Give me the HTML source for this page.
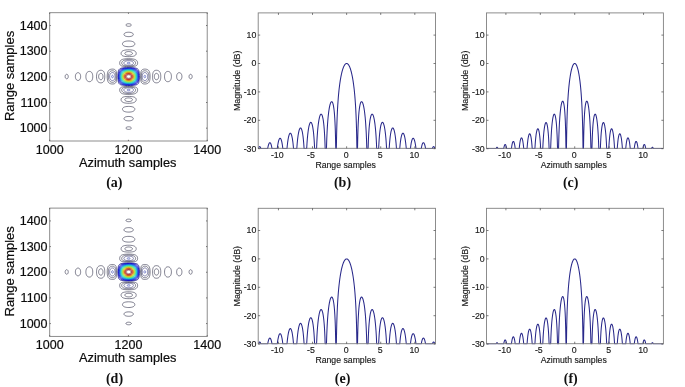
<!DOCTYPE html>
<html lang="en"><head><meta charset="utf-8"><title>Figure</title>
<style>
html,body{margin:0;padding:0;background:#fff;}
body{width:685px;height:387px;overflow:hidden;}
svg{display:block;font-family:"Liberation Sans", Arial, Helvetica, sans-serif;}
</style></head><body>
<svg width="685" height="387" viewBox="0 0 685 387">
<defs><filter id="bl" x="-20%" y="-20%" width="140%" height="140%"><feGaussianBlur stdDeviation="0.3"/></filter></defs>
<rect width="685" height="387" fill="#fff"/>
<g><path d="M127.81 23.78 128.36 23.73 128.89 23.73 129.41 23.77 129.94 23.87 130.29 23.98 130.64 24.13 130.99 24.36 131.21 24.58 131.34 24.87 131.36 25.06 131.33 25.22 131.26 25.39 131.14 25.55 130.97 25.71 130.64 25.91 130.29 26.06 129.76 26.2 129.24 26.28 128.71 26.3 128.19 26.29 127.66 26.22 127.14 26.1 126.79 25.97 126.44 25.78 126.16 25.55 126.04 25.39 125.97 25.22 125.94 25.06 125.95 24.9 126.08 24.59 126.23 24.42 126.61 24.16 126.96 24 127.31 23.88ZM127.46 32.29 128.36 32.23 129.24 32.24 130.11 32.32 130.99 32.49 131.69 32.72 132.22 32.96 132.74 33.33 133.09 33.74 133.18 33.9 133.29 34.22 133.31 34.54 133.29 34.7 133.18 35.02 133.09 35.18 132.82 35.5 132.39 35.83 131.74 36.14 130.99 36.37 130.11 36.53 129.24 36.61 128.19 36.61 127.31 36.54 126.44 36.4 125.56 36.14 125.03 35.9 124.51 35.53 124.21 35.18 124.12 35.02 124.01 34.7 123.99 34.54 124.01 34.22 124.12 33.9 124.21 33.74 124.51 33.38 125.03 32.99 125.73 32.67 126.49 32.45ZM126.45 41.12 127.66 41 129.06 40.98 130.29 41.05 131.52 41.24 132.39 41.46 133.27 41.82 133.62 42.02 133.94 42.25 134.41 42.73 134.61 43.05 134.74 43.37 134.81 43.69 134.82 44.01 134.78 44.33 134.67 44.65 134.49 44.98 134.23 45.3 133.97 45.52 133.62 45.76 132.89 46.1 131.87 46.39 130.71 46.58 129.41 46.68 128.19 46.69 126.96 46.62 125.73 46.45 124.86 46.25 124.03 45.94 123.46 45.61 123.25 45.46 122.93 45.14 122.71 44.82 122.57 44.49 122.49 44.17 122.48 43.85 122.52 43.53 122.62 43.21 122.78 42.89 123.02 42.57 123.28 42.31 123.58 42.09 123.98 41.84 124.33 41.68 124.86 41.48 125.38 41.33ZM126.07 49.95 127.66 49.83 129.24 49.82 130.82 49.91 132.31 50.11 133.44 50.39 134.32 50.74 135.02 51.16 135.3 51.4 135.6 51.72 135.83 52.04 136.05 52.52 136.18 53 136.21 53.49 136.16 53.97 136.07 54.29 135.83 54.77 135.58 55.09 135.23 55.41 134.84 55.67 134.4 55.89 133.98 56.06 133.44 56.22 132.74 56.37 131.34 56.56 129.59 56.67 127.84 56.67 126.08 56.57 124.68 56.39 123.63 56.15 122.76 55.83 122.41 55.64 122.07 55.41 121.88 55.25 121.58 54.93 121.38 54.61 121.18 54.13 121.1 53.65 121.1 53.17 121.19 52.68 121.31 52.36 121.58 51.88 121.84 51.56 122.18 51.24 122.58 50.96 122.94 50.76 123.46 50.53 123.98 50.36 124.68 50.18ZM126.15 58.79 128.19 58.71 130.29 58.74 132.22 58.88 133.72 59.11 134.32 59.25 134.91 59.43 135.37 59.61 135.9 59.88 136.25 60.12 136.56 60.39 136.85 60.71 137.07 61.03 137.31 61.52 137.51 62.16 137.61 62.8 137.6 63.44 137.49 64.08 137.32 64.57 137.12 64.9 136.77 65.31 136.42 65.58 135.9 65.85 135.48 66.01 134.89 66.17 134.14 66.32 133.27 66.43 131.17 66.58 128.89 66.62 126.61 66.59 124.71 66.49 123.26 66.33 122.23 66.13 121.35 65.83 121 65.65 120.65 65.41 120.43 65.21 120.17 64.89 119.91 64.41 119.74 63.76 119.68 63.12 119.73 62.48 119.87 61.84 120.06 61.35 120.33 60.87 120.74 60.39 121.12 60.07 121.64 59.75 122.23 59.49 122.76 59.31 123.46 59.13 124.33 58.98ZM111.09 69.22 111.72 69.13 112.24 69.09 113.3 69.14 113.82 69.22 114.35 69.38 114.7 69.52 115.05 69.73 115.4 70.02 115.57 70.22 115.78 70.51 116.03 70.99 116.21 71.47 116.34 71.95 116.54 73.08 116.63 74.04 116.7 75.32 116.72 76.77 116.69 78.05 116.62 79.18 116.5 80.3 116.35 81.11 116.17 81.75 115.92 82.35 115.7 82.71 115.4 83.08 115.05 83.37 114.7 83.58 114.17 83.78 113.65 83.91 112.93 84 112.42 84.01 111.72 83.97 111.19 83.9 110.67 83.78 110.14 83.61 109.62 83.37 109.27 83.16 108.92 82.88 108.59 82.55 108.34 82.23 108.15 81.91 107.91 81.43 107.74 80.94 107.56 80.3 107.34 79.02 107.25 78.05 107.2 77.09 107.21 75.97 107.25 75 107.34 74.04 107.47 73.24 107.65 72.43 107.86 71.8 108.08 71.31 108.39 70.81 108.74 70.38 109.09 70.07 109.44 69.83 109.97 69.56 110.49 69.37ZM143.49 69.22 144.13 69.12 144.66 69.09 145.36 69.11 145.88 69.17 146.41 69.26 146.93 69.41 147.46 69.61 147.81 69.8 148.16 70.03 148.51 70.33 148.81 70.67 149.03 70.99 149.22 71.31 149.43 71.79 149.73 72.76 149.89 73.56 150.01 74.52 150.08 75.49 150.1 76.61 150.07 77.73 150 78.7 149.87 79.66 149.7 80.46 149.51 81.11 149.32 81.59 149.04 82.11 148.71 82.55 148.33 82.93 147.98 83.19 147.46 83.49 146.93 83.69 146.41 83.84 145.88 83.93 145.36 83.99 144.66 84.01 144.13 83.98 143.6 83.9 143.08 83.77 142.73 83.63 142.2 83.33 141.86 83.03 141.68 82.82 141.49 82.55 141.25 82.07 140.98 81.22 140.8 80.3 140.69 79.34 140.62 78.21 140.58 76.77 140.6 75.49 140.66 74.2 140.76 73.08 140.92 72.11 141.09 71.47 141.33 70.86 141.52 70.51 141.85 70.07 142.2 69.77 142.55 69.55 143.08 69.33ZM99.97 70.35 100.51 70.27 101.03 70.26 101.56 70.31 101.91 70.39 102.26 70.49 102.65 70.67 102.96 70.85 103.31 71.14 103.61 71.47 103.84 71.79 104.19 72.51 104.45 73.4 104.65 74.52 104.72 75.32 104.76 76.13 104.76 77.09 104.72 77.89 104.53 79.34 104.38 79.98 104.19 80.59 104.01 80.99 103.76 81.43 103.48 81.78 103.13 82.12 102.78 82.36 102.43 82.54 102.08 82.67 101.56 82.79 101.03 82.84 100.51 82.83 99.98 82.76 99.63 82.67 99.1 82.48 98.75 82.31 98.4 82.08 98.05 81.78 97.74 81.43 97.53 81.13 97.33 80.78 97.11 80.3 96.81 79.34 96.61 78.21 96.51 76.77 96.52 75.97 96.58 75.16 96.68 74.36 96.82 73.72 97 73.08 97.18 72.63 97.35 72.27 97.65 71.79 97.91 71.47 98.24 71.15 98.69 70.83 99.1 70.62 99.46 70.48ZM155.56 70.35 156.04 70.28 156.57 70.26 157.09 70.31 157.44 70.37 157.92 70.51 158.32 70.67 158.67 70.87 159.02 71.12 159.55 71.66 159.76 71.95 160.03 72.43 160.24 72.92 160.4 73.4 160.62 74.36 160.71 75 160.77 75.81 160.79 76.61 160.76 77.41 160.69 78.21 160.59 78.86 160.45 79.5 160.26 80.14 160.05 80.62 159.79 81.11 159.55 81.44 159.2 81.83 158.85 82.11 158.5 82.34 158.15 82.51 157.62 82.69 157.27 82.77 156.74 82.83 156.22 82.84 155.87 82.8 155.34 82.7 154.99 82.59 154.64 82.43 154.29 82.21 153.94 81.91 153.77 81.73 153.54 81.43 153.27 80.94 152.96 80.14 152.71 79.03 152.61 78.21 152.55 77.41 152.53 76.45 152.56 75.65 152.62 74.84 152.72 74.04 152.85 73.4 153.03 72.76 153.21 72.27 153.42 71.87 153.69 71.47 153.98 71.15 154.29 70.89 154.64 70.67 155.17 70.45ZM88.83 71.47 89.29 71.42 89.64 71.42 89.99 71.47 90.35 71.55 90.7 71.69 91.05 71.89 91.5 72.27 91.92 72.81 92.29 73.56 92.45 74.04 92.56 74.52 92.71 75.49 92.76 76.77 92.68 77.89 92.6 78.38 92.46 79.02 92.17 79.82 91.92 80.29 91.75 80.54 91.54 80.78 91.22 81.08 90.87 81.32 90.52 81.48 90.17 81.6 89.82 81.66 89.12 81.67 88.77 81.62 88.42 81.52 88.07 81.38 87.72 81.18 87.19 80.74 86.95 80.46 86.73 80.14 86.49 79.71 86.34 79.34 86.06 78.38 85.92 77.41 85.89 76.29 85.98 75.16 86.19 74.2 86.49 73.39 86.86 72.76 87.19 72.36 87.46 72.11 87.72 71.92 88.07 71.72 88.42 71.58ZM167.28 71.47 167.78 71.41 168.13 71.42 168.48 71.47 168.83 71.56 169.18 71.7 169.53 71.89 170.02 72.27 170.32 72.59 170.55 72.92 170.88 73.56 171.15 74.36 171.34 75.32 171.42 76.45 171.36 77.57 171.2 78.54 171.07 79.02 170.9 79.5 170.57 80.14 170.35 80.46 170.06 80.79 169.71 81.09 169.36 81.31 169.01 81.48 168.66 81.59 167.96 81.69 167.61 81.68 167.26 81.62 166.91 81.53 166.55 81.38 166.2 81.18 165.92 80.94 165.5 80.48 165.13 79.82 164.94 79.34 164.8 78.87 164.63 77.94 164.54 76.77 164.59 75.49 164.77 74.36 164.9 73.88 165.08 73.4 165.32 72.92 165.5 72.62 165.96 72.11 166.2 71.92 166.55 71.72 166.91 71.57ZM77.46 72.76 77.73 72.69 78.08 72.67 78.61 72.74 79.13 72.97 79.48 73.22 79.83 73.6 80.18 74.19 80.42 74.84 80.56 75.49 80.64 76.29 80.61 77.25 80.48 78.05 80.27 78.7 79.94 79.34 79.54 79.82 79.13 80.14 78.61 80.36 78.08 80.43 77.56 80.37 77.03 80.17 76.53 79.82 76.15 79.39 75.84 78.86 75.6 78.21 75.45 77.57 75.37 76.77 75.41 75.81 75.56 75 75.79 74.36 76.15 73.72 76.5 73.31 76.79 73.08 77.03 72.93ZM178.65 72.76 179.17 72.67 179.69 72.72 180.22 72.9 180.72 73.24 181.1 73.64 181.44 74.2 181.69 74.84 181.84 75.49 181.93 76.29 181.91 77.09 181.79 77.89 181.53 78.7 181.18 79.34 180.77 79.82 180.4 80.1 179.87 80.34 179.34 80.43 178.82 80.39 178.29 80.2 177.94 79.98 177.77 79.83 177.42 79.43 177.09 78.86 176.89 78.31 176.73 77.57 176.66 76.77 176.69 75.81 176.83 75 177.04 74.36 177.38 73.72 177.77 73.27 178.12 73ZM66.32 74.36 66.52 74.31 66.87 74.31 67.09 74.36 67.4 74.52 67.73 74.84 67.92 75.13 68.08 75.49 68.17 75.81 68.24 76.29 68.24 76.77 68.18 77.25 68.09 77.57 67.92 77.97 67.75 78.24 67.45 78.54 67.19 78.7 66.87 78.79 66.52 78.79 66.22 78.7 65.99 78.57 65.64 78.22 65.47 77.95 65.3 77.57 65.22 77.25 65.15 76.77 65.15 76.29 65.23 75.81 65.32 75.49 65.47 75.15 65.67 74.84 65.99 74.53ZM190.21 74.36 190.56 74.3 190.91 74.34 191.26 74.5 191.43 74.64 191.63 74.84 191.84 75.16 191.98 75.49 192.11 75.97 192.16 76.45 192.14 76.93 192.08 77.25 191.96 77.67 191.78 78.04 191.61 78.28 191.34 78.54 191.08 78.7 190.73 78.8 190.38 78.79 190.11 78.7 189.86 78.55 189.67 78.38 189.43 78.05 189.27 77.73 189.12 77.25 189.06 76.77 189.06 76.29 189.13 75.81 189.22 75.49 189.45 75 189.68 74.71 189.9 74.52ZM125.32 86.56 127.49 86.49 129.76 86.48 131.98 86.56 133.62 86.71 134.84 86.92 135.34 87.05 135.8 87.21 136.43 87.53 136.77 87.79 136.98 88.01 137.3 88.49 137.48 88.97 137.6 89.62 137.61 90.26 137.52 90.9 137.33 91.54 137.1 92.02 136.77 92.48 136.43 92.83 136.01 93.15 135.55 93.41 135.02 93.63 134.32 93.85 133.62 94.01 132.74 94.16 131.87 94.26 129.94 94.37 127.84 94.39 125.91 94.3 124.25 94.11 123.11 93.89 122.58 93.74 122.06 93.54 121.56 93.31 121.18 93.07 120.87 92.83 120.55 92.51 120.2 92.02 119.97 91.54 119.78 90.9 119.69 90.26 119.7 89.62 119.82 88.97 120 88.49 120.3 88.03 120.65 87.69 121 87.45 121.5 87.21 121.96 87.05 122.6 86.89 123.46 86.74ZM126.15 96.52 127.84 96.43 129.59 96.43 131.34 96.54 132.74 96.73 133.85 97 134.65 97.32 135.02 97.54 135.37 97.8 135.8 98.29 135.98 98.61 136.15 99.09 136.21 99.57 136.18 100.05 136.07 100.52 135.94 100.86 135.72 101.22 135.37 101.64 135.02 101.94 134.67 102.17 134.14 102.44 133.7 102.62 133.19 102.78 132.52 102.94 130.99 103.17 129.41 103.27 127.84 103.27 126.26 103.17 124.86 102.96 123.81 102.69 123.28 102.5 122.86 102.3 122.41 102.03 122.13 101.82 121.66 101.34 121.45 101.02 121.23 100.53 121.12 100.05 121.09 99.57 121.15 99.09 121.25 98.77 121.5 98.29 121.76 97.97 122.06 97.7 122.41 97.46 122.93 97.19 123.45 97 124.03 96.84 124.68 96.71ZM127 106.48 128.36 106.41 129.76 106.44 130.99 106.55 132.04 106.75 132.92 107.01 133.62 107.34 134.18 107.76 134.57 108.24 134.72 108.56 134.8 108.88 134.82 109.21 134.79 109.53 134.7 109.85 134.54 110.17 134.31 110.49 133.99 110.81 133.62 111.08 133.27 111.28 132.46 111.61 131.34 111.9 130.11 112.06 128.89 112.12 127.66 112.1 126.44 111.98 125.38 111.77 124.51 111.5 123.76 111.13 123.46 110.93 123.13 110.65 122.76 110.17 122.6 109.85 122.51 109.53 122.48 109.21 122.5 108.88 122.58 108.56 122.73 108.24 122.96 107.92 123.28 107.62 123.81 107.27 124.16 107.1 124.68 106.91 125.73 106.65ZM127.04 116.59 128.01 116.5 128.89 116.48 129.94 116.55 130.82 116.69 131.62 116.91 132.22 117.17 132.74 117.53 133.06 117.88 133.16 118.04 133.28 118.36 133.31 118.52 133.3 118.84 133.26 119 133.12 119.32 132.87 119.64 132.5 119.96 131.87 120.31 131.17 120.56 130.29 120.75 129.41 120.85 128.36 120.87 127.49 120.81 126.61 120.68 125.77 120.45 125.21 120.21 124.68 119.87 124.29 119.48 124.16 119.28 124.04 119 124 118.84 123.99 118.52 124.07 118.2 124.14 118.04 124.36 117.72 124.72 117.4 124.97 117.23 125.38 117.03 126.21 116.75ZM127.71 126.87 128.19 126.81 128.71 126.8 129.24 126.82 129.76 126.9 130.25 127.03 130.64 127.19 130.91 127.35 131.17 127.59 131.32 127.83 131.36 127.99 131.36 128.15 131.24 128.48 131.11 128.64 130.93 128.8 130.64 128.97 130.29 129.12 129.73 129.28 129.24 129.35 128.71 129.38 128.19 129.36 127.66 129.29 127.14 129.16 126.79 129.03 126.44 128.84 126.19 128.64 126.06 128.48 125.98 128.31 125.94 128.15 125.94 127.99 126.07 127.67 126.2 127.51 126.44 127.32 126.79 127.13 127.14 127Z" fill="none" stroke="#24243e" stroke-width="0.62" stroke-opacity="0.92"/><path d="M127.06 51.72 127.84 51.6 128.54 51.56 129.41 51.6 130.11 51.69 130.82 51.87 131.34 52.07 131.84 52.36 132.19 52.68 132.4 53 132.46 53.17 132.49 53.49 132.42 53.81 132.23 54.13 131.88 54.45 131.34 54.74 130.82 54.93 130.11 55.09 129.41 55.18 128.54 55.21 127.84 55.17 127.14 55.08 126.48 54.93 125.91 54.72 125.42 54.45 125.07 54.13 124.88 53.81 124.81 53.49 124.84 53.17 124.9 53 125.11 52.68 125.46 52.36 125.91 52.1 126.45 51.88ZM126.75 59.75 128.19 59.66 129.59 59.68 130.99 59.8 132.22 60.02 133.27 60.35 134.03 60.71 134.32 60.9 134.69 61.19 135 61.52 135.23 61.84 135.39 62.16 135.55 62.64 135.6 63.12 135.57 63.44 135.49 63.76 135.36 64.08 135.15 64.41 134.84 64.73 134.49 64.98 134.09 65.21 133.22 65.53 132.04 65.78 130.46 65.95 128.89 66.01 127.31 65.98 125.91 65.87 124.75 65.69 123.81 65.44 123.11 65.16 122.76 64.95 122.46 64.73 122.23 64.5 122.04 64.24 121.87 63.92 121.73 63.44 121.7 63.12 121.75 62.64 121.88 62.22 122.07 61.84 122.3 61.52 122.58 61.22 122.93 60.93 123.28 60.7 123.81 60.44 124.33 60.24 125.38 59.96ZM111.83 70.83 112.59 70.77 113.12 70.83 113.47 70.91 113.82 71.03 114.17 71.21 114.52 71.47 114.84 71.79 115.22 72.37 115.4 72.76 115.58 73.24 115.8 74.2 115.95 75.49 115.98 76.93 115.88 78.38 115.78 79.02 115.63 79.66 115.48 80.14 115.28 80.62 115.05 81.03 114.73 81.43 114.52 81.63 114.17 81.89 113.82 82.07 113.47 82.19 113.12 82.27 112.59 82.33 112.07 82.31 111.72 82.25 111.19 82.11 110.84 81.97 110.49 81.78 110.14 81.54 109.62 81.03 109.31 80.62 109.12 80.3 108.92 79.86 108.74 79.39 108.49 78.38 108.36 77.25 108.35 75.97 108.41 75.32 108.5 74.68 108.74 73.71 108.92 73.24 109.15 72.76 109.34 72.43 109.62 72.07 109.97 71.71 110.26 71.47 110.67 71.22 111.02 71.06 111.37 70.93ZM144.17 70.83 144.66 70.78 145.01 70.78 145.47 70.83 145.88 70.92 146.58 71.19 146.93 71.4 147.28 71.66 147.58 71.95 147.85 72.27 148.06 72.59 148.31 73.08 148.51 73.56 148.66 74.04 148.85 75 148.96 76.29 148.91 77.57 148.83 78.21 148.71 78.86 148.4 79.82 148.18 80.3 147.98 80.63 147.76 80.94 147.46 81.28 147.11 81.58 146.76 81.81 146.41 81.99 145.88 82.18 145.53 82.26 145.01 82.32 144.31 82.29 143.95 82.23 143.6 82.12 143.25 81.96 142.9 81.73 142.57 81.43 142.38 81.2 142.02 80.62 141.85 80.23 141.68 79.7 141.47 78.7 141.33 77.25 141.34 75.65 141.5 74.2 141.64 73.56 141.78 73.08 141.97 72.59 142.2 72.15 142.46 71.79 142.73 71.51 143.08 71.25 143.43 71.05 143.78 70.92ZM100.47 73.4 100.86 73.35 101.38 73.43 101.73 73.59 102.08 73.87 102.43 74.3 102.63 74.68 102.81 75.16 102.94 75.81 102.99 76.45 102.96 77.17 102.82 77.89 102.65 78.38 102.43 78.8 102.08 79.23 101.73 79.51 101.38 79.67 101.03 79.74 100.51 79.71 99.98 79.51 99.63 79.26 99.28 78.87 98.99 78.38 98.81 77.89 98.66 77.25 98.61 76.61 98.65 75.97 98.77 75.32 99.01 74.68 99.28 74.23 99.63 73.84 99.98 73.59ZM156.04 73.4 156.39 73.35 156.92 73.42 157.27 73.56 157.71 73.88 158 74.2 158.29 74.68 158.5 75.22 158.63 75.81 158.69 76.45 158.66 77.09 158.54 77.73 158.38 78.21 158.13 78.7 157.8 79.14 157.44 79.43 157.09 79.62 156.74 79.72 156.22 79.73 155.9 79.66 155.69 79.57 155.34 79.35 154.99 78.98 154.72 78.54 154.53 78.05 154.38 77.41 154.31 76.77 154.34 75.97 154.45 75.32 154.64 74.74 154.94 74.2 155.2 73.88 155.63 73.56ZM126.11 87.21 127.66 87.1 129.24 87.09 130.82 87.17 132.04 87.32 133.09 87.54 134 87.85 134.58 88.17 134.84 88.38 135.11 88.65 135.33 88.97 135.48 89.29 135.56 89.62 135.59 90.1 135.52 90.58 135.41 90.9 135.19 91.31 134.9 91.7 134.67 91.93 134.32 92.2 133.82 92.51 133.44 92.68 132.92 92.88 132.39 93.03 131.69 93.19 130.99 93.3 129.59 93.42 128.19 93.44 126.79 93.35 125.41 93.15 124.33 92.86 123.48 92.51 123.11 92.29 122.76 92.04 122.27 91.54 122.05 91.22 121.89 90.9 121.78 90.58 121.71 90.1 121.74 89.62 121.82 89.29 121.97 88.97 122.23 88.6 122.51 88.33 122.93 88.04 123.3 87.85 123.71 87.69 124.24 87.53 124.86 87.39ZM127.47 97.97 128.19 97.9 129.06 97.9 129.82 97.97 130.64 98.12 131.18 98.29 131.69 98.53 132.03 98.77 132.32 99.09 132.46 99.41 132.49 99.57 132.47 99.89 132.34 100.21 132.08 100.53 131.66 100.86 131.17 101.1 130.46 101.33 129.76 101.46 129.06 101.53 128.19 101.52 127.49 101.45 126.79 101.32 126.26 101.15 125.64 100.86 125.22 100.53 124.96 100.21 124.83 99.89 124.81 99.57 124.84 99.41 124.98 99.09 125.27 98.77 125.73 98.46 126.13 98.29 126.63 98.13Z" fill="none" stroke="#24243e" stroke-width="0.62" stroke-opacity="0.92"/><path d="M128.51 60.71 129.59 60.75 130.46 60.87 131.34 61.08 132.03 61.35 132.59 61.68 132.96 62 133.11 62.16 133.31 62.48 133.46 62.96 133.45 63.28 133.42 63.44 133.28 63.76 133.18 63.92 132.86 64.24 132.36 64.57 131.69 64.83 130.84 65.05 129.94 65.17 129.06 65.23 128.01 65.22 126.96 65.13 126.08 64.97 125.3 64.73 124.66 64.41 124.26 64.08 124.02 63.76 123.94 63.6 123.85 63.28 123.83 63.12 123.87 62.8 123.98 62.49 124.08 62.32 124.33 62 124.51 61.84 125.03 61.48 125.73 61.16 126.61 60.91 127.49 60.77ZM112.02 72.59 112.59 72.55 113.12 72.64 113.65 72.89 114.05 73.24 114.41 73.72 114.7 74.33 114.89 75 115.01 75.81 115.05 76.77 114.98 77.57 114.82 78.38 114.7 78.77 114.52 79.18 114.17 79.73 113.82 80.08 113.65 80.21 113.3 80.4 112.77 80.54 112.24 80.54 111.72 80.42 111.19 80.16 110.95 79.98 110.67 79.72 110.26 79.18 109.97 78.57 109.76 77.89 109.63 77.09 109.62 76.29 109.7 75.49 109.86 74.84 110.14 74.14 110.51 73.56 111 73.08 111.54 72.75ZM144.35 72.59 144.66 72.55 145.01 72.55 145.53 72.66 146.06 72.9 146.49 73.24 146.91 73.72 147.19 74.2 147.44 74.84 147.62 75.65 147.69 76.45 147.65 77.25 147.5 78.05 147.28 78.7 146.94 79.34 146.58 79.77 146.06 80.19 145.53 80.44 145.01 80.55 144.48 80.53 143.95 80.38 143.6 80.18 143.43 80.04 143.07 79.66 142.73 79.07 142.53 78.54 142.34 77.73 142.26 76.77 142.29 75.81 142.41 75 142.65 74.2 142.99 73.56 143.41 73.08 143.78 72.81 144.13 72.66ZM126.7 88.01 127.66 87.9 128.71 87.87 129.59 87.9 130.6 88.01 131.37 88.17 132.04 88.39 132.57 88.65 132.99 88.97 133.14 89.13 133.35 89.46 133.41 89.62 133.46 89.94 133.44 90.23 133.4 90.42 133.27 90.7 133.14 90.9 132.92 91.15 132.64 91.38 132.12 91.7 131.34 92.02 130.64 92.2 129.76 92.33 128.71 92.39 127.66 92.34 126.79 92.22 125.99 92.02 125.21 91.72 124.66 91.38 124.3 91.06 124.16 90.9 123.97 90.58 123.84 90.1 123.85 89.78 123.89 89.62 123.98 89.4 124.16 89.13 124.49 88.81 125.03 88.49 125.41 88.33 125.91 88.18Z" fill="none" stroke="#2c2c70" stroke-width="0.62" stroke-opacity="0.92"/><path d="M127.78 62.48 128.36 62.36 128.89 62.36 129.52 62.48 129.94 62.69 130.07 62.8 130.17 62.96 130.2 63.12 130.16 63.28 130.03 63.44 129.8 63.6 129.41 63.74 128.89 63.82 128.19 63.8 127.66 63.67 127.5 63.6 127.27 63.44 127.14 63.28 127.1 63.12 127.12 62.96 127.23 62.8 127.43 62.64ZM112.21 75.32 112.42 75.26 112.59 75.27 112.77 75.32 112.95 75.44 113.12 75.64 113.3 76.04 113.35 76.29 113.36 76.61 113.3 77.07 113.12 77.45 112.95 77.66 112.84 77.73 112.59 77.83 112.42 77.84 112.24 77.79 112.07 77.7 111.81 77.41 111.72 77.25 111.62 76.93 111.58 76.45 111.68 75.97 111.89 75.57 112.07 75.4ZM144.54 75.32 144.83 75.26 145.01 75.29 145.18 75.37 145.36 75.51 145.53 75.76 145.67 76.13 145.72 76.61 145.64 77.09 145.49 77.41 145.36 77.59 145.18 77.73 145.01 77.81 144.83 77.84 144.66 77.82 144.48 77.75 144.31 77.61 144.15 77.41 143.97 76.93 143.94 76.45 144.03 75.97 144.13 75.73 144.31 75.49ZM128.19 89.29 128.89 89.27 129.41 89.36 129.76 89.48 129.99 89.62 130.14 89.78 130.2 89.94 130.19 90.1 130.11 90.26 129.94 90.42 129.59 90.6 128.94 90.74 128.35 90.74 128.01 90.68 127.66 90.58 127.36 90.42 127.19 90.26 127.14 90.15 127.1 89.94 127.16 89.78 127.31 89.62 127.66 89.43Z" fill="none" stroke="#2a38a8" stroke-width="0.62" stroke-opacity="0.92"/></g>
<g fill="none" stroke-width="0.75" filter="url(#bl)"><path d="M123.97 67.78 126.61 67.65 129.94 67.63 132.74 67.73 133.97 67.84 134.84 67.95 135.55 68.07 136.25 68.25 136.77 68.44 137.3 68.7 137.65 68.93 138 69.25 138.24 69.54 138.52 70.01 138.7 70.41 138.87 70.93 139.12 72.11 139.29 73.72 139.37 75.65 139.36 77.89 139.26 79.82 139.17 80.62 139.05 81.42 138.9 82.07 138.75 82.55 138.47 83.19 138.15 83.67 137.66 84.16 137.12 84.5 136.42 84.79 135.55 85.03 134.49 85.2 133.27 85.33 130.64 85.45 127.49 85.47 124.68 85.37 123.63 85.29 122.58 85.17 121.88 85.05 121.18 84.89 120.65 84.71 120.13 84.48 119.78 84.26 119.43 83.97 119.08 83.58 118.83 83.19 118.61 82.71 118.44 82.23 118.2 81.11 118.03 79.66 117.93 77.73 117.93 75.49 118.03 73.4 118.23 71.79 118.37 71.15 118.51 70.67 118.77 70.03 118.95 69.7 119.19 69.38 119.6 68.97 120.13 68.62 120.83 68.32 121.71 68.08 122.76 67.9Z" stroke="#00007d"/><path d="M126.74 68.1 128.01 68.06 129.41 68.06 130.82 68.11 132.04 68.2 133.09 68.31 133.97 68.46 134.84 68.66 135.55 68.89 136.07 69.12 136.6 69.43 137.12 69.85 137.47 70.23 137.82 70.75 138.1 71.31 138.33 71.95 138.5 72.59 138.71 73.88 138.83 75.32 138.86 76.93 138.78 78.54 138.63 79.82 138.39 80.94 138.12 81.75 137.89 82.23 137.7 82.55 137.3 83.07 136.77 83.55 136.07 83.98 135.37 84.28 134.49 84.53 133.44 84.74 132.22 84.89 130.64 85 128.01 85.04 126.61 85 125.38 84.92 124.33 84.8 123.46 84.67 122.58 84.47 121.88 84.26 121.26 84 120.7 83.67 120.29 83.35 119.83 82.87 119.5 82.39 119.25 81.91 119.01 81.27 118.83 80.62 118.6 79.34 118.48 77.89 118.44 76.29 118.51 74.68 118.65 73.4 118.88 72.27 119.2 71.31 119.6 70.55 119.87 70.19 120.13 69.9 120.65 69.46 121.35 69.06 122.06 68.78 122.93 68.54 123.98 68.35 125.21 68.2Z" stroke="#0000b0"/><path d="M126.04 68.58 127.14 68.5 128.36 68.47 129.59 68.48 130.64 68.53 131.69 68.62 132.74 68.77 133.62 68.94 134.32 69.14 134.99 69.38 135.55 69.65 136.07 69.98 136.51 70.35 136.95 70.82 137.29 71.31 137.54 71.79 137.8 72.43 138.06 73.4 138.27 74.68 138.36 75.97 138.35 77.41 138.23 78.7 138.04 79.82 137.76 80.78 137.4 81.59 136.99 82.23 136.56 82.71 135.96 83.19 135.37 83.54 134.67 83.84 133.79 84.11 132.74 84.33 131.52 84.5 130.46 84.58 129.24 84.63 128.01 84.63 126.79 84.58 125.73 84.49 124.68 84.35 123.81 84.18 122.93 83.95 122.23 83.68 121.71 83.42 121.18 83.08 120.74 82.71 120.31 82.23 119.99 81.75 119.74 81.27 119.49 80.62 119.19 79.5 119.03 78.38 118.94 77.09 118.96 75.65 119.07 74.36 119.27 73.24 119.56 72.27 119.92 71.47 120.35 70.83 120.83 70.31 121.4 69.86 122.06 69.5 122.93 69.15 123.81 68.92 124.86 68.72Z" stroke="#0000db"/><path d="M127.23 68.9 128.36 68.86 129.59 68.88 130.64 68.94 131.69 69.06 132.57 69.21 133.44 69.42 134.14 69.65 134.84 69.96 135.37 70.27 135.9 70.67 136.37 71.15 136.73 71.63 137.01 72.11 137.3 72.76 137.51 73.4 137.69 74.2 137.83 75.16 137.89 76.29 137.87 77.41 137.75 78.54 137.56 79.5 137.31 80.3 136.95 81.11 136.54 81.75 136.07 82.27 135.54 82.71 134.84 83.14 134.14 83.45 133.27 83.73 132.39 83.93 131.34 84.09 130.11 84.2 129.06 84.24 127.84 84.23 126.79 84.17 125.73 84.06 124.86 83.92 123.98 83.72 123.28 83.49 122.57 83.19 121.99 82.87 121.53 82.54 121.03 82.07 120.65 81.59 120.35 81.11 120.05 80.46 119.83 79.82 119.63 79.02 119.47 77.89 119.41 76.77 119.43 75.65 119.55 74.52 119.75 73.56 120 72.76 120.37 71.95 120.8 71.31 121.35 70.71 121.88 70.3 122.58 69.9 123.28 69.61 124.16 69.34 125.03 69.15 126.08 69Z" stroke="#0029db"/><path d="M126.27 69.38 127.14 69.3 128.19 69.24 129.24 69.25 130.29 69.31 131.34 69.42 132.22 69.58 133.09 69.81 133.72 70.03 134.32 70.29 134.84 70.59 135.37 70.98 135.73 71.31 136.14 71.79 136.46 72.27 136.78 72.92 137.02 73.56 137.26 74.52 137.39 75.49 137.44 76.45 137.39 77.57 137.27 78.54 137.03 79.5 136.73 80.3 136.39 80.94 136.05 81.43 135.55 81.97 135.02 82.39 134.32 82.81 133.62 83.11 132.74 83.39 131.87 83.59 130.82 83.74 129.94 83.82 128.89 83.86 127.84 83.84 126.79 83.77 125.91 83.67 125.03 83.51 124.16 83.28 123.47 83.03 122.8 82.71 122.28 82.39 121.87 82.07 121.38 81.59 121.01 81.11 120.73 80.62 120.48 80.09 120.27 79.5 120.07 78.7 119.92 77.73 119.86 76.77 119.9 75.65 120.01 74.68 120.23 73.72 120.52 72.92 120.84 72.27 121.28 71.63 121.71 71.18 122.23 70.74 122.88 70.35 123.58 70.03 124.33 69.77 125.21 69.56Z" stroke="#0059db"/><path d="M126.85 69.7 127.84 69.63 128.71 69.61 129.76 69.64 130.64 69.73 131.52 69.86 132.22 70.01 132.92 70.22 133.62 70.49 134.26 70.83 134.74 71.15 135.19 71.53 135.59 71.95 135.94 72.43 136.25 72.97 136.5 73.56 136.7 74.2 136.87 75 136.98 75.97 136.99 76.93 136.92 77.73 136.79 78.54 136.57 79.34 136.25 80.13 135.9 80.74 135.49 81.27 135 81.75 134.49 82.13 133.79 82.52 133.09 82.82 132.39 83.04 131.52 83.24 130.64 83.37 129.76 83.46 128.89 83.49 127.84 83.47 126.96 83.41 126.08 83.29 125.21 83.12 124.51 82.92 123.81 82.66 123.25 82.39 122.72 82.07 122.23 81.68 121.81 81.27 121.44 80.78 121.14 80.3 120.85 79.66 120.63 79.02 120.45 78.21 120.33 77.25 120.31 76.29 120.36 75.49 120.49 74.68 120.69 73.88 121 73.08 121.36 72.43 121.71 71.95 122.23 71.42 122.78 70.99 123.46 70.6 124.16 70.3 125.03 70.03 125.91 69.84Z" stroke="#0086db"/><path d="M127.4 70.03 128.19 69.98 129.06 69.98 129.94 70.03 130.82 70.13 131.69 70.3 132.39 70.49 133.09 70.75 133.62 71 134.14 71.32 134.67 71.73 135.06 72.11 135.45 72.59 135.75 73.08 136.05 73.72 136.27 74.36 136.42 75 136.52 75.81 136.56 76.61 136.51 77.41 136.39 78.21 136.18 79.02 135.93 79.66 135.58 80.3 135.24 80.78 134.79 81.27 134.32 81.66 133.79 82 133.09 82.35 132.39 82.6 131.69 82.8 130.82 82.97 129.94 83.07 129.06 83.12 128.19 83.12 127.31 83.07 126.44 82.96 125.56 82.79 124.86 82.59 124.16 82.32 123.63 82.07 123.11 81.75 122.69 81.43 122.23 80.98 121.88 80.54 121.53 79.98 121.3 79.5 121.07 78.86 120.91 78.21 120.79 77.41 120.74 76.61 120.78 75.81 120.88 75 121.08 74.2 121.32 73.56 121.64 72.92 122.06 72.33 122.41 71.94 122.95 71.47 123.46 71.13 124.16 70.78 124.87 70.51 125.73 70.27 126.61 70.11Z" stroke="#00b6db"/><path d="M128.1 70.35 128.89 70.34 129.76 70.38 130.64 70.49 131.34 70.62 132.04 70.81 132.74 71.07 133.27 71.32 133.79 71.64 134.32 72.05 134.7 72.43 135.09 72.92 135.38 73.4 135.61 73.88 135.84 74.52 135.99 75.16 136.09 75.81 136.12 76.45 136.09 77.25 136 77.89 135.85 78.54 135.63 79.18 135.32 79.82 135 80.3 134.59 80.78 134.14 81.2 133.62 81.57 133.01 81.91 132.39 82.17 131.69 82.39 130.99 82.55 130.11 82.68 129.24 82.75 128.36 82.76 127.49 82.71 126.61 82.6 125.91 82.46 125.21 82.27 124.51 82.01 123.98 81.75 123.46 81.43 122.93 81 122.56 80.62 122.19 80.14 121.9 79.66 121.67 79.18 121.45 78.54 121.3 77.89 121.21 77.25 121.18 76.45 121.22 75.81 121.34 75 121.51 74.36 121.76 73.72 122.01 73.24 122.33 72.76 122.76 72.26 123.28 71.8 123.77 71.47 124.33 71.17 125.03 70.89 125.73 70.68 126.44 70.53 127.31 70.4Z" stroke="#18dbbb"/><path d="M126.91 70.83 127.66 70.74 128.36 70.7 129.24 70.71 129.94 70.77 130.64 70.87 131.34 71.02 132.04 71.24 132.57 71.45 133.09 71.73 133.62 72.07 134.05 72.43 134.36 72.76 134.74 73.24 135.02 73.7 135.25 74.2 135.42 74.68 135.57 75.32 135.66 75.97 135.68 76.77 135.63 77.41 135.52 78.05 135.33 78.7 135.05 79.34 134.77 79.82 134.4 80.3 133.97 80.74 133.51 81.11 133 81.43 132.39 81.72 131.69 81.98 130.99 82.16 130.29 82.29 129.59 82.37 128.89 82.4 128.01 82.39 127.31 82.33 126.61 82.22 125.91 82.06 125.21 81.84 124.68 81.62 124.16 81.35 123.63 80.99 123.28 80.7 122.9 80.3 122.53 79.82 122.25 79.34 122.03 78.86 121.87 78.38 121.72 77.73 121.64 77.09 121.62 76.29 121.67 75.65 121.79 75 121.99 74.36 122.27 73.72 122.56 73.24 122.93 72.76 123.28 72.4 123.81 71.98 124.33 71.65 124.86 71.4 125.56 71.14 126.26 70.95Z" stroke="#3fdb95"/><path d="M127.3 71.15 128.01 71.08 128.71 71.06 129.41 71.09 130 71.15 130.64 71.26 131.34 71.43 131.87 71.61 132.39 71.84 132.89 72.11 133.27 72.37 133.73 72.76 134.03 73.08 134.4 73.56 134.67 74.03 134.89 74.52 135.04 75 135.15 75.49 135.23 76.13 135.24 76.77 135.19 77.41 135.06 78.05 134.84 78.69 134.62 79.18 134.32 79.66 133.97 80.1 133.6 80.46 133.09 80.86 132.57 81.17 132.04 81.42 131.52 81.61 130.82 81.81 130.11 81.93 129.41 82.01 128.71 82.04 128.01 82.02 127.31 81.95 126.61 81.83 126.08 81.7 125.38 81.47 124.86 81.24 124.34 80.94 123.98 80.7 123.63 80.4 123.23 79.98 122.87 79.5 122.6 79.02 122.4 78.54 122.24 78.05 122.14 77.57 122.06 76.93 122.06 76.29 122.12 75.65 122.26 75 122.41 74.52 122.71 73.88 123.01 73.4 123.41 72.92 123.75 72.59 124.16 72.27 124.68 71.95 125.21 71.7 125.91 71.45 126.61 71.27Z" stroke="#63db71"/><path d="M127.8 71.47 128.54 71.43 129.24 71.45 129.94 71.52 130.46 71.61 130.99 71.74 131.62 71.95 132.04 72.13 132.57 72.42 133.04 72.76 133.41 73.08 133.71 73.4 133.97 73.74 134.24 74.2 134.46 74.68 134.62 75.16 134.73 75.65 134.79 76.13 134.8 76.77 134.73 77.41 134.63 77.89 134.48 78.38 134.26 78.86 133.98 79.34 133.62 79.8 133.28 80.14 132.89 80.46 132.39 80.78 131.87 81.05 131.34 81.25 130.82 81.41 130.29 81.52 129.59 81.62 128.89 81.66 128.19 81.66 127.49 81.59 126.96 81.51 125.91 81.23 125.38 81.02 124.86 80.75 124.41 80.46 124.02 80.14 123.63 79.75 123.32 79.34 123.04 78.86 122.82 78.38 122.67 77.89 122.57 77.41 122.51 76.93 122.5 76.29 122.57 75.65 122.68 75.16 122.84 74.68 123.06 74.2 123.35 73.72 123.63 73.35 124.06 72.92 124.47 72.59 124.86 72.35 125.38 72.08 125.91 71.87 126.61 71.66 127.14 71.56Z" stroke="#8adb4a"/><path d="M127.14 71.95 127.66 71.87 128.36 71.82 129.06 71.82 129.59 71.87 130.64 72.06 131.17 72.22 131.68 72.43 132.04 72.62 132.51 72.92 132.91 73.24 133.23 73.56 133.49 73.88 133.79 74.35 133.97 74.71 134.14 75.16 134.26 75.65 134.33 76.13 134.34 76.77 134.29 77.25 134.2 77.73 134.04 78.21 133.82 78.7 133.62 79.04 133.27 79.5 132.96 79.82 132.57 80.14 132.22 80.38 131.69 80.66 131.17 80.88 130.64 81.04 130.11 81.16 129.06 81.28 128.36 81.28 127.84 81.25 126.79 81.07 126.26 80.92 125.73 80.72 125.22 80.46 124.86 80.23 124.51 79.97 124.16 79.64 123.81 79.22 123.57 78.86 123.4 78.54 123.2 78.05 123.07 77.57 122.99 77.09 122.96 76.45 122.99 75.97 123.08 75.49 123.22 75 123.42 74.52 123.69 74.04 123.98 73.66 124.33 73.29 124.68 72.99 125.03 72.75 125.56 72.46 126 72.27 126.61 72.08Z" stroke="#b6db1d"/><path d="M127.68 72.27 128.71 72.21 129.76 72.29 130.29 72.4 130.82 72.55 131.34 72.75 131.69 72.93 132.39 73.4 132.74 73.72 133.02 74.04 133.27 74.4 133.51 74.84 133.63 75.16 133.77 75.65 133.85 76.13 133.87 76.61 133.83 77.09 133.74 77.57 133.62 77.98 133.44 78.39 133.17 78.86 132.92 79.18 132.62 79.5 132.24 79.82 131.52 80.26 130.64 80.61 130.11 80.74 129.59 80.83 128.54 80.89 127.49 80.8 126.96 80.69 126.44 80.54 125.91 80.32 125.56 80.14 124.86 79.66 124.52 79.34 124.25 79.02 123.98 78.62 123.78 78.21 123.63 77.83 123.52 77.41 123.45 76.93 123.43 76.45 123.53 75.65 123.67 75.16 123.81 74.82 124.05 74.36 124.33 73.98 124.56 73.72 124.91 73.4 125.36 73.08 125.73 72.86 126.61 72.51 127.14 72.37Z" stroke="#dbbf00"/><path d="M127.37 72.76 128.36 72.63 128.89 72.63 129.41 72.67 130.29 72.84 130.82 73.02 131.17 73.17 131.87 73.59 132.21 73.88 132.51 74.2 132.76 74.52 132.95 74.84 133.21 75.49 133.29 75.81 133.36 76.29 133.36 76.77 133.33 77.09 133.27 77.41 133.12 77.89 132.92 78.31 132.67 78.7 132.22 79.21 131.88 79.5 131.52 79.74 131.05 79.98 130.66 80.14 129.76 80.38 128.89 80.47 128.01 80.44 127.14 80.29 126.64 80.14 126.24 79.98 125.56 79.6 125.21 79.33 124.89 79.02 124.63 78.7 124.42 78.38 124.13 77.73 124 77.25 123.95 76.93 123.93 76.45 123.96 76.13 124.04 75.65 124.14 75.32 124.33 74.88 124.54 74.52 124.79 74.2 125.09 73.88 125.72 73.4 126.44 73.04 126.96 72.86Z" stroke="#d88400"/><path d="M128.43 73.08 129.24 73.1 129.98 73.24 130.46 73.39 130.82 73.54 131.41 73.88 131.96 74.36 132.22 74.67 132.39 74.94 132.59 75.32 132.7 75.65 132.82 76.29 132.82 76.77 132.79 77.09 132.6 77.73 132.45 78.05 132.26 78.38 131.85 78.86 131.52 79.14 131.23 79.34 130.6 79.66 129.76 79.91 128.89 80.02 128.01 79.99 127.16 79.82 126.44 79.54 125.84 79.18 125.3 78.7 125.04 78.38 124.86 78.08 124.7 77.73 124.59 77.41 124.48 76.77 124.48 76.29 124.52 75.97 124.71 75.32 124.87 75 125.07 74.68 125.5 74.2 126.08 73.75 126.79 73.41 127.31 73.24 127.66 73.16Z" stroke="#cf4b00"/><path d="M127.47 73.72 128.19 73.59 128.89 73.57 129.59 73.66 130.29 73.87 130.82 74.14 131.34 74.54 131.75 75 132.02 75.49 132.13 75.81 132.21 76.13 132.23 76.77 132.18 77.09 132.1 77.41 131.88 77.89 131.53 78.38 131.17 78.72 130.64 79.06 129.94 79.35 129.24 79.5 128.54 79.53 127.84 79.46 127.14 79.27 126.79 79.12 126.44 78.93 125.93 78.54 125.52 78.05 125.26 77.57 125.16 77.25 125.09 76.93 125.07 76.29 125.21 75.67 125.45 75.16 125.81 74.68 126.26 74.29 126.79 73.98Z" stroke="#c61400"/><path d="M127.96 74.2 128.54 74.14 129.06 74.16 129.59 74.26 130.11 74.45 130.52 74.68 130.9 75 131.17 75.32 131.42 75.81 131.54 76.29 131.54 76.77 131.43 77.25 131.2 77.73 130.82 78.18 130.46 78.45 130.01 78.7 129.53 78.86 128.89 78.96 128.36 78.95 127.84 78.87 127.29 78.7 126.79 78.42 126.44 78.13 126.1 77.73 125.87 77.25 125.76 76.77 125.76 76.29 125.88 75.81 126.13 75.32 126.44 74.97 126.96 74.57 127.49 74.33Z" stroke="#8d0000"/><path d="M127.81 75 128.19 74.9 128.54 74.86 129.06 74.89 129.41 74.98 129.76 75.13 130.06 75.32 130.29 75.54 130.48 75.81 130.62 76.13 130.68 76.45 130.67 76.77 130.58 77.09 130.41 77.41 130.12 77.73 129.9 77.89 129.59 78.06 129.24 78.17 128.89 78.23 128.36 78.23 128.01 78.16 127.66 78.04 127.31 77.83 127.02 77.57 126.79 77.25 126.66 76.93 126.61 76.61 126.64 76.29 126.74 75.97 126.92 75.65 127.14 75.41 127.47 75.16Z" stroke="#600000" stroke-opacity="0.55"/></g>
<rect x="49.7" y="12.7" width="157.5" height="128.3" fill="none" stroke="#808080" stroke-width="0.9"/>
<path d="M49.7 128.17h1.2M207.2 128.17h-1.2M49.7 102.51h1.2M207.2 102.51h-1.2M49.7 76.85h1.2M207.2 76.85h-1.2M49.7 51.19h1.2M207.2 51.19h-1.2M49.7 25.53h1.2M207.2 25.53h-1.2M49.7 141v-1.2M49.7 12.7v1.2M128.45 141v-1.2M128.45 12.7v1.2M207.2 141v-1.2M207.2 12.7v1.2" stroke="#444" stroke-width="0.7" fill="none"/>
<text x="47.5" y="132.17" font-size="12.5" text-anchor="end" fill="#0c0c0c" stroke="#0c0c0c" stroke-width="0.2">1000</text>
<text x="47.5" y="106.51" font-size="12.5" text-anchor="end" fill="#0c0c0c" stroke="#0c0c0c" stroke-width="0.2">1100</text>
<text x="47.5" y="80.85" font-size="12.5" text-anchor="end" fill="#0c0c0c" stroke="#0c0c0c" stroke-width="0.2">1200</text>
<text x="47.5" y="55.19" font-size="12.5" text-anchor="end" fill="#0c0c0c" stroke="#0c0c0c" stroke-width="0.2">1300</text>
<text x="47.5" y="29.53" font-size="12.5" text-anchor="end" fill="#0c0c0c" stroke="#0c0c0c" stroke-width="0.2">1400</text>
<text x="49.7" y="153.5" font-size="12.5" text-anchor="middle" fill="#0c0c0c" stroke="#0c0c0c" stroke-width="0.2">1000</text>
<text x="128.45" y="153.5" font-size="12.5" text-anchor="middle" fill="#0c0c0c" stroke="#0c0c0c" stroke-width="0.2">1200</text>
<text x="207.2" y="153.5" font-size="12.5" text-anchor="middle" fill="#0c0c0c" stroke="#0c0c0c" stroke-width="0.2">1400</text>
<text x="127.7" y="166.9" font-size="12.8" text-anchor="middle" fill="#0c0c0c" stroke="#0c0c0c" stroke-width="0.2">Azimuth samples</text>
<text transform="translate(14 75.95) rotate(-90)" font-size="13" text-anchor="middle" fill="#0c0c0c" stroke="#0c0c0c" stroke-width="0.2">Range samples</text>
<clipPath id="c258_0"><rect x="258.2" y="12.9" width="177.3" height="136"/></clipPath>
<polyline clip-path="url(#c258_0)" points="257.98 148.7 258.09 148.7 258.2 148.7 258.31 148.7 258.42 148.37 258.53 148.06 258.64 147.79 258.76 147.54 258.87 147.32 258.98 147.14 259.09 146.98 259.2 146.85 259.31 146.76 259.42 146.69 259.53 146.64 259.64 146.63 259.75 146.64 259.86 146.69 259.97 146.76 260.09 146.86 260.2 146.99 260.31 147.16 260.42 147.35 260.53 147.57 260.64 147.83 260.75 148.11 260.86 148.44 260.97 148.7 261.08 148.7 261.19 148.7 261.3 148.7 261.42 148.7 261.53 148.7 261.64 148.7 261.75 148.7 261.86 148.7 261.97 148.7 262.08 148.7 262.19 148.7 262.3 148.7 262.41 148.7 262.52 148.7 262.63 148.7 262.74 148.7 262.86 148.7 262.97 148.7 263.08 148.7 263.19 148.7 263.3 148.7 263.41 148.7 263.52 148.7 263.63 148.7 263.74 148.7 263.85 148.7 263.96 148.7 264.07 148.7 264.19 148.7 264.3 148.7 264.41 148.7 264.52 148.7 264.63 148.7 264.74 148.7 264.85 148.7 264.96 148.7 265.07 148.7 265.18 148.7 265.29 148.7 265.4 148.7 265.52 148.7 265.63 148.7 265.74 148.7 265.85 148.7 265.96 148.7 266.07 148.7 266.18 148.7 266.29 148.7 266.4 148.7 266.51 148.7 266.62 148.7 266.73 148.7 266.85 148.7 266.96 148.7 267.07 148.7 267.18 148.7 267.29 148.7 267.4 148.7 267.51 148.7 267.62 148.7 267.73 148.3 267.84 147.7 267.95 147.13 268.06 146.61 268.17 146.12 268.29 145.67 268.4 145.26 268.51 144.87 268.62 144.53 268.73 144.21 268.84 143.92 268.95 143.67 269.06 143.44 269.17 143.25 269.28 143.08 269.39 142.94 269.5 142.84 269.62 142.76 269.73 142.71 269.84 142.69 269.95 142.69 270.06 142.73 270.17 142.79 270.28 142.89 270.39 143.01 270.5 143.16 270.61 143.35 270.72 143.56 270.83 143.81 270.95 144.09 271.06 144.4 271.17 144.75 271.28 145.13 271.39 145.55 271.5 146.01 271.61 146.51 271.72 147.04 271.83 147.63 271.94 148.26 272.05 148.7 272.16 148.7 272.27 148.7 272.39 148.7 272.5 148.7 272.61 148.7 272.72 148.7 272.83 148.7 272.94 148.7 273.05 148.7 273.16 148.7 273.27 148.7 273.38 148.7 273.49 148.7 273.6 148.7 273.72 148.7 273.83 148.7 273.94 148.7 274.05 148.7 274.16 148.7 274.27 148.7 274.38 148.7 274.49 148.7 274.6 148.7 274.71 148.7 274.82 148.7 274.93 148.7 275.05 148.7 275.16 148.7 275.27 148.7 275.38 148.7 275.49 148.7 275.6 148.7 275.71 148.7 275.82 148.7 275.93 148.7 276.04 148.7 276.15 148.7 276.26 148.7 276.37 148.7 276.49 148.7 276.6 148.7 276.71 148.7 276.82 148.7 276.93 148.7 277.04 148.7 277.15 148.7 277.26 148.7 277.37 147.84 277.48 146.99 277.59 146.19 277.7 145.45 277.82 144.74 277.93 144.09 278.04 143.48 278.15 142.9 278.26 142.37 278.37 141.87 278.48 141.41 278.59 140.99 278.7 140.6 278.81 140.24 278.92 139.91 279.03 139.62 279.15 139.35 279.26 139.12 279.37 138.91 279.48 138.74 279.59 138.59 279.7 138.48 279.81 138.39 279.92 138.33 280.03 138.3 280.14 138.29 280.25 138.32 280.36 138.37 280.47 138.45 280.59 138.57 280.7 138.71 280.81 138.88 280.92 139.09 281.03 139.32 281.14 139.59 281.25 139.89 281.36 140.23 281.47 140.6 281.58 141.01 281.69 141.45 281.8 141.94 281.92 142.46 282.03 143.03 282.14 143.65 282.25 144.31 282.36 145.02 282.47 145.79 282.58 146.62 282.69 147.51 282.8 148.46 282.91 148.7 283.02 148.7 283.13 148.7 283.25 148.7 283.36 148.7 283.47 148.7 283.58 148.7 283.69 148.7 283.8 148.7 283.91 148.7 284.02 148.7 284.13 148.7 284.24 148.7 284.35 148.7 284.46 148.7 284.57 148.7 284.69 148.7 284.8 148.7 284.91 148.7 285.02 148.7 285.13 148.7 285.24 148.7 285.35 148.7 285.46 148.7 285.57 148.7 285.68 148.7 285.79 148.7 285.9 148.7 286.02 148.7 286.13 148.7 286.24 148.7 286.35 148.7 286.46 148.7 286.57 148.7 286.68 148.7 286.79 148.7 286.9 148.7 287.01 148.31 287.12 147.11 287.23 145.99 287.35 144.94 287.46 143.96 287.57 143.03 287.68 142.17 287.79 141.36 287.9 140.59 288.01 139.88 288.12 139.21 288.23 138.58 288.34 138 288.45 137.45 288.56 136.94 288.68 136.47 288.79 136.03 288.9 135.63 289.01 135.25 289.12 134.91 289.23 134.61 289.34 134.33 289.45 134.08 289.56 133.87 289.67 133.68 289.78 133.52 289.89 133.39 290 133.29 290.12 133.22 290.23 133.18 290.34 133.18 290.45 133.2 290.56 133.25 290.67 133.33 290.78 133.44 290.89 133.58 291 133.75 291.11 133.95 291.22 134.18 291.33 134.44 291.45 134.74 291.56 135.07 291.67 135.44 291.78 135.84 291.89 136.28 292 136.76 292.11 137.28 292.22 137.84 292.33 138.45 292.44 139.11 292.55 139.82 292.66 140.58 292.78 141.4 292.89 142.28 293 143.22 293.11 144.24 293.22 145.34 293.33 146.52 293.44 147.8 293.55 148.7 293.66 148.7 293.77 148.7 293.88 148.7 293.99 148.7 294.1 148.7 294.22 148.7 294.33 148.7 294.44 148.7 294.55 148.7 294.66 148.7 294.77 148.7 294.88 148.7 294.99 148.7 295.1 148.7 295.21 148.7 295.32 148.7 295.43 148.7 295.55 148.7 295.66 148.7 295.77 148.7 295.88 148.7 295.99 148.7 296.1 148.7 296.21 148.7 296.32 148.7 296.43 148.7 296.54 148.7 296.65 148.7 296.76 148.7 296.88 147.49 296.99 145.99 297.1 144.6 297.21 143.3 297.32 142.09 297.43 140.96 297.54 139.9 297.65 138.9 297.76 137.97 297.87 137.1 297.98 136.28 298.09 135.51 298.2 134.78 298.32 134.11 298.43 133.47 298.54 132.88 298.65 132.32 298.76 131.81 298.87 131.33 298.98 130.88 299.09 130.47 299.2 130.09 299.31 129.75 299.42 129.43 299.53 129.15 299.65 128.9 299.76 128.67 299.87 128.48 299.98 128.31 300.09 128.18 300.2 128.07 300.31 127.99 300.42 127.95 300.53 127.94 300.64 127.96 300.75 128 300.86 128.08 300.98 128.18 301.09 128.32 301.2 128.48 301.31 128.68 301.42 128.91 301.53 129.16 301.64 129.46 301.75 129.78 301.86 130.14 301.97 130.54 302.08 130.97 302.19 131.45 302.31 131.96 302.42 132.52 302.53 133.12 302.64 133.77 302.75 134.47 302.86 135.22 302.97 136.03 303.08 136.9 303.19 137.83 303.3 138.84 303.41 139.93 303.52 141.1 303.63 142.36 303.75 143.73 303.86 145.22 303.97 146.84 304.08 148.62 304.19 148.7 304.3 148.7 304.41 148.7 304.52 148.7 304.63 148.7 304.74 148.7 304.85 148.7 304.96 148.7 305.08 148.7 305.19 148.7 305.3 148.7 305.41 148.7 305.52 148.7 305.63 148.7 305.74 148.7 305.85 148.7 305.96 148.7 306.07 148.7 306.18 148.7 306.29 148.7 306.41 148.7 306.52 148.7 306.63 148.7 306.74 147.66 306.85 145.72 306.96 143.94 307.07 142.31 307.18 140.79 307.29 139.38 307.4 138.06 307.51 136.84 307.62 135.69 307.73 134.62 307.85 133.61 307.96 132.67 308.07 131.78 308.18 130.95 308.29 130.17 308.4 129.44 308.51 128.75 308.62 128.1 308.73 127.5 308.84 126.94 308.95 126.41 309.06 125.92 309.18 125.46 309.29 125.04 309.4 124.66 309.51 124.3 309.62 123.98 309.73 123.68 309.84 123.42 309.95 123.19 310.06 122.98 310.17 122.81 310.28 122.66 310.39 122.54 310.51 122.46 310.62 122.39 310.73 122.35 310.84 122.35 310.95 122.37 311.06 122.42 311.17 122.49 311.28 122.6 311.39 122.74 311.5 122.91 311.61 123.11 311.72 123.34 311.83 123.61 311.95 123.9 312.06 124.24 312.17 124.61 312.28 125.01 312.39 125.46 312.5 125.94 312.61 126.47 312.72 127.04 312.83 127.66 312.94 128.33 313.05 129.05 313.16 129.83 313.28 130.67 313.39 131.57 313.5 132.54 313.61 133.59 313.72 134.73 313.83 135.96 313.94 137.29 314.05 138.73 314.16 140.31 314.27 142.04 314.38 143.95 314.49 146.06 314.61 148.41 314.72 148.7 314.83 148.7 314.94 148.7 315.05 148.7 315.16 148.7 315.27 148.7 315.38 148.7 315.49 148.7 315.6 148.7 315.71 148.7 315.82 148.7 315.93 148.7 316.05 148.7 316.16 148.7 316.27 148.7 316.38 148.7 316.49 148.7 316.6 148.15 316.71 145.48 316.82 143.08 316.93 140.91 317.04 138.92 317.15 137.1 317.26 135.41 317.38 133.85 317.49 132.4 317.6 131.04 317.71 129.78 317.82 128.59 317.93 127.48 318.04 126.44 318.15 125.45 318.26 124.53 318.37 123.66 318.48 122.84 318.59 122.07 318.71 121.35 318.82 120.66 318.93 120.02 319.04 119.42 319.15 118.86 319.26 118.33 319.37 117.84 319.48 117.38 319.59 116.96 319.7 116.56 319.81 116.2 319.92 115.87 320.03 115.57 320.15 115.3 320.26 115.06 320.37 114.84 320.48 114.66 320.59 114.5 320.7 114.37 320.81 114.28 320.92 114.21 321.03 114.17 321.14 114.16 321.25 114.18 321.36 114.23 321.48 114.3 321.59 114.41 321.7 114.55 321.81 114.71 321.92 114.91 322.03 115.14 322.14 115.41 322.25 115.71 322.36 116.04 322.47 116.41 322.58 116.82 322.69 117.27 322.81 117.76 322.92 118.3 323.03 118.88 323.14 119.51 323.25 120.19 323.36 120.93 323.47 121.73 323.58 122.59 323.69 123.52 323.8 124.52 323.91 125.61 324.02 126.8 324.14 128.08 324.25 129.48 324.36 131 324.47 132.68 324.58 134.52 324.69 136.57 324.8 138.85 324.91 141.43 325.02 144.37 325.13 147.78 325.24 148.7 325.35 148.7 325.46 148.7 325.58 148.7 325.69 148.7 325.8 148.7 325.91 148.7 326.02 148.7 326.13 148.7 326.24 148.7 326.35 148.7 326.46 148.7 326.57 145.14 326.68 141.61 326.79 138.52 326.91 135.77 327.02 133.29 327.13 131.05 327.24 128.99 327.35 127.1 327.46 125.35 327.57 123.73 327.68 122.22 327.79 120.8 327.9 119.48 328.01 118.23 328.12 117.06 328.24 115.96 328.35 114.92 328.46 113.94 328.57 113.01 328.68 112.13 328.79 111.3 328.9 110.51 329.01 109.77 329.12 109.07 329.23 108.41 329.34 107.79 329.45 107.2 329.56 106.64 329.68 106.12 329.79 105.63 329.9 105.18 330.01 104.75 330.12 104.35 330.23 103.99 330.34 103.65 330.45 103.34 330.56 103.06 330.67 102.81 330.78 102.58 330.89 102.38 331.01 102.2 331.12 102.04 331.23 101.91 331.34 101.8 331.45 101.72 331.56 101.67 331.67 101.65 331.78 101.66 331.89 101.69 332 101.76 332.11 101.85 332.22 101.98 332.34 102.14 332.45 102.33 332.56 102.56 332.67 102.82 332.78 103.12 332.89 103.46 333 103.84 333.11 104.26 333.22 104.72 333.33 105.23 333.44 105.8 333.55 106.41 333.66 107.09 333.78 107.83 333.89 108.63 334 109.51 334.11 110.47 334.22 111.51 334.33 112.66 334.44 113.92 334.55 115.3 334.66 116.83 334.77 118.52 334.88 120.41 334.99 122.53 335.11 124.93 335.22 127.69 335.33 130.89 335.44 134.7 335.55 139.34 335.66 145.25 335.77 148.7 335.88 148.7 335.99 148.7 336.1 148.7 336.21 148.7 336.32 148.7 336.44 144.14 336.55 137.72 336.66 132.55 336.77 128.21 336.88 124.47 336.99 121.17 337.1 118.23 337.21 115.56 337.32 113.13 337.43 110.88 337.54 108.8 337.65 106.87 337.76 105.05 337.88 103.34 337.99 101.73 338.1 100.21 338.21 98.76 338.32 97.39 338.43 96.07 338.54 94.82 338.65 93.62 338.76 92.47 338.87 91.37 338.98 90.31 339.09 89.29 339.21 88.31 339.32 87.36 339.43 86.45 339.54 85.57 339.65 84.72 339.76 83.89 339.87 83.1 339.98 82.33 340.09 81.58 340.2 80.86 340.31 80.16 340.42 79.49 340.54 78.83 340.65 78.2 340.76 77.58 340.87 76.98 340.98 76.4 341.09 75.84 341.2 75.3 341.31 74.77 341.42 74.25 341.53 73.76 341.64 73.28 341.75 72.81 341.87 72.36 341.98 71.92 342.09 71.49 342.2 71.08 342.31 70.68 342.42 70.3 342.53 69.92 342.64 69.56 342.75 69.21 342.86 68.88 342.97 68.55 343.08 68.24 343.19 67.93 343.31 67.64 343.42 67.36 343.53 67.09 343.64 66.83 343.75 66.58 343.86 66.35 343.97 66.12 344.08 65.9 344.19 65.69 344.3 65.49 344.41 65.31 344.52 65.13 344.64 64.96 344.75 64.8 344.86 64.65 344.97 64.51 345.08 64.38 345.19 64.26 345.3 64.14 345.41 64.04 345.52 63.95 345.63 63.86 345.74 63.79 345.85 63.72 345.97 63.66 346.08 63.61 346.19 63.57 346.3 63.54 346.41 63.52 346.52 63.5 346.63 63.5 346.74 63.5 346.85 63.52 346.96 63.54 347.07 63.57 347.18 63.61 347.29 63.66 347.41 63.72 347.52 63.79 347.63 63.86 347.74 63.95 347.85 64.04 347.96 64.14 348.07 64.26 348.18 64.38 348.29 64.51 348.4 64.65 348.51 64.8 348.62 64.96 348.74 65.13 348.85 65.31 348.96 65.49 349.07 65.69 349.18 65.9 349.29 66.12 349.4 66.35 349.51 66.58 349.62 66.83 349.73 67.09 349.84 67.36 349.95 67.64 350.07 67.93 350.18 68.24 350.29 68.55 350.4 68.88 350.51 69.21 350.62 69.56 350.73 69.92 350.84 70.3 350.95 70.68 351.06 71.08 351.17 71.49 351.28 71.92 351.39 72.36 351.51 72.81 351.62 73.28 351.73 73.76 351.84 74.25 351.95 74.77 352.06 75.3 352.17 75.84 352.28 76.4 352.39 76.98 352.5 77.58 352.61 78.2 352.72 78.83 352.84 79.49 352.95 80.16 353.06 80.86 353.17 81.58 353.28 82.33 353.39 83.1 353.5 83.89 353.61 84.72 353.72 85.57 353.83 86.45 353.94 87.36 354.05 88.31 354.17 89.29 354.28 90.31 354.39 91.37 354.5 92.47 354.61 93.62 354.72 94.82 354.83 96.07 354.94 97.39 355.05 98.76 355.16 100.21 355.27 101.73 355.38 103.34 355.5 105.05 355.61 106.87 355.72 108.8 355.83 110.88 355.94 113.13 356.05 115.56 356.16 118.23 356.27 121.17 356.38 124.47 356.49 128.21 356.6 132.55 356.71 137.72 356.82 144.14 356.94 148.7 357.05 148.7 357.16 148.7 357.27 148.7 357.38 148.7 357.49 148.7 357.6 145.25 357.71 139.34 357.82 134.7 357.93 130.89 358.04 127.69 358.15 124.93 358.27 122.53 358.38 120.41 358.49 118.52 358.6 116.83 358.71 115.3 358.82 113.92 358.93 112.66 359.04 111.51 359.15 110.47 359.26 109.51 359.37 108.63 359.48 107.83 359.6 107.09 359.71 106.41 359.82 105.8 359.93 105.23 360.04 104.72 360.15 104.26 360.26 103.84 360.37 103.46 360.48 103.12 360.59 102.82 360.7 102.56 360.81 102.33 360.92 102.14 361.04 101.98 361.15 101.85 361.26 101.76 361.37 101.69 361.48 101.66 361.59 101.65 361.7 101.67 361.81 101.72 361.92 101.8 362.03 101.91 362.14 102.04 362.25 102.2 362.37 102.38 362.48 102.58 362.59 102.81 362.7 103.06 362.81 103.34 362.92 103.65 363.03 103.99 363.14 104.35 363.25 104.75 363.36 105.18 363.47 105.63 363.58 106.12 363.7 106.64 363.81 107.2 363.92 107.79 364.03 108.41 364.14 109.07 364.25 109.77 364.36 110.51 364.47 111.3 364.58 112.13 364.69 113.01 364.8 113.94 364.91 114.92 365.02 115.96 365.14 117.06 365.25 118.23 365.36 119.48 365.47 120.8 365.58 122.22 365.69 123.73 365.8 125.35 365.91 127.1 366.02 128.99 366.13 131.05 366.24 133.29 366.35 135.77 366.47 138.52 366.58 141.61 366.69 145.14 366.8 148.7 366.91 148.7 367.02 148.7 367.13 148.7 367.24 148.7 367.35 148.7 367.46 148.7 367.57 148.7 367.68 148.7 367.8 148.7 367.91 148.7 368.02 148.7 368.13 147.78 368.24 144.37 368.35 141.43 368.46 138.85 368.57 136.57 368.68 134.52 368.79 132.68 368.9 131 369.01 129.48 369.12 128.08 369.24 126.8 369.35 125.61 369.46 124.52 369.57 123.52 369.68 122.59 369.79 121.73 369.9 120.93 370.01 120.19 370.12 119.51 370.23 118.88 370.34 118.3 370.45 117.76 370.57 117.27 370.68 116.82 370.79 116.41 370.9 116.04 371.01 115.71 371.12 115.41 371.23 115.14 371.34 114.91 371.45 114.71 371.56 114.55 371.67 114.41 371.78 114.3 371.9 114.23 372.01 114.18 372.12 114.16 372.23 114.17 372.34 114.21 372.45 114.28 372.56 114.37 372.67 114.5 372.78 114.66 372.89 114.84 373 115.06 373.11 115.3 373.23 115.57 373.34 115.87 373.45 116.2 373.56 116.56 373.67 116.96 373.78 117.38 373.89 117.84 374 118.33 374.11 118.86 374.22 119.42 374.33 120.02 374.44 120.66 374.55 121.35 374.67 122.07 374.78 122.84 374.89 123.66 375 124.53 375.11 125.45 375.22 126.44 375.33 127.48 375.44 128.59 375.55 129.78 375.66 131.04 375.77 132.4 375.88 133.85 376 135.41 376.11 137.1 376.22 138.92 376.33 140.91 376.44 143.08 376.55 145.48 376.66 148.15 376.77 148.7 376.88 148.7 376.99 148.7 377.1 148.7 377.21 148.7 377.33 148.7 377.44 148.7 377.55 148.7 377.66 148.7 377.77 148.7 377.88 148.7 377.99 148.7 378.1 148.7 378.21 148.7 378.32 148.7 378.43 148.7 378.54 148.7 378.65 148.41 378.77 146.06 378.88 143.95 378.99 142.04 379.1 140.31 379.21 138.73 379.32 137.29 379.43 135.96 379.54 134.73 379.65 133.59 379.76 132.54 379.87 131.57 379.98 130.67 380.1 129.83 380.21 129.05 380.32 128.33 380.43 127.66 380.54 127.04 380.65 126.47 380.76 125.94 380.87 125.46 380.98 125.01 381.09 124.61 381.2 124.24 381.31 123.9 381.43 123.61 381.54 123.34 381.65 123.11 381.76 122.91 381.87 122.74 381.98 122.6 382.09 122.49 382.2 122.42 382.31 122.37 382.42 122.35 382.53 122.35 382.64 122.39 382.75 122.46 382.87 122.54 382.98 122.66 383.09 122.81 383.2 122.98 383.31 123.19 383.42 123.42 383.53 123.68 383.64 123.98 383.75 124.3 383.86 124.66 383.97 125.04 384.08 125.46 384.2 125.92 384.31 126.41 384.42 126.94 384.53 127.5 384.64 128.1 384.75 128.75 384.86 129.44 384.97 130.17 385.08 130.95 385.19 131.78 385.3 132.67 385.41 133.61 385.53 134.62 385.64 135.69 385.75 136.84 385.86 138.06 385.97 139.38 386.08 140.79 386.19 142.31 386.3 143.94 386.41 145.72 386.52 147.66 386.63 148.7 386.74 148.7 386.85 148.7 386.97 148.7 387.08 148.7 387.19 148.7 387.3 148.7 387.41 148.7 387.52 148.7 387.63 148.7 387.74 148.7 387.85 148.7 387.96 148.7 388.07 148.7 388.18 148.7 388.3 148.7 388.41 148.7 388.52 148.7 388.63 148.7 388.74 148.7 388.85 148.7 388.96 148.7 389.07 148.7 389.18 148.62 389.29 146.84 389.4 145.22 389.51 143.73 389.63 142.36 389.74 141.1 389.85 139.93 389.96 138.84 390.07 137.83 390.18 136.9 390.29 136.03 390.4 135.22 390.51 134.47 390.62 133.77 390.73 133.12 390.84 132.52 390.95 131.96 391.07 131.45 391.18 130.97 391.29 130.54 391.4 130.14 391.51 129.78 391.62 129.46 391.73 129.16 391.84 128.91 391.95 128.68 392.06 128.48 392.17 128.32 392.28 128.18 392.4 128.08 392.51 128 392.62 127.96 392.73 127.94 392.84 127.95 392.95 127.99 393.06 128.07 393.17 128.18 393.28 128.31 393.39 128.48 393.5 128.67 393.61 128.9 393.73 129.15 393.84 129.43 393.95 129.75 394.06 130.09 394.17 130.47 394.28 130.88 394.39 131.33 394.5 131.81 394.61 132.32 394.72 132.88 394.83 133.47 394.94 134.11 395.06 134.78 395.17 135.51 395.28 136.28 395.39 137.1 395.5 137.97 395.61 138.9 395.72 139.9 395.83 140.96 395.94 142.09 396.05 143.3 396.16 144.6 396.27 145.99 396.38 147.49 396.5 148.7 396.61 148.7 396.72 148.7 396.83 148.7 396.94 148.7 397.05 148.7 397.16 148.7 397.27 148.7 397.38 148.7 397.49 148.7 397.6 148.7 397.71 148.7 397.83 148.7 397.94 148.7 398.05 148.7 398.16 148.7 398.27 148.7 398.38 148.7 398.49 148.7 398.6 148.7 398.71 148.7 398.82 148.7 398.93 148.7 399.04 148.7 399.16 148.7 399.27 148.7 399.38 148.7 399.49 148.7 399.6 148.7 399.71 148.7 399.82 147.8 399.93 146.52 400.04 145.34 400.15 144.24 400.26 143.22 400.37 142.28 400.48 141.4 400.6 140.58 400.71 139.82 400.82 139.11 400.93 138.45 401.04 137.84 401.15 137.28 401.26 136.76 401.37 136.28 401.48 135.84 401.59 135.44 401.7 135.07 401.81 134.74 401.93 134.44 402.04 134.18 402.15 133.95 402.26 133.75 402.37 133.58 402.48 133.44 402.59 133.33 402.7 133.25 402.81 133.2 402.92 133.18 403.03 133.18 403.14 133.22 403.26 133.29 403.37 133.39 403.48 133.52 403.59 133.68 403.7 133.87 403.81 134.08 403.92 134.33 404.03 134.61 404.14 134.91 404.25 135.25 404.36 135.63 404.47 136.03 404.58 136.47 404.7 136.94 404.81 137.45 404.92 138 405.03 138.58 405.14 139.21 405.25 139.88 405.36 140.59 405.47 141.36 405.58 142.17 405.69 143.03 405.8 143.96 405.91 144.94 406.03 145.99 406.14 147.11 406.25 148.31 406.36 148.7 406.47 148.7 406.58 148.7 406.69 148.7 406.8 148.7 406.91 148.7 407.02 148.7 407.13 148.7 407.24 148.7 407.36 148.7 407.47 148.7 407.58 148.7 407.69 148.7 407.8 148.7 407.91 148.7 408.02 148.7 408.13 148.7 408.24 148.7 408.35 148.7 408.46 148.7 408.57 148.7 408.69 148.7 408.8 148.7 408.91 148.7 409.02 148.7 409.13 148.7 409.24 148.7 409.35 148.7 409.46 148.7 409.57 148.7 409.68 148.7 409.79 148.7 409.9 148.7 410.01 148.7 410.13 148.7 410.24 148.7 410.35 148.7 410.46 148.46 410.57 147.51 410.68 146.62 410.79 145.79 410.9 145.02 411.01 144.31 411.12 143.65 411.23 143.03 411.34 142.46 411.46 141.94 411.57 141.45 411.68 141.01 411.79 140.6 411.9 140.23 412.01 139.89 412.12 139.59 412.23 139.32 412.34 139.09 412.45 138.88 412.56 138.71 412.67 138.57 412.79 138.45 412.9 138.37 413.01 138.32 413.12 138.29 413.23 138.3 413.34 138.33 413.45 138.39 413.56 138.48 413.67 138.59 413.78 138.74 413.89 138.91 414 139.12 414.11 139.35 414.23 139.62 414.34 139.91 414.45 140.24 414.56 140.6 414.67 140.99 414.78 141.41 414.89 141.87 415 142.37 415.11 142.9 415.22 143.48 415.33 144.09 415.44 144.74 415.56 145.45 415.67 146.19 415.78 146.99 415.89 147.84 416 148.7 416.11 148.7 416.22 148.7 416.33 148.7 416.44 148.7 416.55 148.7 416.66 148.7 416.77 148.7 416.89 148.7 417 148.7 417.11 148.7 417.22 148.7 417.33 148.7 417.44 148.7 417.55 148.7 417.66 148.7 417.77 148.7 417.88 148.7 417.99 148.7 418.1 148.7 418.21 148.7 418.33 148.7 418.44 148.7 418.55 148.7 418.66 148.7 418.77 148.7 418.88 148.7 418.99 148.7 419.1 148.7 419.21 148.7 419.32 148.7 419.43 148.7 419.54 148.7 419.66 148.7 419.77 148.7 419.88 148.7 419.99 148.7 420.1 148.7 420.21 148.7 420.32 148.7 420.43 148.7 420.54 148.7 420.65 148.7 420.76 148.7 420.87 148.7 420.99 148.7 421.1 148.7 421.21 148.7 421.32 148.26 421.43 147.63 421.54 147.04 421.65 146.51 421.76 146.01 421.87 145.55 421.98 145.13 422.09 144.75 422.2 144.4 422.31 144.09 422.43 143.81 422.54 143.56 422.65 143.35 422.76 143.16 422.87 143.01 422.98 142.89 423.09 142.79 423.2 142.73 423.31 142.69 423.42 142.69 423.53 142.71 423.64 142.76 423.76 142.84 423.87 142.94 423.98 143.08 424.09 143.25 424.2 143.44 424.31 143.67 424.42 143.92 424.53 144.21 424.64 144.53 424.75 144.87 424.86 145.26 424.97 145.67 425.09 146.12 425.2 146.61 425.31 147.13 425.42 147.7 425.53 148.3 425.64 148.7 425.75 148.7 425.86 148.7 425.97 148.7 426.08 148.7 426.19 148.7 426.3 148.7 426.41 148.7 426.53 148.7 426.64 148.7 426.75 148.7 426.86 148.7 426.97 148.7 427.08 148.7 427.19 148.7 427.3 148.7 427.41 148.7 427.52 148.7 427.63 148.7 427.74 148.7 427.86 148.7 427.97 148.7 428.08 148.7 428.19 148.7 428.3 148.7 428.41 148.7 428.52 148.7 428.63 148.7 428.74 148.7 428.85 148.7 428.96 148.7 429.07 148.7 429.19 148.7 429.3 148.7 429.41 148.7 429.52 148.7 429.63 148.7 429.74 148.7 429.85 148.7 429.96 148.7 430.07 148.7 430.18 148.7 430.29 148.7 430.4 148.7 430.52 148.7 430.63 148.7 430.74 148.7 430.85 148.7 430.96 148.7 431.07 148.7 431.18 148.7 431.29 148.7 431.4 148.7 431.51 148.7 431.62 148.7 431.73 148.7 431.84 148.7 431.96 148.7 432.07 148.7 432.18 148.7 432.29 148.7 432.4 148.44 432.51 148.11 432.62 147.83 432.73 147.57 432.84 147.35 432.95 147.16 433.06 146.99 433.17 146.86 433.29 146.76 433.4 146.69 433.51 146.64 433.62 146.63 433.73 146.64 433.84 146.69 433.95 146.76 434.06 146.85 434.17 146.98 434.28 147.14 434.39 147.32 434.5 147.54 434.62 147.79 434.73 148.06 434.84 148.37 434.95 148.7 435.06 148.7 435.17 148.7 435.28 148.7" fill="none" stroke="#28288a" stroke-width="1.05" stroke-linejoin="round"/>
<rect x="258.2" y="12.9" width="177.3" height="135.4" fill="none" stroke="#808080" stroke-width="0.9"/>
<path d="M258.2 35.1h2M435.5 35.1h-2M258.2 63.5h2M435.5 63.5h-2M258.2 91.9h2M435.5 91.9h-2M258.2 120.3h2M435.5 120.3h-2M258.2 148.7h2M435.5 148.7h-2M278.44 148.3v-2M278.44 12.9v2M312.53 148.3v-2M312.53 12.9v2M346.63 148.3v-2M346.63 12.9v2M380.73 148.3v-2M380.73 12.9v2M414.82 148.3v-2M414.82 12.9v2" stroke="#444" stroke-width="0.7" fill="none"/>
<text x="256.4" y="38" font-size="8.8" text-anchor="end" fill="#1a1a1a" stroke="#1a1a1a" stroke-width="0.15">10</text>
<text x="256.4" y="66.4" font-size="8.8" text-anchor="end" fill="#1a1a1a" stroke="#1a1a1a" stroke-width="0.15">0</text>
<text x="256.4" y="94.8" font-size="8.8" text-anchor="end" fill="#1a1a1a" stroke="#1a1a1a" stroke-width="0.15">-10</text>
<text x="256.4" y="123.2" font-size="8.8" text-anchor="end" fill="#1a1a1a" stroke="#1a1a1a" stroke-width="0.15">-20</text>
<text x="256.4" y="151.6" font-size="8.8" text-anchor="end" fill="#1a1a1a" stroke="#1a1a1a" stroke-width="0.15">-30</text>
<text x="277.24" y="157.9" font-size="8.8" text-anchor="middle" fill="#1a1a1a" stroke="#1a1a1a" stroke-width="0.15">-10</text>
<text x="311.03" y="157.9" font-size="8.8" text-anchor="middle" fill="#1a1a1a" stroke="#1a1a1a" stroke-width="0.15">-5</text>
<text x="346.13" y="157.9" font-size="8.8" text-anchor="middle" fill="#1a1a1a" stroke="#1a1a1a" stroke-width="0.15">0</text>
<text x="380.23" y="157.9" font-size="8.8" text-anchor="middle" fill="#1a1a1a" stroke="#1a1a1a" stroke-width="0.15">5</text>
<text x="414.32" y="157.9" font-size="8.8" text-anchor="middle" fill="#1a1a1a" stroke="#1a1a1a" stroke-width="0.15">10</text>
<text x="345.63" y="167.5" font-size="8.7" text-anchor="middle" fill="#1a1a1a" stroke="#1a1a1a" stroke-width="0.15">Range samples</text>
<text transform="translate(239.6 80.8) rotate(-90)" font-size="8.85" text-anchor="middle" fill="#1a1a1a" stroke="#1a1a1a" stroke-width="0.15">Magnitude (dB)</text>
<clipPath id="c486_0"><rect x="486.5" y="12.9" width="176.9" height="136"/></clipPath>
<polyline clip-path="url(#c486_0)" points="486.28 148.7 486.39 148.7 486.5 148.7 486.61 148.7 486.72 148.7 486.83 148.7 486.94 148.7 487.05 148.7 487.16 148.7 487.28 148.7 487.39 148.7 487.5 148.7 487.61 148.7 487.72 148.7 487.83 148.7 487.94 148.7 488.05 148.7 488.16 148.7 488.27 148.7 488.38 148.7 488.49 148.7 488.6 148.7 488.71 148.7 488.82 148.7 488.93 148.7 489.04 148.7 489.15 148.7 489.27 148.7 489.38 148.7 489.49 148.7 489.6 148.7 489.71 148.7 489.82 148.7 489.93 148.7 490.04 148.7 490.15 148.7 490.26 148.7 490.37 148.7 490.48 148.7 490.59 148.7 490.7 148.7 490.81 148.7 490.92 148.7 491.03 148.7 491.14 148.7 491.26 148.7 491.37 148.7 491.48 148.7 491.59 148.7 491.7 148.7 491.81 148.7 491.92 148.7 492.03 148.7 492.14 148.7 492.25 148.7 492.36 148.7 492.47 148.7 492.58 148.7 492.69 148.7 492.8 148.7 492.91 148.7 493.02 148.7 493.13 148.7 493.25 148.7 493.36 148.7 493.47 148.7 493.58 148.7 493.69 148.7 493.8 148.7 493.91 148.7 494.02 148.7 494.13 148.7 494.24 148.7 494.35 148.7 494.46 148.7 494.57 148.7 494.68 148.7 494.79 148.7 494.9 148.7 495.01 148.7 495.12 148.7 495.24 148.7 495.35 148.7 495.46 148.7 495.57 148.7 495.68 148.7 495.79 148.7 495.9 148.7 496.01 148.7 496.12 148.7 496.23 148.4 496.34 148.1 496.45 147.84 496.56 147.64 496.67 147.47 496.78 147.36 496.89 147.29 497 147.26 497.12 147.28 497.23 147.34 497.34 147.45 497.45 147.6 497.56 147.8 497.67 148.05 497.78 148.35 497.89 148.7 498 148.7 498.11 148.7 498.22 148.7 498.33 148.7 498.44 148.7 498.55 148.7 498.66 148.7 498.77 148.7 498.88 148.7 498.99 148.7 499.11 148.7 499.22 148.7 499.33 148.7 499.44 148.7 499.55 148.7 499.66 148.7 499.77 148.7 499.88 148.7 499.99 148.7 500.1 148.7 500.21 148.7 500.32 148.7 500.43 148.7 500.54 148.7 500.65 148.7 500.76 148.7 500.87 148.7 500.98 148.7 501.1 148.7 501.21 148.7 501.32 148.7 501.43 148.7 501.54 148.7 501.65 148.7 501.76 148.7 501.87 148.7 501.98 148.7 502.09 148.7 502.2 148.7 502.31 148.7 502.42 148.7 502.53 148.7 502.64 148.7 502.75 148.7 502.86 148.7 502.97 148.7 503.09 148.7 503.2 148.7 503.31 148.7 503.42 148.7 503.53 148.7 503.64 148.7 503.75 148.39 503.86 147.79 503.97 147.24 504.08 146.75 504.19 146.31 504.3 145.93 504.41 145.59 504.52 145.3 504.63 145.05 504.74 144.85 504.85 144.7 504.97 144.59 505.08 144.53 505.19 144.51 505.3 144.54 505.41 144.61 505.52 144.73 505.63 144.89 505.74 145.1 505.85 145.36 505.96 145.67 506.07 146.02 506.18 146.43 506.29 146.9 506.4 147.42 506.51 148 506.62 148.64 506.73 148.7 506.84 148.7 506.96 148.7 507.07 148.7 507.18 148.7 507.29 148.7 507.4 148.7 507.51 148.7 507.62 148.7 507.73 148.7 507.84 148.7 507.95 148.7 508.06 148.7 508.17 148.7 508.28 148.7 508.39 148.7 508.5 148.7 508.61 148.7 508.72 148.7 508.83 148.7 508.95 148.7 509.06 148.7 509.17 148.7 509.28 148.7 509.39 148.7 509.5 148.7 509.61 148.7 509.72 148.7 509.83 148.7 509.94 148.7 510.05 148.7 510.16 148.7 510.27 148.7 510.38 148.7 510.49 148.7 510.6 148.7 510.71 148.7 510.82 148.7 510.94 148.7 511.05 148.7 511.16 148.7 511.27 148.7 511.38 148.7 511.49 148.15 511.6 147.31 511.71 146.54 511.82 145.83 511.93 145.18 512.04 144.59 512.15 144.06 512.26 143.58 512.37 143.15 512.48 142.77 512.59 142.44 512.7 142.16 512.82 141.92 512.93 141.73 513.04 141.59 513.15 141.49 513.26 141.43 513.37 141.42 513.48 141.46 513.59 141.54 513.7 141.66 513.81 141.83 513.92 142.05 514.03 142.32 514.14 142.63 514.25 143 514.36 143.42 514.47 143.89 514.58 144.42 514.69 145.01 514.81 145.67 514.92 146.39 515.03 147.18 515.14 148.04 515.25 148.7 515.36 148.7 515.47 148.7 515.58 148.7 515.69 148.7 515.8 148.7 515.91 148.7 516.02 148.7 516.13 148.7 516.24 148.7 516.35 148.7 516.46 148.7 516.57 148.7 516.68 148.7 516.8 148.7 516.91 148.7 517.02 148.7 517.13 148.7 517.24 148.7 517.35 148.7 517.46 148.7 517.57 148.7 517.68 148.7 517.79 148.7 517.9 148.7 518.01 148.7 518.12 148.7 518.23 148.7 518.34 148.7 518.45 148.7 518.56 148.7 518.67 148.7 518.79 148.7 518.9 148.7 519.01 148.7 519.12 148.7 519.23 148.56 519.34 147.41 519.45 146.35 519.56 145.38 519.67 144.48 519.78 143.65 519.89 142.89 520 142.19 520.11 141.55 520.22 140.97 520.33 140.45 520.44 139.98 520.55 139.56 520.66 139.18 520.78 138.86 520.89 138.59 521 138.36 521.11 138.17 521.22 138.03 521.33 137.94 521.44 137.89 521.55 137.89 521.66 137.93 521.77 138.01 521.88 138.14 521.99 138.32 522.1 138.55 522.21 138.82 522.32 139.14 522.43 139.52 522.54 139.95 522.66 140.43 522.77 140.97 522.88 141.57 522.99 142.23 523.1 142.97 523.21 143.77 523.32 144.65 523.43 145.62 523.54 146.67 523.65 147.83 523.76 148.7 523.87 148.7 523.98 148.7 524.09 148.7 524.2 148.7 524.31 148.7 524.42 148.7 524.53 148.7 524.65 148.7 524.76 148.7 524.87 148.7 524.98 148.7 525.09 148.7 525.2 148.7 525.31 148.7 525.42 148.7 525.53 148.7 525.64 148.7 525.75 148.7 525.86 148.7 525.97 148.7 526.08 148.7 526.19 148.7 526.3 148.7 526.41 148.7 526.52 148.7 526.64 148.7 526.75 148.7 526.86 148.7 526.97 148.7 527.08 148.28 527.19 146.83 527.3 145.5 527.41 144.27 527.52 143.14 527.63 142.1 527.74 141.14 527.85 140.25 527.96 139.43 528.07 138.68 528.18 137.99 528.29 137.36 528.4 136.79 528.51 136.27 528.63 135.8 528.74 135.39 528.85 135.02 528.96 134.7 529.07 134.43 529.18 134.21 529.29 134.03 529.4 133.89 529.51 133.8 529.62 133.76 529.73 133.75 529.84 133.8 529.95 133.89 530.06 134.02 530.17 134.21 530.28 134.43 530.39 134.71 530.5 135.04 530.62 135.42 530.73 135.85 530.84 136.34 530.95 136.89 531.06 137.5 531.17 138.17 531.28 138.92 531.39 139.73 531.5 140.63 531.61 141.61 531.72 142.68 531.83 143.86 531.94 145.14 532.05 146.56 532.16 148.11 532.27 148.7 532.38 148.7 532.5 148.7 532.61 148.7 532.72 148.7 532.83 148.7 532.94 148.7 533.05 148.7 533.16 148.7 533.27 148.7 533.38 148.7 533.49 148.7 533.6 148.7 533.71 148.7 533.82 148.7 533.93 148.7 534.04 148.7 534.15 148.7 534.26 148.7 534.37 148.7 534.49 148.7 534.6 148.7 534.71 148.7 534.82 148.7 534.93 148.28 535.04 146.42 535.15 144.73 535.26 143.18 535.37 141.75 535.48 140.44 535.59 139.23 535.7 138.11 535.81 137.08 535.92 136.13 536.03 135.25 536.14 134.44 536.25 133.69 536.36 133.01 536.48 132.38 536.59 131.81 536.7 131.3 536.81 130.83 536.92 130.42 537.03 130.05 537.14 129.74 537.25 129.46 537.36 129.24 537.47 129.06 537.58 128.92 537.69 128.83 537.8 128.79 537.91 128.78 538.02 128.83 538.13 128.92 538.24 129.05 538.35 129.23 538.47 129.46 538.58 129.74 538.69 130.07 538.8 130.45 538.91 130.88 539.02 131.38 539.13 131.93 539.24 132.54 539.35 133.22 539.46 133.97 539.57 134.79 539.68 135.69 539.79 136.68 539.9 137.77 540.01 138.96 540.12 140.27 540.23 141.7 540.35 143.29 540.46 145.04 540.57 146.99 540.68 148.7 540.79 148.7 540.9 148.7 541.01 148.7 541.12 148.7 541.23 148.7 541.34 148.7 541.45 148.7 541.56 148.7 541.67 148.7 541.78 148.7 541.89 148.7 542 148.7 542.11 148.7 542.22 148.7 542.34 148.7 542.45 148.7 542.56 148.7 542.67 148.7 542.78 148.69 542.89 146.23 543 144.01 543.11 142.01 543.22 140.18 543.33 138.51 543.44 136.98 543.55 135.57 543.66 134.27 543.77 133.07 543.88 131.96 543.99 130.93 544.1 129.98 544.21 129.11 544.33 128.29 544.44 127.55 544.55 126.86 544.66 126.23 544.77 125.66 544.88 125.14 544.99 124.67 545.1 124.25 545.21 123.87 545.32 123.55 545.43 123.27 545.54 123.04 545.65 122.85 545.76 122.7 545.87 122.61 545.98 122.55 546.09 122.54 546.2 122.57 546.32 122.65 546.43 122.78 546.54 122.95 546.65 123.18 546.76 123.45 546.87 123.77 546.98 124.14 547.09 124.57 547.2 125.05 547.31 125.6 547.42 126.21 547.53 126.88 547.64 127.63 547.75 128.45 547.86 129.35 547.97 130.34 548.08 131.44 548.2 132.63 548.31 133.95 548.42 135.4 548.53 137.01 548.64 138.79 548.75 140.77 548.86 143 548.97 145.52 549.08 148.4 549.19 148.7 549.3 148.7 549.41 148.7 549.52 148.7 549.63 148.7 549.74 148.7 549.85 148.7 549.96 148.7 550.07 148.7 550.19 148.7 550.3 148.7 550.41 148.7 550.52 148.7 550.63 148.7 550.74 146.35 550.85 143.29 550.96 140.58 551.07 138.16 551.18 135.98 551.29 134 551.4 132.19 551.51 130.53 551.62 129.01 551.73 127.6 551.84 126.29 551.95 125.09 552.06 123.97 552.18 122.93 552.29 121.97 552.4 121.08 552.51 120.25 552.62 119.49 552.73 118.78 552.84 118.14 552.95 117.54 553.06 117 553.17 116.51 553.28 116.07 553.39 115.67 553.5 115.33 553.61 115.02 553.72 114.76 553.83 114.55 553.94 114.38 554.05 114.26 554.17 114.18 554.28 114.14 554.39 114.15 554.5 114.2 554.61 114.3 554.72 114.45 554.83 114.64 554.94 114.89 555.05 115.18 555.16 115.53 555.27 115.93 555.38 116.39 555.49 116.91 555.6 117.49 555.71 118.14 555.82 118.86 555.93 119.66 556.04 120.54 556.16 121.52 556.27 122.59 556.38 123.78 556.49 125.08 556.6 126.53 556.71 128.13 556.82 129.92 556.93 131.92 557.04 134.18 557.15 136.74 557.26 139.7 557.37 143.15 557.48 147.28 557.59 148.7 557.7 148.7 557.81 148.7 557.92 148.7 558.04 148.7 558.15 148.7 558.26 148.7 558.37 148.7 558.48 148.7 558.59 147.08 558.7 142.37 558.81 138.39 558.92 134.96 559.03 131.95 559.14 129.28 559.25 126.87 559.36 124.68 559.47 122.69 559.58 120.86 559.69 119.17 559.8 117.62 559.91 116.17 560.03 114.83 560.14 113.58 560.25 112.41 560.36 111.33 560.47 110.31 560.58 109.37 560.69 108.49 560.8 107.67 560.91 106.9 561.02 106.19 561.13 105.54 561.24 104.93 561.35 104.37 561.46 103.86 561.57 103.4 561.68 102.98 561.79 102.61 561.9 102.27 562.02 101.99 562.13 101.74 562.24 101.54 562.35 101.38 562.46 101.26 562.57 101.19 562.68 101.16 562.79 101.18 562.9 101.24 563.01 101.35 563.12 101.51 563.23 101.71 563.34 101.97 563.45 102.28 563.56 102.65 563.67 103.08 563.78 103.57 563.89 104.12 564.01 104.75 564.12 105.46 564.23 106.25 564.34 107.13 564.45 108.11 564.56 109.2 564.67 110.42 564.78 111.78 564.89 113.3 565 115.01 565.11 116.94 565.22 119.14 565.33 121.67 565.44 124.61 565.55 128.09 565.66 132.31 565.77 137.61 565.88 144.62 566 148.7 566.11 148.7 566.22 148.7 566.33 148.7 566.44 148.7 566.55 141.54 566.66 134.43 566.77 128.81 566.88 124.16 566.99 120.17 567.1 116.69 567.21 113.59 567.32 110.79 567.43 108.25 567.54 105.91 567.65 103.75 567.76 101.74 567.88 99.87 567.99 98.11 568.1 96.45 568.21 94.88 568.32 93.4 568.43 92 568.54 90.66 568.65 89.39 568.76 88.17 568.87 87.01 568.98 85.9 569.09 84.84 569.2 83.82 569.31 82.84 569.42 81.9 569.53 81 569.64 80.13 569.75 79.3 569.87 78.5 569.98 77.73 570.09 76.98 570.2 76.27 570.31 75.58 570.42 74.92 570.53 74.28 570.64 73.67 570.75 73.08 570.86 72.51 570.97 71.96 571.08 71.43 571.19 70.93 571.3 70.44 571.41 69.98 571.52 69.53 571.63 69.1 571.74 68.69 571.86 68.3 571.97 67.92 572.08 67.56 572.19 67.22 572.3 66.89 572.41 66.58 572.52 66.29 572.63 66.01 572.74 65.75 572.85 65.5 572.96 65.27 573.07 65.05 573.18 64.85 573.29 64.66 573.4 64.49 573.51 64.33 573.62 64.19 573.73 64.05 573.85 63.94 573.96 63.84 574.07 63.75 574.18 63.67 574.29 63.61 574.4 63.56 574.51 63.53 574.62 63.51 574.73 63.5 574.84 63.51 574.95 63.53 575.06 63.56 575.17 63.61 575.28 63.67 575.39 63.75 575.5 63.84 575.61 63.94 575.73 64.05 575.84 64.19 575.95 64.33 576.06 64.49 576.17 64.66 576.28 64.85 576.39 65.05 576.5 65.27 576.61 65.5 576.72 65.75 576.83 66.01 576.94 66.29 577.05 66.58 577.16 66.89 577.27 67.22 577.38 67.56 577.49 67.92 577.6 68.3 577.72 68.69 577.83 69.1 577.94 69.53 578.05 69.98 578.16 70.44 578.27 70.93 578.38 71.43 578.49 71.96 578.6 72.51 578.71 73.08 578.82 73.67 578.93 74.28 579.04 74.92 579.15 75.58 579.26 76.27 579.37 76.98 579.48 77.73 579.59 78.5 579.71 79.3 579.82 80.13 579.93 81 580.04 81.9 580.15 82.84 580.26 83.82 580.37 84.84 580.48 85.9 580.59 87.01 580.7 88.17 580.81 89.39 580.92 90.66 581.03 92 581.14 93.4 581.25 94.88 581.36 96.45 581.47 98.11 581.58 99.87 581.7 101.74 581.81 103.75 581.92 105.91 582.03 108.25 582.14 110.79 582.25 113.59 582.36 116.69 582.47 120.17 582.58 124.16 582.69 128.81 582.8 134.43 582.91 141.54 583.02 148.7 583.13 148.7 583.24 148.7 583.35 148.7 583.46 148.7 583.58 144.62 583.69 137.61 583.8 132.31 583.91 128.09 584.02 124.61 584.13 121.67 584.24 119.14 584.35 116.94 584.46 115.01 584.57 113.3 584.68 111.78 584.79 110.42 584.9 109.2 585.01 108.11 585.12 107.13 585.23 106.25 585.34 105.46 585.45 104.75 585.57 104.12 585.68 103.57 585.79 103.08 585.9 102.65 586.01 102.28 586.12 101.97 586.23 101.71 586.34 101.51 586.45 101.35 586.56 101.24 586.67 101.18 586.78 101.16 586.89 101.19 587 101.26 587.11 101.38 587.22 101.54 587.33 101.74 587.44 101.99 587.56 102.27 587.67 102.61 587.78 102.98 587.89 103.4 588 103.86 588.11 104.37 588.22 104.93 588.33 105.54 588.44 106.19 588.55 106.9 588.66 107.67 588.77 108.49 588.88 109.37 588.99 110.31 589.1 111.33 589.21 112.41 589.32 113.58 589.43 114.83 589.55 116.17 589.66 117.62 589.77 119.17 589.88 120.86 589.99 122.69 590.1 124.68 590.21 126.87 590.32 129.28 590.43 131.95 590.54 134.96 590.65 138.39 590.76 142.37 590.87 147.08 590.98 148.7 591.09 148.7 591.2 148.7 591.31 148.7 591.42 148.7 591.54 148.7 591.65 148.7 591.76 148.7 591.87 148.7 591.98 147.28 592.09 143.15 592.2 139.7 592.31 136.74 592.42 134.18 592.53 131.92 592.64 129.92 592.75 128.13 592.86 126.53 592.97 125.08 593.08 123.78 593.19 122.59 593.3 121.52 593.42 120.54 593.53 119.66 593.64 118.86 593.75 118.14 593.86 117.49 593.97 116.91 594.08 116.39 594.19 115.93 594.3 115.53 594.41 115.18 594.52 114.89 594.63 114.64 594.74 114.45 594.85 114.3 594.96 114.2 595.07 114.15 595.18 114.14 595.29 114.18 595.41 114.26 595.52 114.38 595.63 114.55 595.74 114.76 595.85 115.02 595.96 115.33 596.07 115.67 596.18 116.07 596.29 116.51 596.4 117 596.51 117.54 596.62 118.14 596.73 118.78 596.84 119.49 596.95 120.25 597.06 121.08 597.17 121.97 597.28 122.93 597.4 123.97 597.51 125.09 597.62 126.29 597.73 127.6 597.84 129.01 597.95 130.53 598.06 132.19 598.17 134 598.28 135.98 598.39 138.16 598.5 140.58 598.61 143.29 598.72 146.35 598.83 148.7 598.94 148.7 599.05 148.7 599.16 148.7 599.27 148.7 599.39 148.7 599.5 148.7 599.61 148.7 599.72 148.7 599.83 148.7 599.94 148.7 600.05 148.7 600.16 148.7 600.27 148.7 600.38 148.4 600.49 145.52 600.6 143 600.71 140.77 600.82 138.79 600.93 137.01 601.04 135.4 601.15 133.95 601.26 132.63 601.38 131.44 601.49 130.34 601.6 129.35 601.71 128.45 601.82 127.63 601.93 126.88 602.04 126.21 602.15 125.6 602.26 125.05 602.37 124.57 602.48 124.14 602.59 123.77 602.7 123.45 602.81 123.18 602.92 122.95 603.03 122.78 603.14 122.65 603.26 122.57 603.37 122.54 603.48 122.55 603.59 122.61 603.7 122.7 603.81 122.85 603.92 123.04 604.03 123.27 604.14 123.55 604.25 123.87 604.36 124.25 604.47 124.67 604.58 125.14 604.69 125.66 604.8 126.23 604.91 126.86 605.02 127.55 605.13 128.29 605.25 129.11 605.36 129.98 605.47 130.93 605.58 131.96 605.69 133.07 605.8 134.27 605.91 135.57 606.02 136.98 606.13 138.51 606.24 140.18 606.35 142.01 606.46 144.01 606.57 146.23 606.68 148.69 606.79 148.7 606.9 148.7 607.01 148.7 607.12 148.7 607.24 148.7 607.35 148.7 607.46 148.7 607.57 148.7 607.68 148.7 607.79 148.7 607.9 148.7 608.01 148.7 608.12 148.7 608.23 148.7 608.34 148.7 608.45 148.7 608.56 148.7 608.67 148.7 608.78 148.7 608.89 146.99 609 145.04 609.11 143.29 609.23 141.7 609.34 140.27 609.45 138.96 609.56 137.77 609.67 136.68 609.78 135.69 609.89 134.79 610 133.97 610.11 133.22 610.22 132.54 610.33 131.93 610.44 131.38 610.55 130.88 610.66 130.45 610.77 130.07 610.88 129.74 610.99 129.46 611.11 129.23 611.22 129.05 611.33 128.92 611.44 128.83 611.55 128.78 611.66 128.79 611.77 128.83 611.88 128.92 611.99 129.06 612.1 129.24 612.21 129.46 612.32 129.74 612.43 130.05 612.54 130.42 612.65 130.83 612.76 131.3 612.87 131.81 612.98 132.38 613.1 133.01 613.21 133.69 613.32 134.44 613.43 135.25 613.54 136.13 613.65 137.08 613.76 138.11 613.87 139.23 613.98 140.44 614.09 141.75 614.2 143.18 614.31 144.73 614.42 146.42 614.53 148.28 614.64 148.7 614.75 148.7 614.86 148.7 614.97 148.7 615.09 148.7 615.2 148.7 615.31 148.7 615.42 148.7 615.53 148.7 615.64 148.7 615.75 148.7 615.86 148.7 615.97 148.7 616.08 148.7 616.19 148.7 616.3 148.7 616.41 148.7 616.52 148.7 616.63 148.7 616.74 148.7 616.85 148.7 616.96 148.7 617.08 148.7 617.19 148.7 617.3 148.11 617.41 146.56 617.52 145.14 617.63 143.86 617.74 142.68 617.85 141.61 617.96 140.63 618.07 139.73 618.18 138.92 618.29 138.17 618.4 137.5 618.51 136.89 618.62 136.34 618.73 135.85 618.84 135.42 618.96 135.04 619.07 134.71 619.18 134.43 619.29 134.21 619.4 134.02 619.51 133.89 619.62 133.8 619.73 133.75 619.84 133.76 619.95 133.8 620.06 133.89 620.17 134.03 620.28 134.21 620.39 134.43 620.5 134.7 620.61 135.02 620.72 135.39 620.83 135.8 620.95 136.27 621.06 136.79 621.17 137.36 621.28 137.99 621.39 138.68 621.5 139.43 621.61 140.25 621.72 141.14 621.83 142.1 621.94 143.14 622.05 144.27 622.16 145.5 622.27 146.83 622.38 148.28 622.49 148.7 622.6 148.7 622.71 148.7 622.82 148.7 622.94 148.7 623.05 148.7 623.16 148.7 623.27 148.7 623.38 148.7 623.49 148.7 623.6 148.7 623.71 148.7 623.82 148.7 623.93 148.7 624.04 148.7 624.15 148.7 624.26 148.7 624.37 148.7 624.48 148.7 624.59 148.7 624.7 148.7 624.81 148.7 624.93 148.7 625.04 148.7 625.15 148.7 625.26 148.7 625.37 148.7 625.48 148.7 625.59 148.7 625.7 148.7 625.81 147.83 625.92 146.67 626.03 145.62 626.14 144.65 626.25 143.77 626.36 142.97 626.47 142.23 626.58 141.57 626.69 140.97 626.8 140.43 626.92 139.95 627.03 139.52 627.14 139.14 627.25 138.82 627.36 138.55 627.47 138.32 627.58 138.14 627.69 138.01 627.8 137.93 627.91 137.89 628.02 137.89 628.13 137.94 628.24 138.03 628.35 138.17 628.46 138.36 628.57 138.59 628.68 138.86 628.8 139.18 628.91 139.56 629.02 139.98 629.13 140.45 629.24 140.97 629.35 141.55 629.46 142.19 629.57 142.89 629.68 143.65 629.79 144.48 629.9 145.38 630.01 146.35 630.12 147.41 630.23 148.56 630.34 148.7 630.45 148.7 630.56 148.7 630.67 148.7 630.79 148.7 630.9 148.7 631.01 148.7 631.12 148.7 631.23 148.7 631.34 148.7 631.45 148.7 631.56 148.7 631.67 148.7 631.78 148.7 631.89 148.7 632 148.7 632.11 148.7 632.22 148.7 632.33 148.7 632.44 148.7 632.55 148.7 632.66 148.7 632.78 148.7 632.89 148.7 633 148.7 633.11 148.7 633.22 148.7 633.33 148.7 633.44 148.7 633.55 148.7 633.66 148.7 633.77 148.7 633.88 148.7 633.99 148.7 634.1 148.7 634.21 148.7 634.32 148.04 634.43 147.18 634.54 146.39 634.65 145.67 634.77 145.01 634.88 144.42 634.99 143.89 635.1 143.42 635.21 143 635.32 142.63 635.43 142.32 635.54 142.05 635.65 141.83 635.76 141.66 635.87 141.54 635.98 141.46 636.09 141.42 636.2 141.43 636.31 141.49 636.42 141.59 636.53 141.73 636.64 141.92 636.76 142.16 636.87 142.44 636.98 142.77 637.09 143.15 637.2 143.58 637.31 144.06 637.42 144.59 637.53 145.18 637.64 145.83 637.75 146.54 637.86 147.31 637.97 148.15 638.08 148.7 638.19 148.7 638.3 148.7 638.41 148.7 638.52 148.7 638.64 148.7 638.75 148.7 638.86 148.7 638.97 148.7 639.08 148.7 639.19 148.7 639.3 148.7 639.41 148.7 639.52 148.7 639.63 148.7 639.74 148.7 639.85 148.7 639.96 148.7 640.07 148.7 640.18 148.7 640.29 148.7 640.4 148.7 640.51 148.7 640.63 148.7 640.74 148.7 640.85 148.7 640.96 148.7 641.07 148.7 641.18 148.7 641.29 148.7 641.4 148.7 641.51 148.7 641.62 148.7 641.73 148.7 641.84 148.7 641.95 148.7 642.06 148.7 642.17 148.7 642.28 148.7 642.39 148.7 642.5 148.7 642.62 148.7 642.73 148.7 642.84 148.64 642.95 148 643.06 147.42 643.17 146.9 643.28 146.43 643.39 146.02 643.5 145.67 643.61 145.36 643.72 145.1 643.83 144.89 643.94 144.73 644.05 144.61 644.16 144.54 644.27 144.51 644.38 144.53 644.49 144.59 644.61 144.7 644.72 144.85 644.83 145.05 644.94 145.3 645.05 145.59 645.16 145.93 645.27 146.31 645.38 146.75 645.49 147.24 645.6 147.79 645.71 148.39 645.82 148.7 645.93 148.7 646.04 148.7 646.15 148.7 646.26 148.7 646.37 148.7 646.49 148.7 646.6 148.7 646.71 148.7 646.82 148.7 646.93 148.7 647.04 148.7 647.15 148.7 647.26 148.7 647.37 148.7 647.48 148.7 647.59 148.7 647.7 148.7 647.81 148.7 647.92 148.7 648.03 148.7 648.14 148.7 648.25 148.7 648.36 148.7 648.48 148.7 648.59 148.7 648.7 148.7 648.81 148.7 648.92 148.7 649.03 148.7 649.14 148.7 649.25 148.7 649.36 148.7 649.47 148.7 649.58 148.7 649.69 148.7 649.8 148.7 649.91 148.7 650.02 148.7 650.13 148.7 650.24 148.7 650.35 148.7 650.47 148.7 650.58 148.7 650.69 148.7 650.8 148.7 650.91 148.7 651.02 148.7 651.13 148.7 651.24 148.7 651.35 148.7 651.46 148.7 651.57 148.7 651.68 148.35 651.79 148.05 651.9 147.8 652.01 147.6 652.12 147.45 652.23 147.34 652.34 147.28 652.46 147.26 652.57 147.29 652.68 147.36 652.79 147.47 652.9 147.64 653.01 147.84 653.12 148.1 653.23 148.4 653.34 148.7 653.45 148.7 653.56 148.7 653.67 148.7 653.78 148.7 653.89 148.7 654 148.7 654.11 148.7 654.22 148.7 654.34 148.7 654.45 148.7 654.56 148.7 654.67 148.7 654.78 148.7 654.89 148.7 655 148.7 655.11 148.7 655.22 148.7 655.33 148.7 655.44 148.7 655.55 148.7 655.66 148.7 655.77 148.7 655.88 148.7 655.99 148.7 656.1 148.7 656.21 148.7 656.33 148.7 656.44 148.7 656.55 148.7 656.66 148.7 656.77 148.7 656.88 148.7 656.99 148.7 657.1 148.7 657.21 148.7 657.32 148.7 657.43 148.7 657.54 148.7 657.65 148.7 657.76 148.7 657.87 148.7 657.98 148.7 658.09 148.7 658.2 148.7 658.32 148.7 658.43 148.7 658.54 148.7 658.65 148.7 658.76 148.7 658.87 148.7 658.98 148.7 659.09 148.7 659.2 148.7 659.31 148.7 659.42 148.7 659.53 148.7 659.64 148.7 659.75 148.7 659.86 148.7 659.97 148.7 660.08 148.7 660.19 148.7 660.31 148.7 660.42 148.7 660.53 148.7 660.64 148.7 660.75 148.7 660.86 148.7 660.97 148.7 661.08 148.7 661.19 148.7 661.3 148.7 661.41 148.7 661.52 148.7 661.63 148.7 661.74 148.7 661.85 148.7 661.96 148.7 662.07 148.7 662.18 148.7 662.3 148.7 662.41 148.7 662.52 148.7 662.63 148.7 662.74 148.7 662.85 148.7 662.96 148.7 663.07 148.7 663.18 148.7" fill="none" stroke="#28288a" stroke-width="1.05" stroke-linejoin="round"/>
<rect x="486.5" y="12.9" width="176.9" height="135.4" fill="none" stroke="#808080" stroke-width="0.9"/>
<path d="M486.5 35.1h2M663.4 35.1h-2M486.5 63.5h2M663.4 63.5h-2M486.5 91.9h2M663.4 91.9h-2M486.5 120.3h2M663.4 120.3h-2M486.5 148.7h2M663.4 148.7h-2M505.9 148.3v-2M505.9 12.9v2M540.31 148.3v-2M540.31 12.9v2M574.73 148.3v-2M574.73 12.9v2M609.15 148.3v-2M609.15 12.9v2M643.56 148.3v-2M643.56 12.9v2" stroke="#444" stroke-width="0.7" fill="none"/>
<text x="484.7" y="38" font-size="8.8" text-anchor="end" fill="#1a1a1a" stroke="#1a1a1a" stroke-width="0.15">10</text>
<text x="484.7" y="66.4" font-size="8.8" text-anchor="end" fill="#1a1a1a" stroke="#1a1a1a" stroke-width="0.15">0</text>
<text x="484.7" y="94.8" font-size="8.8" text-anchor="end" fill="#1a1a1a" stroke="#1a1a1a" stroke-width="0.15">-10</text>
<text x="484.7" y="123.2" font-size="8.8" text-anchor="end" fill="#1a1a1a" stroke="#1a1a1a" stroke-width="0.15">-20</text>
<text x="484.7" y="151.6" font-size="8.8" text-anchor="end" fill="#1a1a1a" stroke="#1a1a1a" stroke-width="0.15">-30</text>
<text x="504.7" y="157.9" font-size="8.8" text-anchor="middle" fill="#1a1a1a" stroke="#1a1a1a" stroke-width="0.15">-10</text>
<text x="538.81" y="157.9" font-size="8.8" text-anchor="middle" fill="#1a1a1a" stroke="#1a1a1a" stroke-width="0.15">-5</text>
<text x="574.23" y="157.9" font-size="8.8" text-anchor="middle" fill="#1a1a1a" stroke="#1a1a1a" stroke-width="0.15">0</text>
<text x="608.65" y="157.9" font-size="8.8" text-anchor="middle" fill="#1a1a1a" stroke="#1a1a1a" stroke-width="0.15">5</text>
<text x="643.06" y="157.9" font-size="8.8" text-anchor="middle" fill="#1a1a1a" stroke="#1a1a1a" stroke-width="0.15">10</text>
<text x="573.73" y="167.5" font-size="8.7" text-anchor="middle" fill="#1a1a1a" stroke="#1a1a1a" stroke-width="0.15">Azimuth samples</text>
<text transform="translate(467.6 80.8) rotate(-90)" font-size="8.85" text-anchor="middle" fill="#1a1a1a" stroke="#1a1a1a" stroke-width="0.15">Magnitude (dB)</text>
<g><path d="M127.81 219.18 128.36 219.13 128.89 219.13 129.41 219.17 129.94 219.27 130.29 219.38 130.64 219.53 130.99 219.76 131.21 219.98 131.34 220.27 131.36 220.46 131.33 220.62 131.26 220.79 131.14 220.95 130.97 221.11 130.64 221.31 130.29 221.46 129.76 221.6 129.24 221.68 128.71 221.7 128.19 221.69 127.66 221.62 127.14 221.5 126.79 221.37 126.44 221.18 126.16 220.95 126.04 220.79 125.97 220.62 125.94 220.46 125.95 220.3 126.08 219.99 126.23 219.82 126.61 219.56 126.96 219.4 127.31 219.28ZM127.46 227.69 128.36 227.63 129.24 227.64 130.11 227.72 130.99 227.89 131.69 228.12 132.22 228.36 132.74 228.73 133.09 229.14 133.18 229.3 133.29 229.62 133.31 229.94 133.29 230.1 133.18 230.42 133.09 230.58 132.82 230.9 132.39 231.23 131.74 231.54 130.99 231.77 130.11 231.93 129.24 232.01 128.19 232.01 127.31 231.94 126.44 231.8 125.56 231.54 125.03 231.3 124.51 230.93 124.21 230.58 124.12 230.42 124.01 230.1 123.99 229.94 124.01 229.62 124.12 229.3 124.21 229.14 124.51 228.78 125.03 228.39 125.73 228.07 126.49 227.85ZM126.45 236.52 127.66 236.4 129.06 236.38 130.29 236.45 131.52 236.64 132.39 236.86 133.27 237.22 133.62 237.42 133.94 237.65 134.41 238.13 134.61 238.45 134.74 238.77 134.81 239.09 134.82 239.41 134.78 239.73 134.67 240.05 134.49 240.38 134.23 240.7 133.97 240.92 133.62 241.16 132.89 241.5 131.87 241.79 130.71 241.98 129.41 242.08 128.19 242.09 126.96 242.02 125.73 241.85 124.86 241.65 124.03 241.34 123.46 241.01 123.25 240.86 122.93 240.54 122.71 240.22 122.57 239.89 122.49 239.57 122.48 239.25 122.52 238.93 122.62 238.61 122.78 238.29 123.02 237.97 123.28 237.71 123.58 237.49 123.98 237.24 124.33 237.08 124.86 236.88 125.38 236.73ZM126.07 245.35 127.66 245.23 129.24 245.22 130.82 245.31 132.31 245.51 133.44 245.79 134.32 246.14 135.02 246.56 135.3 246.8 135.6 247.12 135.83 247.44 136.05 247.92 136.18 248.4 136.21 248.89 136.16 249.37 136.07 249.69 135.83 250.17 135.58 250.49 135.23 250.81 134.84 251.07 134.4 251.29 133.98 251.46 133.44 251.62 132.74 251.77 131.34 251.96 129.59 252.07 127.84 252.07 126.08 251.97 124.68 251.79 123.63 251.55 122.76 251.23 122.41 251.04 122.07 250.81 121.88 250.65 121.58 250.33 121.38 250.01 121.18 249.53 121.1 249.05 121.1 248.57 121.19 248.08 121.31 247.76 121.58 247.28 121.84 246.96 122.18 246.64 122.58 246.36 122.94 246.16 123.46 245.93 123.98 245.76 124.68 245.58ZM126.15 254.19 128.19 254.11 130.29 254.14 132.22 254.28 133.72 254.51 134.32 254.65 134.91 254.83 135.37 255.01 135.9 255.28 136.25 255.52 136.56 255.79 136.85 256.11 137.07 256.43 137.31 256.92 137.51 257.56 137.61 258.2 137.6 258.84 137.49 259.48 137.32 259.97 137.12 260.3 136.77 260.71 136.42 260.98 135.9 261.25 135.48 261.41 134.89 261.57 134.14 261.72 133.27 261.83 131.17 261.98 128.89 262.02 126.61 261.99 124.71 261.89 123.26 261.73 122.23 261.53 121.35 261.23 121 261.05 120.65 260.81 120.43 260.61 120.17 260.29 119.91 259.81 119.74 259.16 119.68 258.52 119.73 257.88 119.87 257.24 120.06 256.75 120.33 256.27 120.74 255.79 121.12 255.47 121.64 255.15 122.23 254.89 122.76 254.71 123.46 254.53 124.33 254.38ZM111.09 264.62 111.72 264.53 112.24 264.49 113.3 264.54 113.82 264.62 114.35 264.78 114.7 264.92 115.05 265.13 115.4 265.42 115.57 265.62 115.78 265.91 116.03 266.39 116.21 266.87 116.34 267.35 116.54 268.48 116.63 269.44 116.7 270.72 116.72 272.17 116.69 273.45 116.62 274.58 116.5 275.7 116.35 276.51 116.17 277.15 115.92 277.75 115.7 278.11 115.4 278.48 115.05 278.77 114.7 278.98 114.17 279.18 113.65 279.31 112.93 279.4 112.42 279.41 111.72 279.37 111.19 279.3 110.67 279.18 110.14 279.01 109.62 278.77 109.27 278.56 108.92 278.28 108.59 277.95 108.34 277.63 108.15 277.31 107.91 276.83 107.74 276.34 107.56 275.7 107.34 274.42 107.25 273.45 107.2 272.49 107.21 271.37 107.25 270.4 107.34 269.44 107.47 268.64 107.65 267.83 107.86 267.2 108.08 266.71 108.39 266.21 108.74 265.78 109.09 265.47 109.44 265.23 109.97 264.96 110.49 264.77ZM143.49 264.62 144.13 264.52 144.66 264.49 145.36 264.51 145.88 264.57 146.41 264.66 146.93 264.81 147.46 265.01 147.81 265.2 148.16 265.43 148.51 265.73 148.81 266.07 149.03 266.39 149.22 266.71 149.43 267.19 149.73 268.16 149.89 268.96 150.01 269.92 150.08 270.89 150.1 272.01 150.07 273.13 150 274.1 149.87 275.06 149.7 275.86 149.51 276.51 149.32 276.99 149.04 277.51 148.71 277.95 148.33 278.33 147.98 278.59 147.46 278.89 146.93 279.09 146.41 279.24 145.88 279.33 145.36 279.39 144.66 279.41 144.13 279.38 143.6 279.3 143.08 279.17 142.73 279.03 142.2 278.73 141.86 278.43 141.68 278.22 141.49 277.95 141.25 277.47 140.98 276.62 140.8 275.7 140.69 274.74 140.62 273.61 140.58 272.17 140.6 270.89 140.66 269.6 140.76 268.48 140.92 267.51 141.09 266.87 141.33 266.26 141.52 265.91 141.85 265.47 142.2 265.17 142.55 264.95 143.08 264.73ZM99.97 265.75 100.51 265.67 101.03 265.66 101.56 265.71 101.91 265.79 102.26 265.89 102.65 266.07 102.96 266.25 103.31 266.54 103.61 266.87 103.84 267.19 104.19 267.91 104.45 268.8 104.65 269.92 104.72 270.72 104.76 271.53 104.76 272.49 104.72 273.29 104.53 274.74 104.38 275.38 104.19 275.99 104.01 276.39 103.76 276.83 103.48 277.18 103.13 277.52 102.78 277.76 102.43 277.94 102.08 278.07 101.56 278.19 101.03 278.24 100.51 278.23 99.98 278.16 99.63 278.07 99.1 277.88 98.75 277.71 98.4 277.48 98.05 277.18 97.74 276.83 97.53 276.53 97.33 276.18 97.11 275.7 96.81 274.74 96.61 273.61 96.51 272.17 96.52 271.37 96.58 270.56 96.68 269.76 96.82 269.12 97 268.48 97.18 268.03 97.35 267.67 97.65 267.19 97.91 266.87 98.24 266.55 98.69 266.23 99.1 266.02 99.46 265.88ZM155.56 265.75 156.04 265.68 156.57 265.66 157.09 265.71 157.44 265.77 157.92 265.91 158.32 266.07 158.67 266.27 159.02 266.52 159.55 267.06 159.76 267.35 160.03 267.83 160.24 268.32 160.4 268.8 160.62 269.76 160.71 270.4 160.77 271.21 160.79 272.01 160.76 272.81 160.69 273.61 160.59 274.26 160.45 274.9 160.26 275.54 160.05 276.02 159.79 276.51 159.55 276.84 159.2 277.23 158.85 277.51 158.5 277.74 158.15 277.91 157.62 278.09 157.27 278.17 156.74 278.23 156.22 278.24 155.87 278.2 155.34 278.1 154.99 277.99 154.64 277.83 154.29 277.61 153.94 277.31 153.77 277.13 153.54 276.83 153.27 276.34 152.96 275.54 152.71 274.43 152.61 273.61 152.55 272.81 152.53 271.85 152.56 271.05 152.62 270.24 152.72 269.44 152.85 268.8 153.03 268.16 153.21 267.67 153.42 267.27 153.69 266.87 153.98 266.55 154.29 266.29 154.64 266.07 155.17 265.85ZM88.83 266.87 89.29 266.82 89.64 266.82 89.99 266.87 90.35 266.95 90.7 267.09 91.05 267.29 91.5 267.67 91.92 268.21 92.29 268.96 92.45 269.44 92.56 269.92 92.71 270.89 92.76 272.17 92.68 273.29 92.6 273.78 92.46 274.42 92.17 275.22 91.92 275.69 91.75 275.94 91.54 276.18 91.22 276.48 90.87 276.72 90.52 276.88 90.17 277 89.82 277.06 89.12 277.07 88.77 277.02 88.42 276.92 88.07 276.78 87.72 276.58 87.19 276.14 86.95 275.86 86.73 275.54 86.49 275.11 86.34 274.74 86.06 273.78 85.92 272.81 85.89 271.69 85.98 270.56 86.19 269.6 86.49 268.79 86.86 268.16 87.19 267.76 87.46 267.51 87.72 267.32 88.07 267.12 88.42 266.98ZM167.28 266.87 167.78 266.81 168.13 266.82 168.48 266.87 168.83 266.96 169.18 267.1 169.53 267.29 170.02 267.67 170.32 267.99 170.55 268.32 170.88 268.96 171.15 269.76 171.34 270.72 171.42 271.85 171.36 272.97 171.2 273.94 171.07 274.42 170.9 274.9 170.57 275.54 170.35 275.86 170.06 276.19 169.71 276.49 169.36 276.71 169.01 276.88 168.66 276.99 167.96 277.09 167.61 277.08 167.26 277.02 166.91 276.93 166.55 276.78 166.2 276.58 165.92 276.34 165.5 275.88 165.13 275.22 164.94 274.74 164.8 274.27 164.63 273.34 164.54 272.17 164.59 270.89 164.77 269.76 164.9 269.28 165.08 268.8 165.32 268.32 165.5 268.02 165.96 267.51 166.2 267.32 166.55 267.12 166.91 266.97ZM77.46 268.16 77.73 268.09 78.08 268.07 78.61 268.14 79.13 268.37 79.48 268.62 79.83 269 80.18 269.59 80.42 270.24 80.56 270.89 80.64 271.69 80.61 272.65 80.48 273.45 80.27 274.1 79.94 274.74 79.54 275.22 79.13 275.54 78.61 275.76 78.08 275.83 77.56 275.77 77.03 275.57 76.53 275.22 76.15 274.79 75.84 274.26 75.6 273.61 75.45 272.97 75.37 272.17 75.41 271.21 75.56 270.4 75.79 269.76 76.15 269.12 76.5 268.71 76.79 268.48 77.03 268.33ZM178.65 268.16 179.17 268.07 179.69 268.12 180.22 268.3 180.72 268.64 181.1 269.04 181.44 269.6 181.69 270.24 181.84 270.89 181.93 271.69 181.91 272.49 181.79 273.29 181.53 274.1 181.18 274.74 180.77 275.22 180.4 275.5 179.87 275.74 179.34 275.83 178.82 275.79 178.29 275.6 177.94 275.38 177.77 275.23 177.42 274.83 177.09 274.26 176.89 273.71 176.73 272.97 176.66 272.17 176.69 271.21 176.83 270.4 177.04 269.76 177.38 269.12 177.77 268.67 178.12 268.4ZM66.32 269.76 66.52 269.71 66.87 269.71 67.09 269.76 67.4 269.92 67.73 270.24 67.92 270.53 68.08 270.89 68.17 271.21 68.24 271.69 68.24 272.17 68.18 272.65 68.09 272.97 67.92 273.37 67.75 273.64 67.45 273.94 67.19 274.1 66.87 274.19 66.52 274.19 66.22 274.1 65.99 273.97 65.64 273.62 65.47 273.35 65.3 272.97 65.22 272.65 65.15 272.17 65.15 271.69 65.23 271.21 65.32 270.89 65.47 270.55 65.67 270.24 65.99 269.93ZM190.21 269.76 190.56 269.7 190.91 269.74 191.26 269.9 191.43 270.04 191.63 270.24 191.84 270.56 191.98 270.89 192.11 271.37 192.16 271.85 192.14 272.33 192.08 272.65 191.96 273.07 191.78 273.44 191.61 273.68 191.34 273.94 191.08 274.1 190.73 274.2 190.38 274.19 190.11 274.1 189.86 273.95 189.67 273.78 189.43 273.45 189.27 273.13 189.12 272.65 189.06 272.17 189.06 271.69 189.13 271.21 189.22 270.89 189.45 270.4 189.68 270.11 189.9 269.92ZM125.32 281.96 127.49 281.89 129.76 281.88 131.98 281.96 133.62 282.11 134.84 282.32 135.34 282.45 135.8 282.61 136.43 282.93 136.77 283.19 136.98 283.41 137.3 283.89 137.48 284.37 137.6 285.02 137.61 285.66 137.52 286.3 137.33 286.94 137.1 287.42 136.77 287.88 136.43 288.23 136.01 288.55 135.55 288.81 135.02 289.03 134.32 289.25 133.62 289.41 132.74 289.56 131.87 289.66 129.94 289.77 127.84 289.79 125.91 289.7 124.25 289.51 123.11 289.29 122.58 289.14 122.06 288.94 121.56 288.71 121.18 288.47 120.87 288.23 120.55 287.91 120.2 287.42 119.97 286.94 119.78 286.3 119.69 285.66 119.7 285.02 119.82 284.37 120 283.89 120.3 283.43 120.65 283.09 121 282.85 121.5 282.61 121.96 282.45 122.6 282.29 123.46 282.14ZM126.15 291.92 127.84 291.83 129.59 291.83 131.34 291.94 132.74 292.13 133.85 292.4 134.65 292.72 135.02 292.94 135.37 293.2 135.8 293.69 135.98 294.01 136.15 294.49 136.21 294.97 136.18 295.45 136.07 295.92 135.94 296.26 135.72 296.62 135.37 297.04 135.02 297.34 134.67 297.57 134.14 297.84 133.7 298.02 133.19 298.18 132.52 298.34 130.99 298.57 129.41 298.67 127.84 298.67 126.26 298.57 124.86 298.36 123.81 298.09 123.28 297.9 122.86 297.7 122.41 297.43 122.13 297.22 121.66 296.74 121.45 296.42 121.23 295.93 121.12 295.45 121.09 294.97 121.15 294.49 121.25 294.17 121.5 293.69 121.76 293.37 122.06 293.1 122.41 292.86 122.93 292.59 123.45 292.4 124.03 292.24 124.68 292.11ZM127 301.88 128.36 301.81 129.76 301.84 130.99 301.95 132.04 302.15 132.92 302.41 133.62 302.74 134.18 303.16 134.57 303.64 134.72 303.96 134.8 304.28 134.82 304.61 134.79 304.93 134.7 305.25 134.54 305.57 134.31 305.89 133.99 306.21 133.62 306.48 133.27 306.68 132.46 307.01 131.34 307.3 130.11 307.46 128.89 307.52 127.66 307.5 126.44 307.38 125.38 307.17 124.51 306.9 123.76 306.53 123.46 306.33 123.13 306.05 122.76 305.57 122.6 305.25 122.51 304.93 122.48 304.61 122.5 304.28 122.58 303.96 122.73 303.64 122.96 303.32 123.28 303.02 123.81 302.67 124.16 302.5 124.68 302.31 125.73 302.05ZM127.04 311.99 128.01 311.9 128.89 311.88 129.94 311.95 130.82 312.09 131.62 312.31 132.22 312.57 132.74 312.93 133.06 313.28 133.16 313.44 133.28 313.76 133.31 313.92 133.3 314.24 133.26 314.4 133.12 314.72 132.87 315.04 132.5 315.36 131.87 315.71 131.17 315.96 130.29 316.15 129.41 316.25 128.36 316.27 127.49 316.21 126.61 316.08 125.77 315.85 125.21 315.61 124.68 315.27 124.29 314.88 124.16 314.68 124.04 314.4 124 314.24 123.99 313.92 124.07 313.6 124.14 313.44 124.36 313.12 124.72 312.8 124.97 312.63 125.38 312.43 126.21 312.15ZM127.71 322.27 128.19 322.21 128.71 322.2 129.24 322.22 129.76 322.3 130.25 322.43 130.64 322.59 130.91 322.75 131.17 322.99 131.32 323.23 131.36 323.39 131.36 323.55 131.24 323.88 131.11 324.04 130.93 324.2 130.64 324.37 130.29 324.52 129.73 324.68 129.24 324.75 128.71 324.78 128.19 324.76 127.66 324.69 127.14 324.56 126.79 324.43 126.44 324.24 126.19 324.04 126.06 323.88 125.98 323.71 125.94 323.55 125.94 323.39 126.07 323.07 126.2 322.91 126.44 322.72 126.79 322.53 127.14 322.4Z" fill="none" stroke="#24243e" stroke-width="0.62" stroke-opacity="0.92"/><path d="M127.06 247.12 127.84 247 128.54 246.96 129.41 247 130.11 247.09 130.82 247.27 131.34 247.47 131.84 247.76 132.19 248.08 132.4 248.4 132.46 248.57 132.49 248.89 132.42 249.21 132.23 249.53 131.88 249.85 131.34 250.14 130.82 250.33 130.11 250.49 129.41 250.58 128.54 250.61 127.84 250.57 127.14 250.48 126.48 250.33 125.91 250.12 125.42 249.85 125.07 249.53 124.88 249.21 124.81 248.89 124.84 248.57 124.9 248.4 125.11 248.08 125.46 247.76 125.91 247.5 126.45 247.28ZM126.75 255.15 128.19 255.06 129.59 255.08 130.99 255.2 132.22 255.42 133.27 255.75 134.03 256.11 134.32 256.3 134.69 256.59 135 256.92 135.23 257.24 135.39 257.56 135.55 258.04 135.6 258.52 135.57 258.84 135.49 259.16 135.36 259.48 135.15 259.81 134.84 260.13 134.49 260.38 134.09 260.61 133.22 260.93 132.04 261.18 130.46 261.35 128.89 261.41 127.31 261.38 125.91 261.27 124.75 261.09 123.81 260.84 123.11 260.56 122.76 260.35 122.46 260.13 122.23 259.9 122.04 259.64 121.87 259.32 121.73 258.84 121.7 258.52 121.75 258.04 121.88 257.62 122.07 257.24 122.3 256.92 122.58 256.62 122.93 256.33 123.28 256.1 123.81 255.84 124.33 255.64 125.38 255.36ZM111.83 266.23 112.59 266.17 113.12 266.23 113.47 266.31 113.82 266.43 114.17 266.61 114.52 266.87 114.84 267.19 115.22 267.77 115.4 268.16 115.58 268.64 115.8 269.6 115.95 270.89 115.98 272.33 115.88 273.78 115.78 274.42 115.63 275.06 115.48 275.54 115.28 276.02 115.05 276.43 114.73 276.83 114.52 277.03 114.17 277.29 113.82 277.47 113.47 277.59 113.12 277.67 112.59 277.73 112.07 277.71 111.72 277.65 111.19 277.51 110.84 277.37 110.49 277.18 110.14 276.94 109.62 276.43 109.31 276.02 109.12 275.7 108.92 275.26 108.74 274.79 108.49 273.78 108.36 272.65 108.35 271.37 108.41 270.72 108.5 270.08 108.74 269.11 108.92 268.64 109.15 268.16 109.34 267.83 109.62 267.47 109.97 267.11 110.26 266.87 110.67 266.62 111.02 266.46 111.37 266.33ZM144.17 266.23 144.66 266.18 145.01 266.18 145.47 266.23 145.88 266.32 146.58 266.59 146.93 266.8 147.28 267.06 147.58 267.35 147.85 267.67 148.06 267.99 148.31 268.48 148.51 268.96 148.66 269.44 148.85 270.4 148.96 271.69 148.91 272.97 148.83 273.61 148.71 274.26 148.4 275.22 148.18 275.7 147.98 276.03 147.76 276.34 147.46 276.68 147.11 276.98 146.76 277.21 146.41 277.39 145.88 277.58 145.53 277.66 145.01 277.72 144.31 277.69 143.95 277.63 143.6 277.52 143.25 277.36 142.9 277.13 142.57 276.83 142.38 276.6 142.02 276.02 141.85 275.63 141.68 275.1 141.47 274.1 141.33 272.65 141.34 271.05 141.5 269.6 141.64 268.96 141.78 268.48 141.97 267.99 142.2 267.55 142.46 267.19 142.73 266.91 143.08 266.65 143.43 266.45 143.78 266.32ZM100.47 268.8 100.86 268.75 101.38 268.83 101.73 268.99 102.08 269.27 102.43 269.7 102.63 270.08 102.81 270.56 102.94 271.21 102.99 271.85 102.96 272.57 102.82 273.29 102.65 273.78 102.43 274.2 102.08 274.63 101.73 274.91 101.38 275.07 101.03 275.14 100.51 275.11 99.98 274.91 99.63 274.66 99.28 274.27 98.99 273.78 98.81 273.29 98.66 272.65 98.61 272.01 98.65 271.37 98.77 270.72 99.01 270.08 99.28 269.63 99.63 269.24 99.98 268.99ZM156.04 268.8 156.39 268.75 156.92 268.82 157.27 268.96 157.71 269.28 158 269.6 158.29 270.08 158.5 270.62 158.63 271.21 158.69 271.85 158.66 272.49 158.54 273.13 158.38 273.61 158.13 274.1 157.8 274.54 157.44 274.83 157.09 275.02 156.74 275.12 156.22 275.13 155.9 275.06 155.69 274.97 155.34 274.75 154.99 274.38 154.72 273.94 154.53 273.45 154.38 272.81 154.31 272.17 154.34 271.37 154.45 270.72 154.64 270.14 154.94 269.6 155.2 269.28 155.63 268.96ZM126.11 282.61 127.66 282.5 129.24 282.49 130.82 282.57 132.04 282.72 133.09 282.94 134 283.25 134.58 283.57 134.84 283.78 135.11 284.05 135.33 284.37 135.48 284.69 135.56 285.02 135.59 285.5 135.52 285.98 135.41 286.3 135.19 286.71 134.9 287.1 134.67 287.33 134.32 287.6 133.82 287.91 133.44 288.08 132.92 288.28 132.39 288.43 131.69 288.59 130.99 288.7 129.59 288.82 128.19 288.84 126.79 288.75 125.41 288.55 124.33 288.26 123.48 287.91 123.11 287.69 122.76 287.44 122.27 286.94 122.05 286.62 121.89 286.3 121.78 285.98 121.71 285.5 121.74 285.02 121.82 284.69 121.97 284.37 122.23 284 122.51 283.73 122.93 283.44 123.3 283.25 123.71 283.09 124.24 282.93 124.86 282.79ZM127.47 293.37 128.19 293.3 129.06 293.3 129.82 293.37 130.64 293.52 131.18 293.69 131.69 293.93 132.03 294.17 132.32 294.49 132.46 294.81 132.49 294.97 132.47 295.29 132.34 295.61 132.08 295.93 131.66 296.26 131.17 296.5 130.46 296.73 129.76 296.86 129.06 296.93 128.19 296.92 127.49 296.85 126.79 296.72 126.26 296.55 125.64 296.26 125.22 295.93 124.96 295.61 124.83 295.29 124.81 294.97 124.84 294.81 124.98 294.49 125.27 294.17 125.73 293.86 126.13 293.69 126.63 293.53Z" fill="none" stroke="#24243e" stroke-width="0.62" stroke-opacity="0.92"/><path d="M128.51 256.11 129.59 256.15 130.46 256.27 131.34 256.48 132.03 256.75 132.59 257.08 132.96 257.4 133.11 257.56 133.31 257.88 133.46 258.36 133.45 258.68 133.42 258.84 133.28 259.16 133.18 259.32 132.86 259.64 132.36 259.97 131.69 260.23 130.84 260.45 129.94 260.57 129.06 260.63 128.01 260.62 126.96 260.53 126.08 260.37 125.3 260.13 124.66 259.81 124.26 259.48 124.02 259.16 123.94 259 123.85 258.68 123.83 258.52 123.87 258.2 123.98 257.89 124.08 257.72 124.33 257.4 124.51 257.24 125.03 256.88 125.73 256.56 126.61 256.31 127.49 256.17ZM112.02 267.99 112.59 267.95 113.12 268.04 113.65 268.29 114.05 268.64 114.41 269.12 114.7 269.73 114.89 270.4 115.01 271.21 115.05 272.17 114.98 272.97 114.82 273.78 114.7 274.17 114.52 274.58 114.17 275.13 113.82 275.48 113.65 275.61 113.3 275.8 112.77 275.94 112.24 275.94 111.72 275.82 111.19 275.56 110.95 275.38 110.67 275.12 110.26 274.58 109.97 273.97 109.76 273.29 109.63 272.49 109.62 271.69 109.7 270.89 109.86 270.24 110.14 269.54 110.51 268.96 111 268.48 111.54 268.15ZM144.35 267.99 144.66 267.95 145.01 267.95 145.53 268.06 146.06 268.3 146.49 268.64 146.91 269.12 147.19 269.6 147.44 270.24 147.62 271.05 147.69 271.85 147.65 272.65 147.5 273.45 147.28 274.1 146.94 274.74 146.58 275.17 146.06 275.59 145.53 275.84 145.01 275.95 144.48 275.93 143.95 275.78 143.6 275.58 143.43 275.44 143.07 275.06 142.73 274.47 142.53 273.94 142.34 273.13 142.26 272.17 142.29 271.21 142.41 270.4 142.65 269.6 142.99 268.96 143.41 268.48 143.78 268.21 144.13 268.06ZM126.7 283.41 127.66 283.3 128.71 283.27 129.59 283.3 130.6 283.41 131.37 283.57 132.04 283.79 132.57 284.05 132.99 284.37 133.14 284.53 133.35 284.86 133.41 285.02 133.46 285.34 133.44 285.63 133.4 285.82 133.27 286.1 133.14 286.3 132.92 286.55 132.64 286.78 132.12 287.1 131.34 287.42 130.64 287.6 129.76 287.73 128.71 287.79 127.66 287.74 126.79 287.62 125.99 287.42 125.21 287.12 124.66 286.78 124.3 286.46 124.16 286.3 123.97 285.98 123.84 285.5 123.85 285.18 123.89 285.02 123.98 284.8 124.16 284.53 124.49 284.21 125.03 283.89 125.41 283.73 125.91 283.58Z" fill="none" stroke="#2c2c70" stroke-width="0.62" stroke-opacity="0.92"/><path d="M127.78 257.88 128.36 257.76 128.89 257.76 129.52 257.88 129.94 258.09 130.07 258.2 130.17 258.36 130.2 258.52 130.16 258.68 130.03 258.84 129.8 259 129.41 259.14 128.89 259.22 128.19 259.2 127.66 259.07 127.5 259 127.27 258.84 127.14 258.68 127.1 258.52 127.12 258.36 127.23 258.2 127.43 258.04ZM112.21 270.72 112.42 270.66 112.59 270.67 112.77 270.72 112.95 270.84 113.12 271.04 113.3 271.44 113.35 271.69 113.36 272.01 113.3 272.47 113.12 272.85 112.95 273.06 112.84 273.13 112.59 273.23 112.42 273.24 112.24 273.19 112.07 273.1 111.81 272.81 111.72 272.65 111.62 272.33 111.58 271.85 111.68 271.37 111.89 270.97 112.07 270.8ZM144.54 270.72 144.83 270.66 145.01 270.69 145.18 270.77 145.36 270.91 145.53 271.16 145.67 271.53 145.72 272.01 145.64 272.49 145.49 272.81 145.36 272.99 145.18 273.13 145.01 273.21 144.83 273.24 144.66 273.22 144.48 273.15 144.31 273.01 144.15 272.81 143.97 272.33 143.94 271.85 144.03 271.37 144.13 271.13 144.31 270.89ZM128.19 284.69 128.89 284.67 129.41 284.76 129.76 284.88 129.99 285.02 130.14 285.18 130.2 285.34 130.19 285.5 130.11 285.66 129.94 285.82 129.59 286 128.94 286.14 128.35 286.14 128.01 286.08 127.66 285.98 127.36 285.82 127.19 285.66 127.14 285.55 127.1 285.34 127.16 285.18 127.31 285.02 127.66 284.83Z" fill="none" stroke="#2a38a8" stroke-width="0.62" stroke-opacity="0.92"/></g>
<g fill="none" stroke-width="0.75" filter="url(#bl)"><path d="M123.97 263.18 126.61 263.05 129.94 263.03 132.74 263.13 133.97 263.24 134.84 263.35 135.55 263.47 136.25 263.65 136.77 263.84 137.3 264.1 137.65 264.33 138 264.65 138.24 264.94 138.52 265.41 138.7 265.81 138.87 266.33 139.12 267.51 139.29 269.12 139.37 271.05 139.36 273.29 139.26 275.22 139.17 276.02 139.05 276.82 138.9 277.47 138.75 277.95 138.47 278.59 138.15 279.07 137.66 279.56 137.12 279.9 136.42 280.19 135.55 280.43 134.49 280.6 133.27 280.73 130.64 280.85 127.49 280.87 124.68 280.77 123.63 280.69 122.58 280.57 121.88 280.45 121.18 280.29 120.65 280.11 120.13 279.88 119.78 279.66 119.43 279.37 119.08 278.98 118.83 278.59 118.61 278.11 118.44 277.63 118.2 276.51 118.03 275.06 117.93 273.13 117.93 270.89 118.03 268.8 118.23 267.19 118.37 266.55 118.51 266.07 118.77 265.43 118.95 265.1 119.19 264.78 119.6 264.37 120.13 264.02 120.83 263.72 121.71 263.48 122.76 263.3Z" stroke="#00007d"/><path d="M126.74 263.5 128.01 263.46 129.41 263.46 130.82 263.51 132.04 263.6 133.09 263.71 133.97 263.86 134.84 264.06 135.55 264.29 136.07 264.52 136.6 264.83 137.12 265.25 137.47 265.63 137.82 266.15 138.1 266.71 138.33 267.35 138.5 267.99 138.71 269.28 138.83 270.72 138.86 272.33 138.78 273.94 138.63 275.22 138.39 276.34 138.12 277.15 137.89 277.63 137.7 277.95 137.3 278.47 136.77 278.95 136.07 279.38 135.37 279.68 134.49 279.93 133.44 280.14 132.22 280.29 130.64 280.4 128.01 280.44 126.61 280.4 125.38 280.32 124.33 280.2 123.46 280.07 122.58 279.87 121.88 279.66 121.26 279.4 120.7 279.07 120.29 278.75 119.83 278.27 119.5 277.79 119.25 277.31 119.01 276.67 118.83 276.02 118.6 274.74 118.48 273.29 118.44 271.69 118.51 270.08 118.65 268.8 118.88 267.67 119.2 266.71 119.6 265.95 119.87 265.59 120.13 265.3 120.65 264.86 121.35 264.46 122.06 264.18 122.93 263.94 123.98 263.75 125.21 263.6Z" stroke="#0000b0"/><path d="M126.04 263.98 127.14 263.9 128.36 263.87 129.59 263.88 130.64 263.93 131.69 264.02 132.74 264.17 133.62 264.34 134.32 264.54 134.99 264.78 135.55 265.05 136.07 265.38 136.51 265.75 136.95 266.22 137.29 266.71 137.54 267.19 137.8 267.83 138.06 268.8 138.27 270.08 138.36 271.37 138.35 272.81 138.23 274.1 138.04 275.22 137.76 276.18 137.4 276.99 136.99 277.63 136.56 278.11 135.96 278.59 135.37 278.94 134.67 279.24 133.79 279.51 132.74 279.73 131.52 279.9 130.46 279.98 129.24 280.03 128.01 280.03 126.79 279.98 125.73 279.89 124.68 279.75 123.81 279.58 122.93 279.35 122.23 279.08 121.71 278.82 121.18 278.48 120.74 278.11 120.31 277.63 119.99 277.15 119.74 276.67 119.49 276.02 119.19 274.9 119.03 273.78 118.94 272.49 118.96 271.05 119.07 269.76 119.27 268.64 119.56 267.67 119.92 266.87 120.35 266.23 120.83 265.71 121.4 265.26 122.06 264.9 122.93 264.55 123.81 264.32 124.86 264.12Z" stroke="#0000db"/><path d="M127.23 264.3 128.36 264.26 129.59 264.28 130.64 264.34 131.69 264.46 132.57 264.61 133.44 264.82 134.14 265.05 134.84 265.36 135.37 265.67 135.9 266.07 136.37 266.55 136.73 267.03 137.01 267.51 137.3 268.16 137.51 268.8 137.69 269.6 137.83 270.56 137.89 271.69 137.87 272.81 137.75 273.94 137.56 274.9 137.31 275.7 136.95 276.51 136.54 277.15 136.07 277.67 135.54 278.11 134.84 278.54 134.14 278.85 133.27 279.13 132.39 279.33 131.34 279.49 130.11 279.6 129.06 279.64 127.84 279.63 126.79 279.57 125.73 279.46 124.86 279.32 123.98 279.12 123.28 278.89 122.57 278.59 121.99 278.27 121.53 277.94 121.03 277.47 120.65 276.99 120.35 276.51 120.05 275.86 119.83 275.22 119.63 274.42 119.47 273.29 119.41 272.17 119.43 271.05 119.55 269.92 119.75 268.96 120 268.16 120.37 267.35 120.8 266.71 121.35 266.11 121.88 265.7 122.58 265.3 123.28 265.01 124.16 264.74 125.03 264.55 126.08 264.4Z" stroke="#0029db"/><path d="M126.27 264.78 127.14 264.7 128.19 264.64 129.24 264.65 130.29 264.71 131.34 264.82 132.22 264.98 133.09 265.21 133.72 265.43 134.32 265.69 134.84 265.99 135.37 266.38 135.73 266.71 136.14 267.19 136.46 267.67 136.78 268.32 137.02 268.96 137.26 269.92 137.39 270.89 137.44 271.85 137.39 272.97 137.27 273.94 137.03 274.9 136.73 275.7 136.39 276.34 136.05 276.83 135.55 277.37 135.02 277.79 134.32 278.21 133.62 278.51 132.74 278.79 131.87 278.99 130.82 279.14 129.94 279.22 128.89 279.26 127.84 279.24 126.79 279.17 125.91 279.07 125.03 278.91 124.16 278.68 123.47 278.43 122.8 278.11 122.28 277.79 121.87 277.47 121.38 276.99 121.01 276.51 120.73 276.02 120.48 275.49 120.27 274.9 120.07 274.1 119.92 273.13 119.86 272.17 119.9 271.05 120.01 270.08 120.23 269.12 120.52 268.32 120.84 267.67 121.28 267.03 121.71 266.58 122.23 266.14 122.88 265.75 123.58 265.43 124.33 265.17 125.21 264.96Z" stroke="#0059db"/><path d="M126.85 265.1 127.84 265.03 128.71 265.01 129.76 265.04 130.64 265.13 131.52 265.26 132.22 265.41 132.92 265.62 133.62 265.89 134.26 266.23 134.74 266.55 135.19 266.93 135.59 267.35 135.94 267.83 136.25 268.37 136.5 268.96 136.7 269.6 136.87 270.4 136.98 271.37 136.99 272.33 136.92 273.13 136.79 273.94 136.57 274.74 136.25 275.53 135.9 276.14 135.49 276.67 135 277.15 134.49 277.53 133.79 277.92 133.09 278.22 132.39 278.44 131.52 278.64 130.64 278.77 129.76 278.86 128.89 278.89 127.84 278.87 126.96 278.81 126.08 278.69 125.21 278.52 124.51 278.32 123.81 278.06 123.25 277.79 122.72 277.47 122.23 277.08 121.81 276.67 121.44 276.18 121.14 275.7 120.85 275.06 120.63 274.42 120.45 273.61 120.33 272.65 120.31 271.69 120.36 270.89 120.49 270.08 120.69 269.28 121 268.48 121.36 267.83 121.71 267.35 122.23 266.82 122.78 266.39 123.46 266 124.16 265.7 125.03 265.43 125.91 265.24Z" stroke="#0086db"/><path d="M127.4 265.43 128.19 265.38 129.06 265.38 129.94 265.43 130.82 265.53 131.69 265.7 132.39 265.89 133.09 266.15 133.62 266.4 134.14 266.72 134.67 267.13 135.06 267.51 135.45 267.99 135.75 268.48 136.05 269.12 136.27 269.76 136.42 270.4 136.52 271.21 136.56 272.01 136.51 272.81 136.39 273.61 136.18 274.42 135.93 275.06 135.58 275.7 135.24 276.18 134.79 276.67 134.32 277.06 133.79 277.4 133.09 277.75 132.39 278 131.69 278.2 130.82 278.37 129.94 278.47 129.06 278.52 128.19 278.52 127.31 278.47 126.44 278.36 125.56 278.19 124.86 277.99 124.16 277.72 123.63 277.47 123.11 277.15 122.69 276.83 122.23 276.38 121.88 275.94 121.53 275.38 121.3 274.9 121.07 274.26 120.91 273.61 120.79 272.81 120.74 272.01 120.78 271.21 120.88 270.4 121.08 269.6 121.32 268.96 121.64 268.32 122.06 267.73 122.41 267.34 122.95 266.87 123.46 266.53 124.16 266.18 124.87 265.91 125.73 265.67 126.61 265.51Z" stroke="#00b6db"/><path d="M128.1 265.75 128.89 265.74 129.76 265.78 130.64 265.89 131.34 266.02 132.04 266.21 132.74 266.47 133.27 266.72 133.79 267.04 134.32 267.45 134.7 267.83 135.09 268.32 135.38 268.8 135.61 269.28 135.84 269.92 135.99 270.56 136.09 271.21 136.12 271.85 136.09 272.65 136 273.29 135.85 273.94 135.63 274.58 135.32 275.22 135 275.7 134.59 276.18 134.14 276.6 133.62 276.97 133.01 277.31 132.39 277.57 131.69 277.79 130.99 277.95 130.11 278.08 129.24 278.15 128.36 278.16 127.49 278.11 126.61 278 125.91 277.86 125.21 277.67 124.51 277.41 123.98 277.15 123.46 276.83 122.93 276.4 122.56 276.02 122.19 275.54 121.9 275.06 121.67 274.58 121.45 273.94 121.3 273.29 121.21 272.65 121.18 271.85 121.22 271.21 121.34 270.4 121.51 269.76 121.76 269.12 122.01 268.64 122.33 268.16 122.76 267.66 123.28 267.2 123.77 266.87 124.33 266.57 125.03 266.29 125.73 266.08 126.44 265.93 127.31 265.8Z" stroke="#18dbbb"/><path d="M126.91 266.23 127.66 266.14 128.36 266.1 129.24 266.11 129.94 266.17 130.64 266.27 131.34 266.42 132.04 266.64 132.57 266.85 133.09 267.13 133.62 267.47 134.05 267.83 134.36 268.16 134.74 268.64 135.02 269.1 135.25 269.6 135.42 270.08 135.57 270.72 135.66 271.37 135.68 272.17 135.63 272.81 135.52 273.45 135.33 274.1 135.05 274.74 134.77 275.22 134.4 275.7 133.97 276.14 133.51 276.51 133 276.83 132.39 277.12 131.69 277.38 130.99 277.56 130.29 277.69 129.59 277.77 128.89 277.8 128.01 277.79 127.31 277.73 126.61 277.62 125.91 277.46 125.21 277.24 124.68 277.02 124.16 276.75 123.63 276.39 123.28 276.1 122.9 275.7 122.53 275.22 122.25 274.74 122.03 274.26 121.87 273.78 121.72 273.13 121.64 272.49 121.62 271.69 121.67 271.05 121.79 270.4 121.99 269.76 122.27 269.12 122.56 268.64 122.93 268.16 123.28 267.8 123.81 267.38 124.33 267.05 124.86 266.8 125.56 266.54 126.26 266.35Z" stroke="#3fdb95"/><path d="M127.3 266.55 128.01 266.48 128.71 266.46 129.41 266.49 130 266.55 130.64 266.66 131.34 266.83 131.87 267.01 132.39 267.24 132.89 267.51 133.27 267.77 133.73 268.16 134.03 268.48 134.4 268.96 134.67 269.43 134.89 269.92 135.04 270.4 135.15 270.89 135.23 271.53 135.24 272.17 135.19 272.81 135.06 273.45 134.84 274.09 134.62 274.58 134.32 275.06 133.97 275.5 133.6 275.86 133.09 276.26 132.57 276.57 132.04 276.82 131.52 277.01 130.82 277.21 130.11 277.33 129.41 277.41 128.71 277.44 128.01 277.42 127.31 277.35 126.61 277.23 126.08 277.1 125.38 276.87 124.86 276.64 124.34 276.34 123.98 276.1 123.63 275.8 123.23 275.38 122.87 274.9 122.6 274.42 122.4 273.94 122.24 273.45 122.14 272.97 122.06 272.33 122.06 271.69 122.12 271.05 122.26 270.4 122.41 269.92 122.71 269.28 123.01 268.8 123.41 268.32 123.75 267.99 124.16 267.67 124.68 267.35 125.21 267.1 125.91 266.85 126.61 266.67Z" stroke="#63db71"/><path d="M127.8 266.87 128.54 266.83 129.24 266.85 129.94 266.92 130.46 267.01 130.99 267.14 131.62 267.35 132.04 267.53 132.57 267.82 133.04 268.16 133.41 268.48 133.71 268.8 133.97 269.14 134.24 269.6 134.46 270.08 134.62 270.56 134.73 271.05 134.79 271.53 134.8 272.17 134.73 272.81 134.63 273.29 134.48 273.78 134.26 274.26 133.98 274.74 133.62 275.2 133.28 275.54 132.89 275.86 132.39 276.18 131.87 276.45 131.34 276.65 130.82 276.81 130.29 276.92 129.59 277.02 128.89 277.06 128.19 277.06 127.49 276.99 126.96 276.91 125.91 276.63 125.38 276.42 124.86 276.15 124.41 275.86 124.02 275.54 123.63 275.15 123.32 274.74 123.04 274.26 122.82 273.78 122.67 273.29 122.57 272.81 122.51 272.33 122.5 271.69 122.57 271.05 122.68 270.56 122.84 270.08 123.06 269.6 123.35 269.12 123.63 268.75 124.06 268.32 124.47 267.99 124.86 267.75 125.38 267.48 125.91 267.27 126.61 267.06 127.14 266.96Z" stroke="#8adb4a"/><path d="M127.14 267.35 127.66 267.27 128.36 267.22 129.06 267.22 129.59 267.27 130.64 267.46 131.17 267.62 131.68 267.83 132.04 268.02 132.51 268.32 132.91 268.64 133.23 268.96 133.49 269.28 133.79 269.75 133.97 270.11 134.14 270.56 134.26 271.05 134.33 271.53 134.34 272.17 134.29 272.65 134.2 273.13 134.04 273.61 133.82 274.1 133.62 274.44 133.27 274.9 132.96 275.22 132.57 275.54 132.22 275.78 131.69 276.06 131.17 276.28 130.64 276.44 130.11 276.56 129.06 276.68 128.36 276.68 127.84 276.65 126.79 276.47 126.26 276.32 125.73 276.12 125.22 275.86 124.86 275.63 124.51 275.37 124.16 275.04 123.81 274.62 123.57 274.26 123.4 273.94 123.2 273.45 123.07 272.97 122.99 272.49 122.96 271.85 122.99 271.37 123.08 270.89 123.22 270.4 123.42 269.92 123.69 269.44 123.98 269.06 124.33 268.69 124.68 268.39 125.03 268.15 125.56 267.86 126 267.67 126.61 267.48Z" stroke="#b6db1d"/><path d="M127.68 267.67 128.71 267.61 129.76 267.69 130.29 267.8 130.82 267.95 131.34 268.15 131.69 268.33 132.39 268.8 132.74 269.12 133.02 269.44 133.27 269.8 133.51 270.24 133.63 270.56 133.77 271.05 133.85 271.53 133.87 272.01 133.83 272.49 133.74 272.97 133.62 273.38 133.44 273.79 133.17 274.26 132.92 274.58 132.62 274.9 132.24 275.22 131.52 275.66 130.64 276.01 130.11 276.14 129.59 276.23 128.54 276.29 127.49 276.2 126.96 276.09 126.44 275.94 125.91 275.72 125.56 275.54 124.86 275.06 124.52 274.74 124.25 274.42 123.98 274.02 123.78 273.61 123.63 273.23 123.52 272.81 123.45 272.33 123.43 271.85 123.53 271.05 123.67 270.56 123.81 270.22 124.05 269.76 124.33 269.38 124.56 269.12 124.91 268.8 125.36 268.48 125.73 268.26 126.61 267.91 127.14 267.77Z" stroke="#dbbf00"/><path d="M127.37 268.16 128.36 268.03 128.89 268.03 129.41 268.07 130.29 268.24 130.82 268.42 131.17 268.57 131.87 268.99 132.21 269.28 132.51 269.6 132.76 269.92 132.95 270.24 133.21 270.89 133.29 271.21 133.36 271.69 133.36 272.17 133.33 272.49 133.27 272.81 133.12 273.29 132.92 273.71 132.67 274.1 132.22 274.61 131.88 274.9 131.52 275.14 131.05 275.38 130.66 275.54 129.76 275.78 128.89 275.87 128.01 275.84 127.14 275.69 126.64 275.54 126.24 275.38 125.56 275 125.21 274.73 124.89 274.42 124.63 274.1 124.42 273.78 124.13 273.13 124 272.65 123.95 272.33 123.93 271.85 123.96 271.53 124.04 271.05 124.14 270.72 124.33 270.28 124.54 269.92 124.79 269.6 125.09 269.28 125.72 268.8 126.44 268.44 126.96 268.26Z" stroke="#d88400"/><path d="M128.43 268.48 129.24 268.5 129.98 268.64 130.46 268.79 130.82 268.94 131.41 269.28 131.96 269.76 132.22 270.07 132.39 270.34 132.59 270.72 132.7 271.05 132.82 271.69 132.82 272.17 132.79 272.49 132.6 273.13 132.45 273.45 132.26 273.78 131.85 274.26 131.52 274.54 131.23 274.74 130.6 275.06 129.76 275.31 128.89 275.42 128.01 275.39 127.16 275.22 126.44 274.94 125.84 274.58 125.3 274.1 125.04 273.78 124.86 273.48 124.7 273.13 124.59 272.81 124.48 272.17 124.48 271.69 124.52 271.37 124.71 270.72 124.87 270.4 125.07 270.08 125.5 269.6 126.08 269.15 126.79 268.81 127.31 268.64 127.66 268.56Z" stroke="#cf4b00"/><path d="M127.47 269.12 128.19 268.99 128.89 268.97 129.59 269.06 130.29 269.27 130.82 269.54 131.34 269.94 131.75 270.4 132.02 270.89 132.13 271.21 132.21 271.53 132.23 272.17 132.18 272.49 132.1 272.81 131.88 273.29 131.53 273.78 131.17 274.12 130.64 274.46 129.94 274.75 129.24 274.9 128.54 274.93 127.84 274.86 127.14 274.67 126.79 274.52 126.44 274.33 125.93 273.94 125.52 273.45 125.26 272.97 125.16 272.65 125.09 272.33 125.07 271.69 125.21 271.07 125.45 270.56 125.81 270.08 126.26 269.69 126.79 269.38Z" stroke="#c61400"/><path d="M127.96 269.6 128.54 269.54 129.06 269.56 129.59 269.66 130.11 269.85 130.52 270.08 130.9 270.4 131.17 270.72 131.42 271.21 131.54 271.69 131.54 272.17 131.43 272.65 131.2 273.13 130.82 273.58 130.46 273.85 130.01 274.1 129.53 274.26 128.89 274.36 128.36 274.35 127.84 274.27 127.29 274.1 126.79 273.82 126.44 273.53 126.1 273.13 125.87 272.65 125.76 272.17 125.76 271.69 125.88 271.21 126.13 270.72 126.44 270.37 126.96 269.97 127.49 269.73Z" stroke="#8d0000"/><path d="M127.81 270.4 128.19 270.3 128.54 270.26 129.06 270.29 129.41 270.38 129.76 270.53 130.06 270.72 130.29 270.94 130.48 271.21 130.62 271.53 130.68 271.85 130.67 272.17 130.58 272.49 130.41 272.81 130.12 273.13 129.9 273.29 129.59 273.46 129.24 273.57 128.89 273.63 128.36 273.63 128.01 273.56 127.66 273.44 127.31 273.23 127.02 272.97 126.79 272.65 126.66 272.33 126.61 272.01 126.64 271.69 126.74 271.37 126.92 271.05 127.14 270.81 127.47 270.56Z" stroke="#600000" stroke-opacity="0.55"/></g>
<rect x="49.7" y="208.1" width="157.5" height="128.3" fill="none" stroke="#808080" stroke-width="0.9"/>
<path d="M49.7 323.57h1.2M207.2 323.57h-1.2M49.7 297.91h1.2M207.2 297.91h-1.2M49.7 272.25h1.2M207.2 272.25h-1.2M49.7 246.59h1.2M207.2 246.59h-1.2M49.7 220.93h1.2M207.2 220.93h-1.2M49.7 336.4v-1.2M49.7 208.1v1.2M128.45 336.4v-1.2M128.45 208.1v1.2M207.2 336.4v-1.2M207.2 208.1v1.2" stroke="#444" stroke-width="0.7" fill="none"/>
<text x="47.5" y="327.57" font-size="12.5" text-anchor="end" fill="#0c0c0c" stroke="#0c0c0c" stroke-width="0.2">1000</text>
<text x="47.5" y="301.91" font-size="12.5" text-anchor="end" fill="#0c0c0c" stroke="#0c0c0c" stroke-width="0.2">1100</text>
<text x="47.5" y="276.25" font-size="12.5" text-anchor="end" fill="#0c0c0c" stroke="#0c0c0c" stroke-width="0.2">1200</text>
<text x="47.5" y="250.59" font-size="12.5" text-anchor="end" fill="#0c0c0c" stroke="#0c0c0c" stroke-width="0.2">1300</text>
<text x="47.5" y="224.93" font-size="12.5" text-anchor="end" fill="#0c0c0c" stroke="#0c0c0c" stroke-width="0.2">1400</text>
<text x="49.7" y="348.9" font-size="12.5" text-anchor="middle" fill="#0c0c0c" stroke="#0c0c0c" stroke-width="0.2">1000</text>
<text x="128.45" y="348.9" font-size="12.5" text-anchor="middle" fill="#0c0c0c" stroke="#0c0c0c" stroke-width="0.2">1200</text>
<text x="207.2" y="348.9" font-size="12.5" text-anchor="middle" fill="#0c0c0c" stroke="#0c0c0c" stroke-width="0.2">1400</text>
<text x="127.7" y="362.3" font-size="12.8" text-anchor="middle" fill="#0c0c0c" stroke="#0c0c0c" stroke-width="0.2">Azimuth samples</text>
<text transform="translate(14 271.35) rotate(-90)" font-size="13" text-anchor="middle" fill="#0c0c0c" stroke="#0c0c0c" stroke-width="0.2">Range samples</text>
<clipPath id="c258_195"><rect x="258.2" y="208.3" width="177.3" height="136"/></clipPath>
<polyline clip-path="url(#c258_195)" points="257.98 344.1 258.09 344.1 258.2 344.1 258.31 344.1 258.42 343.77 258.53 343.46 258.64 343.19 258.76 342.94 258.87 342.72 258.98 342.54 259.09 342.38 259.2 342.25 259.31 342.16 259.42 342.09 259.53 342.04 259.64 342.03 259.75 342.04 259.86 342.09 259.97 342.16 260.09 342.26 260.2 342.39 260.31 342.56 260.42 342.75 260.53 342.97 260.64 343.23 260.75 343.51 260.86 343.84 260.97 344.1 261.08 344.1 261.19 344.1 261.3 344.1 261.42 344.1 261.53 344.1 261.64 344.1 261.75 344.1 261.86 344.1 261.97 344.1 262.08 344.1 262.19 344.1 262.3 344.1 262.41 344.1 262.52 344.1 262.63 344.1 262.74 344.1 262.86 344.1 262.97 344.1 263.08 344.1 263.19 344.1 263.3 344.1 263.41 344.1 263.52 344.1 263.63 344.1 263.74 344.1 263.85 344.1 263.96 344.1 264.07 344.1 264.19 344.1 264.3 344.1 264.41 344.1 264.52 344.1 264.63 344.1 264.74 344.1 264.85 344.1 264.96 344.1 265.07 344.1 265.18 344.1 265.29 344.1 265.4 344.1 265.52 344.1 265.63 344.1 265.74 344.1 265.85 344.1 265.96 344.1 266.07 344.1 266.18 344.1 266.29 344.1 266.4 344.1 266.51 344.1 266.62 344.1 266.73 344.1 266.85 344.1 266.96 344.1 267.07 344.1 267.18 344.1 267.29 344.1 267.4 344.1 267.51 344.1 267.62 344.1 267.73 343.7 267.84 343.1 267.95 342.53 268.06 342.01 268.17 341.52 268.29 341.07 268.4 340.66 268.51 340.27 268.62 339.93 268.73 339.61 268.84 339.32 268.95 339.07 269.06 338.84 269.17 338.65 269.28 338.48 269.39 338.34 269.5 338.24 269.62 338.16 269.73 338.11 269.84 338.09 269.95 338.09 270.06 338.13 270.17 338.19 270.28 338.29 270.39 338.41 270.5 338.56 270.61 338.75 270.72 338.96 270.83 339.21 270.95 339.49 271.06 339.8 271.17 340.15 271.28 340.53 271.39 340.95 271.5 341.41 271.61 341.91 271.72 342.44 271.83 343.03 271.94 343.66 272.05 344.1 272.16 344.1 272.27 344.1 272.39 344.1 272.5 344.1 272.61 344.1 272.72 344.1 272.83 344.1 272.94 344.1 273.05 344.1 273.16 344.1 273.27 344.1 273.38 344.1 273.49 344.1 273.6 344.1 273.72 344.1 273.83 344.1 273.94 344.1 274.05 344.1 274.16 344.1 274.27 344.1 274.38 344.1 274.49 344.1 274.6 344.1 274.71 344.1 274.82 344.1 274.93 344.1 275.05 344.1 275.16 344.1 275.27 344.1 275.38 344.1 275.49 344.1 275.6 344.1 275.71 344.1 275.82 344.1 275.93 344.1 276.04 344.1 276.15 344.1 276.26 344.1 276.37 344.1 276.49 344.1 276.6 344.1 276.71 344.1 276.82 344.1 276.93 344.1 277.04 344.1 277.15 344.1 277.26 344.1 277.37 343.24 277.48 342.39 277.59 341.59 277.7 340.85 277.82 340.14 277.93 339.49 278.04 338.88 278.15 338.3 278.26 337.77 278.37 337.27 278.48 336.81 278.59 336.39 278.7 336 278.81 335.64 278.92 335.31 279.03 335.02 279.15 334.75 279.26 334.52 279.37 334.31 279.48 334.14 279.59 333.99 279.7 333.88 279.81 333.79 279.92 333.73 280.03 333.7 280.14 333.69 280.25 333.72 280.36 333.77 280.47 333.85 280.59 333.97 280.7 334.11 280.81 334.28 280.92 334.49 281.03 334.72 281.14 334.99 281.25 335.29 281.36 335.63 281.47 336 281.58 336.41 281.69 336.85 281.8 337.34 281.92 337.86 282.03 338.43 282.14 339.05 282.25 339.71 282.36 340.42 282.47 341.19 282.58 342.02 282.69 342.91 282.8 343.86 282.91 344.1 283.02 344.1 283.13 344.1 283.25 344.1 283.36 344.1 283.47 344.1 283.58 344.1 283.69 344.1 283.8 344.1 283.91 344.1 284.02 344.1 284.13 344.1 284.24 344.1 284.35 344.1 284.46 344.1 284.57 344.1 284.69 344.1 284.8 344.1 284.91 344.1 285.02 344.1 285.13 344.1 285.24 344.1 285.35 344.1 285.46 344.1 285.57 344.1 285.68 344.1 285.79 344.1 285.9 344.1 286.02 344.1 286.13 344.1 286.24 344.1 286.35 344.1 286.46 344.1 286.57 344.1 286.68 344.1 286.79 344.1 286.9 344.1 287.01 343.71 287.12 342.51 287.23 341.39 287.35 340.34 287.46 339.36 287.57 338.43 287.68 337.57 287.79 336.76 287.9 335.99 288.01 335.28 288.12 334.61 288.23 333.98 288.34 333.4 288.45 332.85 288.56 332.34 288.68 331.87 288.79 331.43 288.9 331.03 289.01 330.65 289.12 330.31 289.23 330.01 289.34 329.73 289.45 329.48 289.56 329.27 289.67 329.08 289.78 328.92 289.89 328.79 290 328.69 290.12 328.62 290.23 328.58 290.34 328.58 290.45 328.6 290.56 328.65 290.67 328.73 290.78 328.84 290.89 328.98 291 329.15 291.11 329.35 291.22 329.58 291.33 329.84 291.45 330.14 291.56 330.47 291.67 330.84 291.78 331.24 291.89 331.68 292 332.16 292.11 332.68 292.22 333.24 292.33 333.85 292.44 334.51 292.55 335.22 292.66 335.98 292.78 336.8 292.89 337.68 293 338.62 293.11 339.64 293.22 340.74 293.33 341.92 293.44 343.2 293.55 344.1 293.66 344.1 293.77 344.1 293.88 344.1 293.99 344.1 294.1 344.1 294.22 344.1 294.33 344.1 294.44 344.1 294.55 344.1 294.66 344.1 294.77 344.1 294.88 344.1 294.99 344.1 295.1 344.1 295.21 344.1 295.32 344.1 295.43 344.1 295.55 344.1 295.66 344.1 295.77 344.1 295.88 344.1 295.99 344.1 296.1 344.1 296.21 344.1 296.32 344.1 296.43 344.1 296.54 344.1 296.65 344.1 296.76 344.1 296.88 342.89 296.99 341.39 297.1 340 297.21 338.7 297.32 337.49 297.43 336.36 297.54 335.3 297.65 334.3 297.76 333.37 297.87 332.5 297.98 331.68 298.09 330.91 298.2 330.18 298.32 329.51 298.43 328.87 298.54 328.28 298.65 327.72 298.76 327.21 298.87 326.73 298.98 326.28 299.09 325.87 299.2 325.49 299.31 325.15 299.42 324.83 299.53 324.55 299.65 324.3 299.76 324.07 299.87 323.88 299.98 323.71 300.09 323.58 300.2 323.47 300.31 323.39 300.42 323.35 300.53 323.34 300.64 323.36 300.75 323.4 300.86 323.48 300.98 323.58 301.09 323.72 301.2 323.88 301.31 324.08 301.42 324.31 301.53 324.56 301.64 324.86 301.75 325.18 301.86 325.54 301.97 325.94 302.08 326.37 302.19 326.85 302.31 327.36 302.42 327.92 302.53 328.52 302.64 329.17 302.75 329.87 302.86 330.62 302.97 331.43 303.08 332.3 303.19 333.23 303.3 334.24 303.41 335.33 303.52 336.5 303.63 337.76 303.75 339.13 303.86 340.62 303.97 342.24 304.08 344.02 304.19 344.1 304.3 344.1 304.41 344.1 304.52 344.1 304.63 344.1 304.74 344.1 304.85 344.1 304.96 344.1 305.08 344.1 305.19 344.1 305.3 344.1 305.41 344.1 305.52 344.1 305.63 344.1 305.74 344.1 305.85 344.1 305.96 344.1 306.07 344.1 306.18 344.1 306.29 344.1 306.41 344.1 306.52 344.1 306.63 344.1 306.74 343.06 306.85 341.12 306.96 339.34 307.07 337.71 307.18 336.19 307.29 334.78 307.4 333.46 307.51 332.24 307.62 331.09 307.73 330.02 307.85 329.01 307.96 328.07 308.07 327.18 308.18 326.35 308.29 325.57 308.4 324.84 308.51 324.15 308.62 323.5 308.73 322.9 308.84 322.34 308.95 321.81 309.06 321.32 309.18 320.86 309.29 320.44 309.4 320.06 309.51 319.7 309.62 319.38 309.73 319.08 309.84 318.82 309.95 318.59 310.06 318.38 310.17 318.21 310.28 318.06 310.39 317.94 310.51 317.86 310.62 317.79 310.73 317.75 310.84 317.75 310.95 317.77 311.06 317.82 311.17 317.89 311.28 318 311.39 318.14 311.5 318.31 311.61 318.51 311.72 318.74 311.83 319.01 311.95 319.3 312.06 319.64 312.17 320.01 312.28 320.41 312.39 320.86 312.5 321.34 312.61 321.87 312.72 322.44 312.83 323.06 312.94 323.73 313.05 324.45 313.16 325.23 313.28 326.07 313.39 326.97 313.5 327.94 313.61 328.99 313.72 330.13 313.83 331.36 313.94 332.69 314.05 334.13 314.16 335.71 314.27 337.44 314.38 339.35 314.49 341.46 314.61 343.81 314.72 344.1 314.83 344.1 314.94 344.1 315.05 344.1 315.16 344.1 315.27 344.1 315.38 344.1 315.49 344.1 315.6 344.1 315.71 344.1 315.82 344.1 315.93 344.1 316.05 344.1 316.16 344.1 316.27 344.1 316.38 344.1 316.49 344.1 316.6 343.55 316.71 340.88 316.82 338.48 316.93 336.31 317.04 334.32 317.15 332.5 317.26 330.81 317.38 329.25 317.49 327.8 317.6 326.44 317.71 325.18 317.82 323.99 317.93 322.88 318.04 321.84 318.15 320.85 318.26 319.93 318.37 319.06 318.48 318.24 318.59 317.47 318.71 316.75 318.82 316.06 318.93 315.42 319.04 314.82 319.15 314.26 319.26 313.73 319.37 313.24 319.48 312.78 319.59 312.36 319.7 311.96 319.81 311.6 319.92 311.27 320.03 310.97 320.15 310.7 320.26 310.46 320.37 310.24 320.48 310.06 320.59 309.9 320.7 309.77 320.81 309.68 320.92 309.61 321.03 309.57 321.14 309.56 321.25 309.58 321.36 309.63 321.48 309.7 321.59 309.81 321.7 309.95 321.81 310.11 321.92 310.31 322.03 310.54 322.14 310.81 322.25 311.11 322.36 311.44 322.47 311.81 322.58 312.22 322.69 312.67 322.81 313.16 322.92 313.7 323.03 314.28 323.14 314.91 323.25 315.59 323.36 316.33 323.47 317.13 323.58 317.99 323.69 318.92 323.8 319.92 323.91 321.01 324.02 322.2 324.14 323.48 324.25 324.88 324.36 326.4 324.47 328.08 324.58 329.92 324.69 331.97 324.8 334.25 324.91 336.83 325.02 339.77 325.13 343.18 325.24 344.1 325.35 344.1 325.46 344.1 325.58 344.1 325.69 344.1 325.8 344.1 325.91 344.1 326.02 344.1 326.13 344.1 326.24 344.1 326.35 344.1 326.46 344.1 326.57 340.54 326.68 337.01 326.79 333.92 326.91 331.17 327.02 328.69 327.13 326.45 327.24 324.39 327.35 322.5 327.46 320.75 327.57 319.13 327.68 317.62 327.79 316.2 327.9 314.88 328.01 313.63 328.12 312.46 328.24 311.36 328.35 310.32 328.46 309.34 328.57 308.41 328.68 307.53 328.79 306.7 328.9 305.91 329.01 305.17 329.12 304.47 329.23 303.81 329.34 303.19 329.45 302.6 329.56 302.04 329.68 301.52 329.79 301.03 329.9 300.58 330.01 300.15 330.12 299.75 330.23 299.39 330.34 299.05 330.45 298.74 330.56 298.46 330.67 298.21 330.78 297.98 330.89 297.78 331.01 297.6 331.12 297.44 331.23 297.31 331.34 297.2 331.45 297.12 331.56 297.07 331.67 297.05 331.78 297.06 331.89 297.09 332 297.16 332.11 297.25 332.22 297.38 332.34 297.54 332.45 297.73 332.56 297.96 332.67 298.22 332.78 298.52 332.89 298.86 333 299.24 333.11 299.66 333.22 300.12 333.33 300.63 333.44 301.2 333.55 301.81 333.66 302.49 333.78 303.23 333.89 304.03 334 304.91 334.11 305.87 334.22 306.91 334.33 308.06 334.44 309.32 334.55 310.7 334.66 312.23 334.77 313.92 334.88 315.81 334.99 317.93 335.11 320.33 335.22 323.09 335.33 326.29 335.44 330.1 335.55 334.74 335.66 340.65 335.77 344.1 335.88 344.1 335.99 344.1 336.1 344.1 336.21 344.1 336.32 344.1 336.44 339.54 336.55 333.12 336.66 327.95 336.77 323.61 336.88 319.87 336.99 316.57 337.1 313.63 337.21 310.96 337.32 308.53 337.43 306.28 337.54 304.2 337.65 302.27 337.76 300.45 337.88 298.74 337.99 297.13 338.1 295.61 338.21 294.16 338.32 292.79 338.43 291.47 338.54 290.22 338.65 289.02 338.76 287.87 338.87 286.77 338.98 285.71 339.09 284.69 339.21 283.71 339.32 282.76 339.43 281.85 339.54 280.97 339.65 280.12 339.76 279.29 339.87 278.5 339.98 277.73 340.09 276.98 340.2 276.26 340.31 275.56 340.42 274.89 340.54 274.23 340.65 273.6 340.76 272.98 340.87 272.38 340.98 271.8 341.09 271.24 341.2 270.7 341.31 270.17 341.42 269.65 341.53 269.16 341.64 268.68 341.75 268.21 341.87 267.76 341.98 267.32 342.09 266.89 342.2 266.48 342.31 266.08 342.42 265.7 342.53 265.32 342.64 264.96 342.75 264.61 342.86 264.28 342.97 263.95 343.08 263.64 343.19 263.33 343.31 263.04 343.42 262.76 343.53 262.49 343.64 262.23 343.75 261.98 343.86 261.75 343.97 261.52 344.08 261.3 344.19 261.09 344.3 260.89 344.41 260.71 344.52 260.53 344.64 260.36 344.75 260.2 344.86 260.05 344.97 259.91 345.08 259.78 345.19 259.66 345.3 259.54 345.41 259.44 345.52 259.35 345.63 259.26 345.74 259.19 345.85 259.12 345.97 259.06 346.08 259.01 346.19 258.97 346.3 258.94 346.41 258.92 346.52 258.9 346.63 258.9 346.74 258.9 346.85 258.92 346.96 258.94 347.07 258.97 347.18 259.01 347.29 259.06 347.41 259.12 347.52 259.19 347.63 259.26 347.74 259.35 347.85 259.44 347.96 259.54 348.07 259.66 348.18 259.78 348.29 259.91 348.4 260.05 348.51 260.2 348.62 260.36 348.74 260.53 348.85 260.71 348.96 260.89 349.07 261.09 349.18 261.3 349.29 261.52 349.4 261.75 349.51 261.98 349.62 262.23 349.73 262.49 349.84 262.76 349.95 263.04 350.07 263.33 350.18 263.64 350.29 263.95 350.4 264.28 350.51 264.61 350.62 264.96 350.73 265.32 350.84 265.7 350.95 266.08 351.06 266.48 351.17 266.89 351.28 267.32 351.39 267.76 351.51 268.21 351.62 268.68 351.73 269.16 351.84 269.65 351.95 270.17 352.06 270.7 352.17 271.24 352.28 271.8 352.39 272.38 352.5 272.98 352.61 273.6 352.72 274.23 352.84 274.89 352.95 275.56 353.06 276.26 353.17 276.98 353.28 277.73 353.39 278.5 353.5 279.29 353.61 280.12 353.72 280.97 353.83 281.85 353.94 282.76 354.05 283.71 354.17 284.69 354.28 285.71 354.39 286.77 354.5 287.87 354.61 289.02 354.72 290.22 354.83 291.47 354.94 292.79 355.05 294.16 355.16 295.61 355.27 297.13 355.38 298.74 355.5 300.45 355.61 302.27 355.72 304.2 355.83 306.28 355.94 308.53 356.05 310.96 356.16 313.63 356.27 316.57 356.38 319.87 356.49 323.61 356.6 327.95 356.71 333.12 356.82 339.54 356.94 344.1 357.05 344.1 357.16 344.1 357.27 344.1 357.38 344.1 357.49 344.1 357.6 340.65 357.71 334.74 357.82 330.1 357.93 326.29 358.04 323.09 358.15 320.33 358.27 317.93 358.38 315.81 358.49 313.92 358.6 312.23 358.71 310.7 358.82 309.32 358.93 308.06 359.04 306.91 359.15 305.87 359.26 304.91 359.37 304.03 359.48 303.23 359.6 302.49 359.71 301.81 359.82 301.2 359.93 300.63 360.04 300.12 360.15 299.66 360.26 299.24 360.37 298.86 360.48 298.52 360.59 298.22 360.7 297.96 360.81 297.73 360.92 297.54 361.04 297.38 361.15 297.25 361.26 297.16 361.37 297.09 361.48 297.06 361.59 297.05 361.7 297.07 361.81 297.12 361.92 297.2 362.03 297.31 362.14 297.44 362.25 297.6 362.37 297.78 362.48 297.98 362.59 298.21 362.7 298.46 362.81 298.74 362.92 299.05 363.03 299.39 363.14 299.75 363.25 300.15 363.36 300.58 363.47 301.03 363.58 301.52 363.7 302.04 363.81 302.6 363.92 303.19 364.03 303.81 364.14 304.47 364.25 305.17 364.36 305.91 364.47 306.7 364.58 307.53 364.69 308.41 364.8 309.34 364.91 310.32 365.02 311.36 365.14 312.46 365.25 313.63 365.36 314.88 365.47 316.2 365.58 317.62 365.69 319.13 365.8 320.75 365.91 322.5 366.02 324.39 366.13 326.45 366.24 328.69 366.35 331.17 366.47 333.92 366.58 337.01 366.69 340.54 366.8 344.1 366.91 344.1 367.02 344.1 367.13 344.1 367.24 344.1 367.35 344.1 367.46 344.1 367.57 344.1 367.68 344.1 367.8 344.1 367.91 344.1 368.02 344.1 368.13 343.18 368.24 339.77 368.35 336.83 368.46 334.25 368.57 331.97 368.68 329.92 368.79 328.08 368.9 326.4 369.01 324.88 369.12 323.48 369.24 322.2 369.35 321.01 369.46 319.92 369.57 318.92 369.68 317.99 369.79 317.13 369.9 316.33 370.01 315.59 370.12 314.91 370.23 314.28 370.34 313.7 370.45 313.16 370.57 312.67 370.68 312.22 370.79 311.81 370.9 311.44 371.01 311.11 371.12 310.81 371.23 310.54 371.34 310.31 371.45 310.11 371.56 309.95 371.67 309.81 371.78 309.7 371.9 309.63 372.01 309.58 372.12 309.56 372.23 309.57 372.34 309.61 372.45 309.68 372.56 309.77 372.67 309.9 372.78 310.06 372.89 310.24 373 310.46 373.11 310.7 373.23 310.97 373.34 311.27 373.45 311.6 373.56 311.96 373.67 312.36 373.78 312.78 373.89 313.24 374 313.73 374.11 314.26 374.22 314.82 374.33 315.42 374.44 316.06 374.55 316.75 374.67 317.47 374.78 318.24 374.89 319.06 375 319.93 375.11 320.85 375.22 321.84 375.33 322.88 375.44 323.99 375.55 325.18 375.66 326.44 375.77 327.8 375.88 329.25 376 330.81 376.11 332.5 376.22 334.32 376.33 336.31 376.44 338.48 376.55 340.88 376.66 343.55 376.77 344.1 376.88 344.1 376.99 344.1 377.1 344.1 377.21 344.1 377.33 344.1 377.44 344.1 377.55 344.1 377.66 344.1 377.77 344.1 377.88 344.1 377.99 344.1 378.1 344.1 378.21 344.1 378.32 344.1 378.43 344.1 378.54 344.1 378.65 343.81 378.77 341.46 378.88 339.35 378.99 337.44 379.1 335.71 379.21 334.13 379.32 332.69 379.43 331.36 379.54 330.13 379.65 328.99 379.76 327.94 379.87 326.97 379.98 326.07 380.1 325.23 380.21 324.45 380.32 323.73 380.43 323.06 380.54 322.44 380.65 321.87 380.76 321.34 380.87 320.86 380.98 320.41 381.09 320.01 381.2 319.64 381.31 319.3 381.43 319.01 381.54 318.74 381.65 318.51 381.76 318.31 381.87 318.14 381.98 318 382.09 317.89 382.2 317.82 382.31 317.77 382.42 317.75 382.53 317.75 382.64 317.79 382.75 317.86 382.87 317.94 382.98 318.06 383.09 318.21 383.2 318.38 383.31 318.59 383.42 318.82 383.53 319.08 383.64 319.38 383.75 319.7 383.86 320.06 383.97 320.44 384.08 320.86 384.2 321.32 384.31 321.81 384.42 322.34 384.53 322.9 384.64 323.5 384.75 324.15 384.86 324.84 384.97 325.57 385.08 326.35 385.19 327.18 385.3 328.07 385.41 329.01 385.53 330.02 385.64 331.09 385.75 332.24 385.86 333.46 385.97 334.78 386.08 336.19 386.19 337.71 386.3 339.34 386.41 341.12 386.52 343.06 386.63 344.1 386.74 344.1 386.85 344.1 386.97 344.1 387.08 344.1 387.19 344.1 387.3 344.1 387.41 344.1 387.52 344.1 387.63 344.1 387.74 344.1 387.85 344.1 387.96 344.1 388.07 344.1 388.18 344.1 388.3 344.1 388.41 344.1 388.52 344.1 388.63 344.1 388.74 344.1 388.85 344.1 388.96 344.1 389.07 344.1 389.18 344.02 389.29 342.24 389.4 340.62 389.51 339.13 389.63 337.76 389.74 336.5 389.85 335.33 389.96 334.24 390.07 333.23 390.18 332.3 390.29 331.43 390.4 330.62 390.51 329.87 390.62 329.17 390.73 328.52 390.84 327.92 390.95 327.36 391.07 326.85 391.18 326.37 391.29 325.94 391.4 325.54 391.51 325.18 391.62 324.86 391.73 324.56 391.84 324.31 391.95 324.08 392.06 323.88 392.17 323.72 392.28 323.58 392.4 323.48 392.51 323.4 392.62 323.36 392.73 323.34 392.84 323.35 392.95 323.39 393.06 323.47 393.17 323.58 393.28 323.71 393.39 323.88 393.5 324.07 393.61 324.3 393.73 324.55 393.84 324.83 393.95 325.15 394.06 325.49 394.17 325.87 394.28 326.28 394.39 326.73 394.5 327.21 394.61 327.72 394.72 328.28 394.83 328.87 394.94 329.51 395.06 330.18 395.17 330.91 395.28 331.68 395.39 332.5 395.5 333.37 395.61 334.3 395.72 335.3 395.83 336.36 395.94 337.49 396.05 338.7 396.16 340 396.27 341.39 396.38 342.89 396.5 344.1 396.61 344.1 396.72 344.1 396.83 344.1 396.94 344.1 397.05 344.1 397.16 344.1 397.27 344.1 397.38 344.1 397.49 344.1 397.6 344.1 397.71 344.1 397.83 344.1 397.94 344.1 398.05 344.1 398.16 344.1 398.27 344.1 398.38 344.1 398.49 344.1 398.6 344.1 398.71 344.1 398.82 344.1 398.93 344.1 399.04 344.1 399.16 344.1 399.27 344.1 399.38 344.1 399.49 344.1 399.6 344.1 399.71 344.1 399.82 343.2 399.93 341.92 400.04 340.74 400.15 339.64 400.26 338.62 400.37 337.68 400.48 336.8 400.6 335.98 400.71 335.22 400.82 334.51 400.93 333.85 401.04 333.24 401.15 332.68 401.26 332.16 401.37 331.68 401.48 331.24 401.59 330.84 401.7 330.47 401.81 330.14 401.93 329.84 402.04 329.58 402.15 329.35 402.26 329.15 402.37 328.98 402.48 328.84 402.59 328.73 402.7 328.65 402.81 328.6 402.92 328.58 403.03 328.58 403.14 328.62 403.26 328.69 403.37 328.79 403.48 328.92 403.59 329.08 403.7 329.27 403.81 329.48 403.92 329.73 404.03 330.01 404.14 330.31 404.25 330.65 404.36 331.03 404.47 331.43 404.58 331.87 404.7 332.34 404.81 332.85 404.92 333.4 405.03 333.98 405.14 334.61 405.25 335.28 405.36 335.99 405.47 336.76 405.58 337.57 405.69 338.43 405.8 339.36 405.91 340.34 406.03 341.39 406.14 342.51 406.25 343.71 406.36 344.1 406.47 344.1 406.58 344.1 406.69 344.1 406.8 344.1 406.91 344.1 407.02 344.1 407.13 344.1 407.24 344.1 407.36 344.1 407.47 344.1 407.58 344.1 407.69 344.1 407.8 344.1 407.91 344.1 408.02 344.1 408.13 344.1 408.24 344.1 408.35 344.1 408.46 344.1 408.57 344.1 408.69 344.1 408.8 344.1 408.91 344.1 409.02 344.1 409.13 344.1 409.24 344.1 409.35 344.1 409.46 344.1 409.57 344.1 409.68 344.1 409.79 344.1 409.9 344.1 410.01 344.1 410.13 344.1 410.24 344.1 410.35 344.1 410.46 343.86 410.57 342.91 410.68 342.02 410.79 341.19 410.9 340.42 411.01 339.71 411.12 339.05 411.23 338.43 411.34 337.86 411.46 337.34 411.57 336.85 411.68 336.41 411.79 336 411.9 335.63 412.01 335.29 412.12 334.99 412.23 334.72 412.34 334.49 412.45 334.28 412.56 334.11 412.67 333.97 412.79 333.85 412.9 333.77 413.01 333.72 413.12 333.69 413.23 333.7 413.34 333.73 413.45 333.79 413.56 333.88 413.67 333.99 413.78 334.14 413.89 334.31 414 334.52 414.11 334.75 414.23 335.02 414.34 335.31 414.45 335.64 414.56 336 414.67 336.39 414.78 336.81 414.89 337.27 415 337.77 415.11 338.3 415.22 338.88 415.33 339.49 415.44 340.14 415.56 340.85 415.67 341.59 415.78 342.39 415.89 343.24 416 344.1 416.11 344.1 416.22 344.1 416.33 344.1 416.44 344.1 416.55 344.1 416.66 344.1 416.77 344.1 416.89 344.1 417 344.1 417.11 344.1 417.22 344.1 417.33 344.1 417.44 344.1 417.55 344.1 417.66 344.1 417.77 344.1 417.88 344.1 417.99 344.1 418.1 344.1 418.21 344.1 418.33 344.1 418.44 344.1 418.55 344.1 418.66 344.1 418.77 344.1 418.88 344.1 418.99 344.1 419.1 344.1 419.21 344.1 419.32 344.1 419.43 344.1 419.54 344.1 419.66 344.1 419.77 344.1 419.88 344.1 419.99 344.1 420.1 344.1 420.21 344.1 420.32 344.1 420.43 344.1 420.54 344.1 420.65 344.1 420.76 344.1 420.87 344.1 420.99 344.1 421.1 344.1 421.21 344.1 421.32 343.66 421.43 343.03 421.54 342.44 421.65 341.91 421.76 341.41 421.87 340.95 421.98 340.53 422.09 340.15 422.2 339.8 422.31 339.49 422.43 339.21 422.54 338.96 422.65 338.75 422.76 338.56 422.87 338.41 422.98 338.29 423.09 338.19 423.2 338.13 423.31 338.09 423.42 338.09 423.53 338.11 423.64 338.16 423.76 338.24 423.87 338.34 423.98 338.48 424.09 338.65 424.2 338.84 424.31 339.07 424.42 339.32 424.53 339.61 424.64 339.93 424.75 340.27 424.86 340.66 424.97 341.07 425.09 341.52 425.2 342.01 425.31 342.53 425.42 343.1 425.53 343.7 425.64 344.1 425.75 344.1 425.86 344.1 425.97 344.1 426.08 344.1 426.19 344.1 426.3 344.1 426.41 344.1 426.53 344.1 426.64 344.1 426.75 344.1 426.86 344.1 426.97 344.1 427.08 344.1 427.19 344.1 427.3 344.1 427.41 344.1 427.52 344.1 427.63 344.1 427.74 344.1 427.86 344.1 427.97 344.1 428.08 344.1 428.19 344.1 428.3 344.1 428.41 344.1 428.52 344.1 428.63 344.1 428.74 344.1 428.85 344.1 428.96 344.1 429.07 344.1 429.19 344.1 429.3 344.1 429.41 344.1 429.52 344.1 429.63 344.1 429.74 344.1 429.85 344.1 429.96 344.1 430.07 344.1 430.18 344.1 430.29 344.1 430.4 344.1 430.52 344.1 430.63 344.1 430.74 344.1 430.85 344.1 430.96 344.1 431.07 344.1 431.18 344.1 431.29 344.1 431.4 344.1 431.51 344.1 431.62 344.1 431.73 344.1 431.84 344.1 431.96 344.1 432.07 344.1 432.18 344.1 432.29 344.1 432.4 343.84 432.51 343.51 432.62 343.23 432.73 342.97 432.84 342.75 432.95 342.56 433.06 342.39 433.17 342.26 433.29 342.16 433.4 342.09 433.51 342.04 433.62 342.03 433.73 342.04 433.84 342.09 433.95 342.16 434.06 342.25 434.17 342.38 434.28 342.54 434.39 342.72 434.5 342.94 434.62 343.19 434.73 343.46 434.84 343.77 434.95 344.1 435.06 344.1 435.17 344.1 435.28 344.1" fill="none" stroke="#28288a" stroke-width="1.05" stroke-linejoin="round"/>
<rect x="258.2" y="208.3" width="177.3" height="135.4" fill="none" stroke="#808080" stroke-width="0.9"/>
<path d="M258.2 230.5h2M435.5 230.5h-2M258.2 258.9h2M435.5 258.9h-2M258.2 287.3h2M435.5 287.3h-2M258.2 315.7h2M435.5 315.7h-2M258.2 344.1h2M435.5 344.1h-2M278.44 343.7v-2M278.44 208.3v2M312.53 343.7v-2M312.53 208.3v2M346.63 343.7v-2M346.63 208.3v2M380.73 343.7v-2M380.73 208.3v2M414.82 343.7v-2M414.82 208.3v2" stroke="#444" stroke-width="0.7" fill="none"/>
<text x="256.4" y="233.4" font-size="8.8" text-anchor="end" fill="#1a1a1a" stroke="#1a1a1a" stroke-width="0.15">10</text>
<text x="256.4" y="261.8" font-size="8.8" text-anchor="end" fill="#1a1a1a" stroke="#1a1a1a" stroke-width="0.15">0</text>
<text x="256.4" y="290.2" font-size="8.8" text-anchor="end" fill="#1a1a1a" stroke="#1a1a1a" stroke-width="0.15">-10</text>
<text x="256.4" y="318.6" font-size="8.8" text-anchor="end" fill="#1a1a1a" stroke="#1a1a1a" stroke-width="0.15">-20</text>
<text x="256.4" y="347" font-size="8.8" text-anchor="end" fill="#1a1a1a" stroke="#1a1a1a" stroke-width="0.15">-30</text>
<text x="277.24" y="353.3" font-size="8.8" text-anchor="middle" fill="#1a1a1a" stroke="#1a1a1a" stroke-width="0.15">-10</text>
<text x="311.03" y="353.3" font-size="8.8" text-anchor="middle" fill="#1a1a1a" stroke="#1a1a1a" stroke-width="0.15">-5</text>
<text x="346.13" y="353.3" font-size="8.8" text-anchor="middle" fill="#1a1a1a" stroke="#1a1a1a" stroke-width="0.15">0</text>
<text x="380.23" y="353.3" font-size="8.8" text-anchor="middle" fill="#1a1a1a" stroke="#1a1a1a" stroke-width="0.15">5</text>
<text x="414.32" y="353.3" font-size="8.8" text-anchor="middle" fill="#1a1a1a" stroke="#1a1a1a" stroke-width="0.15">10</text>
<text x="345.63" y="362.9" font-size="8.7" text-anchor="middle" fill="#1a1a1a" stroke="#1a1a1a" stroke-width="0.15">Range samples</text>
<text transform="translate(239.6 276.2) rotate(-90)" font-size="8.85" text-anchor="middle" fill="#1a1a1a" stroke="#1a1a1a" stroke-width="0.15">Magnitude (dB)</text>
<clipPath id="c486_195"><rect x="486.5" y="208.3" width="176.9" height="136"/></clipPath>
<polyline clip-path="url(#c486_195)" points="486.28 344.1 486.39 344.1 486.5 344.1 486.61 344.1 486.72 344.1 486.83 344.1 486.94 344.1 487.05 344.1 487.16 344.1 487.28 344.1 487.39 344.1 487.5 344.1 487.61 344.1 487.72 344.1 487.83 344.1 487.94 344.1 488.05 344.1 488.16 344.1 488.27 344.1 488.38 344.1 488.49 344.1 488.6 344.1 488.71 344.1 488.82 344.1 488.93 344.1 489.04 344.1 489.15 344.1 489.27 344.1 489.38 344.1 489.49 344.1 489.6 344.1 489.71 344.1 489.82 344.1 489.93 344.1 490.04 344.1 490.15 344.1 490.26 344.1 490.37 344.1 490.48 344.1 490.59 344.1 490.7 344.1 490.81 344.1 490.92 344.1 491.03 344.1 491.14 344.1 491.26 344.1 491.37 344.1 491.48 344.1 491.59 344.1 491.7 344.1 491.81 344.1 491.92 344.1 492.03 344.1 492.14 344.1 492.25 344.1 492.36 344.1 492.47 344.1 492.58 344.1 492.69 344.1 492.8 344.1 492.91 344.1 493.02 344.1 493.13 344.1 493.25 344.1 493.36 344.1 493.47 344.1 493.58 344.1 493.69 344.1 493.8 344.1 493.91 344.1 494.02 344.1 494.13 344.1 494.24 344.1 494.35 344.1 494.46 344.1 494.57 344.1 494.68 344.1 494.79 344.1 494.9 344.1 495.01 344.1 495.12 344.1 495.24 344.1 495.35 344.1 495.46 344.1 495.57 344.1 495.68 344.1 495.79 344.1 495.9 344.1 496.01 344.1 496.12 344.1 496.23 343.8 496.34 343.5 496.45 343.24 496.56 343.04 496.67 342.87 496.78 342.76 496.89 342.69 497 342.66 497.12 342.68 497.23 342.74 497.34 342.85 497.45 343 497.56 343.2 497.67 343.45 497.78 343.75 497.89 344.1 498 344.1 498.11 344.1 498.22 344.1 498.33 344.1 498.44 344.1 498.55 344.1 498.66 344.1 498.77 344.1 498.88 344.1 498.99 344.1 499.11 344.1 499.22 344.1 499.33 344.1 499.44 344.1 499.55 344.1 499.66 344.1 499.77 344.1 499.88 344.1 499.99 344.1 500.1 344.1 500.21 344.1 500.32 344.1 500.43 344.1 500.54 344.1 500.65 344.1 500.76 344.1 500.87 344.1 500.98 344.1 501.1 344.1 501.21 344.1 501.32 344.1 501.43 344.1 501.54 344.1 501.65 344.1 501.76 344.1 501.87 344.1 501.98 344.1 502.09 344.1 502.2 344.1 502.31 344.1 502.42 344.1 502.53 344.1 502.64 344.1 502.75 344.1 502.86 344.1 502.97 344.1 503.09 344.1 503.2 344.1 503.31 344.1 503.42 344.1 503.53 344.1 503.64 344.1 503.75 343.79 503.86 343.19 503.97 342.64 504.08 342.15 504.19 341.71 504.3 341.33 504.41 340.99 504.52 340.7 504.63 340.45 504.74 340.25 504.85 340.1 504.97 339.99 505.08 339.93 505.19 339.91 505.3 339.94 505.41 340.01 505.52 340.13 505.63 340.29 505.74 340.5 505.85 340.76 505.96 341.07 506.07 341.42 506.18 341.83 506.29 342.3 506.4 342.82 506.51 343.4 506.62 344.04 506.73 344.1 506.84 344.1 506.96 344.1 507.07 344.1 507.18 344.1 507.29 344.1 507.4 344.1 507.51 344.1 507.62 344.1 507.73 344.1 507.84 344.1 507.95 344.1 508.06 344.1 508.17 344.1 508.28 344.1 508.39 344.1 508.5 344.1 508.61 344.1 508.72 344.1 508.83 344.1 508.95 344.1 509.06 344.1 509.17 344.1 509.28 344.1 509.39 344.1 509.5 344.1 509.61 344.1 509.72 344.1 509.83 344.1 509.94 344.1 510.05 344.1 510.16 344.1 510.27 344.1 510.38 344.1 510.49 344.1 510.6 344.1 510.71 344.1 510.82 344.1 510.94 344.1 511.05 344.1 511.16 344.1 511.27 344.1 511.38 344.1 511.49 343.55 511.6 342.71 511.71 341.94 511.82 341.23 511.93 340.58 512.04 339.99 512.15 339.46 512.26 338.98 512.37 338.55 512.48 338.17 512.59 337.84 512.7 337.56 512.82 337.32 512.93 337.13 513.04 336.99 513.15 336.89 513.26 336.83 513.37 336.82 513.48 336.86 513.59 336.94 513.7 337.06 513.81 337.23 513.92 337.45 514.03 337.72 514.14 338.03 514.25 338.4 514.36 338.82 514.47 339.29 514.58 339.82 514.69 340.41 514.81 341.07 514.92 341.79 515.03 342.58 515.14 343.44 515.25 344.1 515.36 344.1 515.47 344.1 515.58 344.1 515.69 344.1 515.8 344.1 515.91 344.1 516.02 344.1 516.13 344.1 516.24 344.1 516.35 344.1 516.46 344.1 516.57 344.1 516.68 344.1 516.8 344.1 516.91 344.1 517.02 344.1 517.13 344.1 517.24 344.1 517.35 344.1 517.46 344.1 517.57 344.1 517.68 344.1 517.79 344.1 517.9 344.1 518.01 344.1 518.12 344.1 518.23 344.1 518.34 344.1 518.45 344.1 518.56 344.1 518.67 344.1 518.79 344.1 518.9 344.1 519.01 344.1 519.12 344.1 519.23 343.96 519.34 342.81 519.45 341.75 519.56 340.78 519.67 339.88 519.78 339.05 519.89 338.29 520 337.59 520.11 336.95 520.22 336.37 520.33 335.85 520.44 335.38 520.55 334.96 520.66 334.58 520.78 334.26 520.89 333.99 521 333.76 521.11 333.57 521.22 333.43 521.33 333.34 521.44 333.29 521.55 333.29 521.66 333.33 521.77 333.41 521.88 333.54 521.99 333.72 522.1 333.95 522.21 334.22 522.32 334.54 522.43 334.92 522.54 335.35 522.66 335.83 522.77 336.37 522.88 336.97 522.99 337.63 523.1 338.37 523.21 339.17 523.32 340.05 523.43 341.02 523.54 342.07 523.65 343.23 523.76 344.1 523.87 344.1 523.98 344.1 524.09 344.1 524.2 344.1 524.31 344.1 524.42 344.1 524.53 344.1 524.65 344.1 524.76 344.1 524.87 344.1 524.98 344.1 525.09 344.1 525.2 344.1 525.31 344.1 525.42 344.1 525.53 344.1 525.64 344.1 525.75 344.1 525.86 344.1 525.97 344.1 526.08 344.1 526.19 344.1 526.3 344.1 526.41 344.1 526.52 344.1 526.64 344.1 526.75 344.1 526.86 344.1 526.97 344.1 527.08 343.68 527.19 342.23 527.3 340.9 527.41 339.67 527.52 338.54 527.63 337.5 527.74 336.54 527.85 335.65 527.96 334.83 528.07 334.08 528.18 333.39 528.29 332.76 528.4 332.19 528.51 331.67 528.63 331.2 528.74 330.79 528.85 330.42 528.96 330.1 529.07 329.83 529.18 329.61 529.29 329.43 529.4 329.29 529.51 329.2 529.62 329.16 529.73 329.15 529.84 329.2 529.95 329.29 530.06 329.42 530.17 329.61 530.28 329.83 530.39 330.11 530.5 330.44 530.62 330.82 530.73 331.25 530.84 331.74 530.95 332.29 531.06 332.9 531.17 333.57 531.28 334.32 531.39 335.13 531.5 336.03 531.61 337.01 531.72 338.08 531.83 339.26 531.94 340.54 532.05 341.96 532.16 343.51 532.27 344.1 532.38 344.1 532.5 344.1 532.61 344.1 532.72 344.1 532.83 344.1 532.94 344.1 533.05 344.1 533.16 344.1 533.27 344.1 533.38 344.1 533.49 344.1 533.6 344.1 533.71 344.1 533.82 344.1 533.93 344.1 534.04 344.1 534.15 344.1 534.26 344.1 534.37 344.1 534.49 344.1 534.6 344.1 534.71 344.1 534.82 344.1 534.93 343.68 535.04 341.82 535.15 340.13 535.26 338.58 535.37 337.15 535.48 335.84 535.59 334.63 535.7 333.51 535.81 332.48 535.92 331.53 536.03 330.65 536.14 329.84 536.25 329.09 536.36 328.41 536.48 327.78 536.59 327.21 536.7 326.7 536.81 326.23 536.92 325.82 537.03 325.45 537.14 325.14 537.25 324.86 537.36 324.64 537.47 324.46 537.58 324.32 537.69 324.23 537.8 324.19 537.91 324.18 538.02 324.23 538.13 324.32 538.24 324.45 538.35 324.63 538.47 324.86 538.58 325.14 538.69 325.47 538.8 325.85 538.91 326.28 539.02 326.78 539.13 327.33 539.24 327.94 539.35 328.62 539.46 329.37 539.57 330.19 539.68 331.09 539.79 332.08 539.9 333.17 540.01 334.36 540.12 335.67 540.23 337.1 540.35 338.69 540.46 340.44 540.57 342.39 540.68 344.1 540.79 344.1 540.9 344.1 541.01 344.1 541.12 344.1 541.23 344.1 541.34 344.1 541.45 344.1 541.56 344.1 541.67 344.1 541.78 344.1 541.89 344.1 542 344.1 542.11 344.1 542.22 344.1 542.34 344.1 542.45 344.1 542.56 344.1 542.67 344.1 542.78 344.09 542.89 341.63 543 339.41 543.11 337.41 543.22 335.58 543.33 333.91 543.44 332.38 543.55 330.97 543.66 329.67 543.77 328.47 543.88 327.36 543.99 326.33 544.1 325.38 544.21 324.51 544.33 323.69 544.44 322.95 544.55 322.26 544.66 321.63 544.77 321.06 544.88 320.54 544.99 320.07 545.1 319.65 545.21 319.27 545.32 318.95 545.43 318.67 545.54 318.44 545.65 318.25 545.76 318.1 545.87 318.01 545.98 317.95 546.09 317.94 546.2 317.97 546.32 318.05 546.43 318.18 546.54 318.35 546.65 318.58 546.76 318.85 546.87 319.17 546.98 319.54 547.09 319.97 547.2 320.45 547.31 321 547.42 321.61 547.53 322.28 547.64 323.03 547.75 323.85 547.86 324.75 547.97 325.74 548.08 326.84 548.2 328.03 548.31 329.35 548.42 330.8 548.53 332.41 548.64 334.19 548.75 336.17 548.86 338.4 548.97 340.92 549.08 343.8 549.19 344.1 549.3 344.1 549.41 344.1 549.52 344.1 549.63 344.1 549.74 344.1 549.85 344.1 549.96 344.1 550.07 344.1 550.19 344.1 550.3 344.1 550.41 344.1 550.52 344.1 550.63 344.1 550.74 341.75 550.85 338.69 550.96 335.98 551.07 333.56 551.18 331.38 551.29 329.4 551.4 327.59 551.51 325.93 551.62 324.41 551.73 323 551.84 321.69 551.95 320.49 552.06 319.37 552.18 318.33 552.29 317.37 552.4 316.48 552.51 315.65 552.62 314.89 552.73 314.18 552.84 313.54 552.95 312.94 553.06 312.4 553.17 311.91 553.28 311.47 553.39 311.07 553.5 310.73 553.61 310.42 553.72 310.16 553.83 309.95 553.94 309.78 554.05 309.66 554.17 309.58 554.28 309.54 554.39 309.55 554.5 309.6 554.61 309.7 554.72 309.85 554.83 310.04 554.94 310.29 555.05 310.58 555.16 310.93 555.27 311.33 555.38 311.79 555.49 312.31 555.6 312.89 555.71 313.54 555.82 314.26 555.93 315.06 556.04 315.94 556.16 316.92 556.27 317.99 556.38 319.18 556.49 320.48 556.6 321.93 556.71 323.53 556.82 325.32 556.93 327.32 557.04 329.58 557.15 332.14 557.26 335.1 557.37 338.55 557.48 342.68 557.59 344.1 557.7 344.1 557.81 344.1 557.92 344.1 558.04 344.1 558.15 344.1 558.26 344.1 558.37 344.1 558.48 344.1 558.59 342.48 558.7 337.77 558.81 333.79 558.92 330.36 559.03 327.35 559.14 324.68 559.25 322.27 559.36 320.08 559.47 318.09 559.58 316.26 559.69 314.57 559.8 313.02 559.91 311.57 560.03 310.23 560.14 308.98 560.25 307.81 560.36 306.73 560.47 305.71 560.58 304.77 560.69 303.89 560.8 303.07 560.91 302.3 561.02 301.59 561.13 300.94 561.24 300.33 561.35 299.77 561.46 299.26 561.57 298.8 561.68 298.38 561.79 298.01 561.9 297.67 562.02 297.39 562.13 297.14 562.24 296.94 562.35 296.78 562.46 296.66 562.57 296.59 562.68 296.56 562.79 296.58 562.9 296.64 563.01 296.75 563.12 296.91 563.23 297.11 563.34 297.37 563.45 297.68 563.56 298.05 563.67 298.48 563.78 298.97 563.89 299.52 564.01 300.15 564.12 300.86 564.23 301.65 564.34 302.53 564.45 303.51 564.56 304.6 564.67 305.82 564.78 307.18 564.89 308.7 565 310.41 565.11 312.34 565.22 314.54 565.33 317.07 565.44 320.01 565.55 323.49 565.66 327.71 565.77 333.01 565.88 340.02 566 344.1 566.11 344.1 566.22 344.1 566.33 344.1 566.44 344.1 566.55 336.94 566.66 329.83 566.77 324.21 566.88 319.56 566.99 315.57 567.1 312.09 567.21 308.99 567.32 306.19 567.43 303.65 567.54 301.31 567.65 299.15 567.76 297.14 567.88 295.27 567.99 293.51 568.1 291.85 568.21 290.28 568.32 288.8 568.43 287.4 568.54 286.06 568.65 284.79 568.76 283.57 568.87 282.41 568.98 281.3 569.09 280.24 569.2 279.22 569.31 278.24 569.42 277.3 569.53 276.4 569.64 275.53 569.75 274.7 569.87 273.9 569.98 273.13 570.09 272.38 570.2 271.67 570.31 270.98 570.42 270.32 570.53 269.68 570.64 269.07 570.75 268.48 570.86 267.91 570.97 267.36 571.08 266.83 571.19 266.33 571.3 265.84 571.41 265.38 571.52 264.93 571.63 264.5 571.74 264.09 571.86 263.7 571.97 263.32 572.08 262.96 572.19 262.62 572.3 262.29 572.41 261.98 572.52 261.69 572.63 261.41 572.74 261.15 572.85 260.9 572.96 260.67 573.07 260.45 573.18 260.25 573.29 260.06 573.4 259.89 573.51 259.73 573.62 259.59 573.73 259.45 573.85 259.34 573.96 259.24 574.07 259.15 574.18 259.07 574.29 259.01 574.4 258.96 574.51 258.93 574.62 258.91 574.73 258.9 574.84 258.91 574.95 258.93 575.06 258.96 575.17 259.01 575.28 259.07 575.39 259.15 575.5 259.24 575.61 259.34 575.73 259.45 575.84 259.59 575.95 259.73 576.06 259.89 576.17 260.06 576.28 260.25 576.39 260.45 576.5 260.67 576.61 260.9 576.72 261.15 576.83 261.41 576.94 261.69 577.05 261.98 577.16 262.29 577.27 262.62 577.38 262.96 577.49 263.32 577.6 263.7 577.72 264.09 577.83 264.5 577.94 264.93 578.05 265.38 578.16 265.84 578.27 266.33 578.38 266.83 578.49 267.36 578.6 267.91 578.71 268.48 578.82 269.07 578.93 269.68 579.04 270.32 579.15 270.98 579.26 271.67 579.37 272.38 579.48 273.13 579.59 273.9 579.71 274.7 579.82 275.53 579.93 276.4 580.04 277.3 580.15 278.24 580.26 279.22 580.37 280.24 580.48 281.3 580.59 282.41 580.7 283.57 580.81 284.79 580.92 286.06 581.03 287.4 581.14 288.8 581.25 290.28 581.36 291.85 581.47 293.51 581.58 295.27 581.7 297.14 581.81 299.15 581.92 301.31 582.03 303.65 582.14 306.19 582.25 308.99 582.36 312.09 582.47 315.57 582.58 319.56 582.69 324.21 582.8 329.83 582.91 336.94 583.02 344.1 583.13 344.1 583.24 344.1 583.35 344.1 583.46 344.1 583.58 340.02 583.69 333.01 583.8 327.71 583.91 323.49 584.02 320.01 584.13 317.07 584.24 314.54 584.35 312.34 584.46 310.41 584.57 308.7 584.68 307.18 584.79 305.82 584.9 304.6 585.01 303.51 585.12 302.53 585.23 301.65 585.34 300.86 585.45 300.15 585.57 299.52 585.68 298.97 585.79 298.48 585.9 298.05 586.01 297.68 586.12 297.37 586.23 297.11 586.34 296.91 586.45 296.75 586.56 296.64 586.67 296.58 586.78 296.56 586.89 296.59 587 296.66 587.11 296.78 587.22 296.94 587.33 297.14 587.44 297.39 587.56 297.67 587.67 298.01 587.78 298.38 587.89 298.8 588 299.26 588.11 299.77 588.22 300.33 588.33 300.94 588.44 301.59 588.55 302.3 588.66 303.07 588.77 303.89 588.88 304.77 588.99 305.71 589.1 306.73 589.21 307.81 589.32 308.98 589.43 310.23 589.55 311.57 589.66 313.02 589.77 314.57 589.88 316.26 589.99 318.09 590.1 320.08 590.21 322.27 590.32 324.68 590.43 327.35 590.54 330.36 590.65 333.79 590.76 337.77 590.87 342.48 590.98 344.1 591.09 344.1 591.2 344.1 591.31 344.1 591.42 344.1 591.54 344.1 591.65 344.1 591.76 344.1 591.87 344.1 591.98 342.68 592.09 338.55 592.2 335.1 592.31 332.14 592.42 329.58 592.53 327.32 592.64 325.32 592.75 323.53 592.86 321.93 592.97 320.48 593.08 319.18 593.19 317.99 593.3 316.92 593.42 315.94 593.53 315.06 593.64 314.26 593.75 313.54 593.86 312.89 593.97 312.31 594.08 311.79 594.19 311.33 594.3 310.93 594.41 310.58 594.52 310.29 594.63 310.04 594.74 309.85 594.85 309.7 594.96 309.6 595.07 309.55 595.18 309.54 595.29 309.58 595.41 309.66 595.52 309.78 595.63 309.95 595.74 310.16 595.85 310.42 595.96 310.73 596.07 311.07 596.18 311.47 596.29 311.91 596.4 312.4 596.51 312.94 596.62 313.54 596.73 314.18 596.84 314.89 596.95 315.65 597.06 316.48 597.17 317.37 597.28 318.33 597.4 319.37 597.51 320.49 597.62 321.69 597.73 323 597.84 324.41 597.95 325.93 598.06 327.59 598.17 329.4 598.28 331.38 598.39 333.56 598.5 335.98 598.61 338.69 598.72 341.75 598.83 344.1 598.94 344.1 599.05 344.1 599.16 344.1 599.27 344.1 599.39 344.1 599.5 344.1 599.61 344.1 599.72 344.1 599.83 344.1 599.94 344.1 600.05 344.1 600.16 344.1 600.27 344.1 600.38 343.8 600.49 340.92 600.6 338.4 600.71 336.17 600.82 334.19 600.93 332.41 601.04 330.8 601.15 329.35 601.26 328.03 601.38 326.84 601.49 325.74 601.6 324.75 601.71 323.85 601.82 323.03 601.93 322.28 602.04 321.61 602.15 321 602.26 320.45 602.37 319.97 602.48 319.54 602.59 319.17 602.7 318.85 602.81 318.58 602.92 318.35 603.03 318.18 603.14 318.05 603.26 317.97 603.37 317.94 603.48 317.95 603.59 318.01 603.7 318.1 603.81 318.25 603.92 318.44 604.03 318.67 604.14 318.95 604.25 319.27 604.36 319.65 604.47 320.07 604.58 320.54 604.69 321.06 604.8 321.63 604.91 322.26 605.02 322.95 605.13 323.69 605.25 324.51 605.36 325.38 605.47 326.33 605.58 327.36 605.69 328.47 605.8 329.67 605.91 330.97 606.02 332.38 606.13 333.91 606.24 335.58 606.35 337.41 606.46 339.41 606.57 341.63 606.68 344.09 606.79 344.1 606.9 344.1 607.01 344.1 607.12 344.1 607.24 344.1 607.35 344.1 607.46 344.1 607.57 344.1 607.68 344.1 607.79 344.1 607.9 344.1 608.01 344.1 608.12 344.1 608.23 344.1 608.34 344.1 608.45 344.1 608.56 344.1 608.67 344.1 608.78 344.1 608.89 342.39 609 340.44 609.11 338.69 609.23 337.1 609.34 335.67 609.45 334.36 609.56 333.17 609.67 332.08 609.78 331.09 609.89 330.19 610 329.37 610.11 328.62 610.22 327.94 610.33 327.33 610.44 326.78 610.55 326.28 610.66 325.85 610.77 325.47 610.88 325.14 610.99 324.86 611.11 324.63 611.22 324.45 611.33 324.32 611.44 324.23 611.55 324.18 611.66 324.19 611.77 324.23 611.88 324.32 611.99 324.46 612.1 324.64 612.21 324.86 612.32 325.14 612.43 325.45 612.54 325.82 612.65 326.23 612.76 326.7 612.87 327.21 612.98 327.78 613.1 328.41 613.21 329.09 613.32 329.84 613.43 330.65 613.54 331.53 613.65 332.48 613.76 333.51 613.87 334.63 613.98 335.84 614.09 337.15 614.2 338.58 614.31 340.13 614.42 341.82 614.53 343.68 614.64 344.1 614.75 344.1 614.86 344.1 614.97 344.1 615.09 344.1 615.2 344.1 615.31 344.1 615.42 344.1 615.53 344.1 615.64 344.1 615.75 344.1 615.86 344.1 615.97 344.1 616.08 344.1 616.19 344.1 616.3 344.1 616.41 344.1 616.52 344.1 616.63 344.1 616.74 344.1 616.85 344.1 616.96 344.1 617.08 344.1 617.19 344.1 617.3 343.51 617.41 341.96 617.52 340.54 617.63 339.26 617.74 338.08 617.85 337.01 617.96 336.03 618.07 335.13 618.18 334.32 618.29 333.57 618.4 332.9 618.51 332.29 618.62 331.74 618.73 331.25 618.84 330.82 618.96 330.44 619.07 330.11 619.18 329.83 619.29 329.61 619.4 329.42 619.51 329.29 619.62 329.2 619.73 329.15 619.84 329.16 619.95 329.2 620.06 329.29 620.17 329.43 620.28 329.61 620.39 329.83 620.5 330.1 620.61 330.42 620.72 330.79 620.83 331.2 620.95 331.67 621.06 332.19 621.17 332.76 621.28 333.39 621.39 334.08 621.5 334.83 621.61 335.65 621.72 336.54 621.83 337.5 621.94 338.54 622.05 339.67 622.16 340.9 622.27 342.23 622.38 343.68 622.49 344.1 622.6 344.1 622.71 344.1 622.82 344.1 622.94 344.1 623.05 344.1 623.16 344.1 623.27 344.1 623.38 344.1 623.49 344.1 623.6 344.1 623.71 344.1 623.82 344.1 623.93 344.1 624.04 344.1 624.15 344.1 624.26 344.1 624.37 344.1 624.48 344.1 624.59 344.1 624.7 344.1 624.81 344.1 624.93 344.1 625.04 344.1 625.15 344.1 625.26 344.1 625.37 344.1 625.48 344.1 625.59 344.1 625.7 344.1 625.81 343.23 625.92 342.07 626.03 341.02 626.14 340.05 626.25 339.17 626.36 338.37 626.47 337.63 626.58 336.97 626.69 336.37 626.8 335.83 626.92 335.35 627.03 334.92 627.14 334.54 627.25 334.22 627.36 333.95 627.47 333.72 627.58 333.54 627.69 333.41 627.8 333.33 627.91 333.29 628.02 333.29 628.13 333.34 628.24 333.43 628.35 333.57 628.46 333.76 628.57 333.99 628.68 334.26 628.8 334.58 628.91 334.96 629.02 335.38 629.13 335.85 629.24 336.37 629.35 336.95 629.46 337.59 629.57 338.29 629.68 339.05 629.79 339.88 629.9 340.78 630.01 341.75 630.12 342.81 630.23 343.96 630.34 344.1 630.45 344.1 630.56 344.1 630.67 344.1 630.79 344.1 630.9 344.1 631.01 344.1 631.12 344.1 631.23 344.1 631.34 344.1 631.45 344.1 631.56 344.1 631.67 344.1 631.78 344.1 631.89 344.1 632 344.1 632.11 344.1 632.22 344.1 632.33 344.1 632.44 344.1 632.55 344.1 632.66 344.1 632.78 344.1 632.89 344.1 633 344.1 633.11 344.1 633.22 344.1 633.33 344.1 633.44 344.1 633.55 344.1 633.66 344.1 633.77 344.1 633.88 344.1 633.99 344.1 634.1 344.1 634.21 344.1 634.32 343.44 634.43 342.58 634.54 341.79 634.65 341.07 634.77 340.41 634.88 339.82 634.99 339.29 635.1 338.82 635.21 338.4 635.32 338.03 635.43 337.72 635.54 337.45 635.65 337.23 635.76 337.06 635.87 336.94 635.98 336.86 636.09 336.82 636.2 336.83 636.31 336.89 636.42 336.99 636.53 337.13 636.64 337.32 636.76 337.56 636.87 337.84 636.98 338.17 637.09 338.55 637.2 338.98 637.31 339.46 637.42 339.99 637.53 340.58 637.64 341.23 637.75 341.94 637.86 342.71 637.97 343.55 638.08 344.1 638.19 344.1 638.3 344.1 638.41 344.1 638.52 344.1 638.64 344.1 638.75 344.1 638.86 344.1 638.97 344.1 639.08 344.1 639.19 344.1 639.3 344.1 639.41 344.1 639.52 344.1 639.63 344.1 639.74 344.1 639.85 344.1 639.96 344.1 640.07 344.1 640.18 344.1 640.29 344.1 640.4 344.1 640.51 344.1 640.63 344.1 640.74 344.1 640.85 344.1 640.96 344.1 641.07 344.1 641.18 344.1 641.29 344.1 641.4 344.1 641.51 344.1 641.62 344.1 641.73 344.1 641.84 344.1 641.95 344.1 642.06 344.1 642.17 344.1 642.28 344.1 642.39 344.1 642.5 344.1 642.62 344.1 642.73 344.1 642.84 344.04 642.95 343.4 643.06 342.82 643.17 342.3 643.28 341.83 643.39 341.42 643.5 341.07 643.61 340.76 643.72 340.5 643.83 340.29 643.94 340.13 644.05 340.01 644.16 339.94 644.27 339.91 644.38 339.93 644.49 339.99 644.61 340.1 644.72 340.25 644.83 340.45 644.94 340.7 645.05 340.99 645.16 341.33 645.27 341.71 645.38 342.15 645.49 342.64 645.6 343.19 645.71 343.79 645.82 344.1 645.93 344.1 646.04 344.1 646.15 344.1 646.26 344.1 646.37 344.1 646.49 344.1 646.6 344.1 646.71 344.1 646.82 344.1 646.93 344.1 647.04 344.1 647.15 344.1 647.26 344.1 647.37 344.1 647.48 344.1 647.59 344.1 647.7 344.1 647.81 344.1 647.92 344.1 648.03 344.1 648.14 344.1 648.25 344.1 648.36 344.1 648.48 344.1 648.59 344.1 648.7 344.1 648.81 344.1 648.92 344.1 649.03 344.1 649.14 344.1 649.25 344.1 649.36 344.1 649.47 344.1 649.58 344.1 649.69 344.1 649.8 344.1 649.91 344.1 650.02 344.1 650.13 344.1 650.24 344.1 650.35 344.1 650.47 344.1 650.58 344.1 650.69 344.1 650.8 344.1 650.91 344.1 651.02 344.1 651.13 344.1 651.24 344.1 651.35 344.1 651.46 344.1 651.57 344.1 651.68 343.75 651.79 343.45 651.9 343.2 652.01 343 652.12 342.85 652.23 342.74 652.34 342.68 652.46 342.66 652.57 342.69 652.68 342.76 652.79 342.87 652.9 343.04 653.01 343.24 653.12 343.5 653.23 343.8 653.34 344.1 653.45 344.1 653.56 344.1 653.67 344.1 653.78 344.1 653.89 344.1 654 344.1 654.11 344.1 654.22 344.1 654.34 344.1 654.45 344.1 654.56 344.1 654.67 344.1 654.78 344.1 654.89 344.1 655 344.1 655.11 344.1 655.22 344.1 655.33 344.1 655.44 344.1 655.55 344.1 655.66 344.1 655.77 344.1 655.88 344.1 655.99 344.1 656.1 344.1 656.21 344.1 656.33 344.1 656.44 344.1 656.55 344.1 656.66 344.1 656.77 344.1 656.88 344.1 656.99 344.1 657.1 344.1 657.21 344.1 657.32 344.1 657.43 344.1 657.54 344.1 657.65 344.1 657.76 344.1 657.87 344.1 657.98 344.1 658.09 344.1 658.2 344.1 658.32 344.1 658.43 344.1 658.54 344.1 658.65 344.1 658.76 344.1 658.87 344.1 658.98 344.1 659.09 344.1 659.2 344.1 659.31 344.1 659.42 344.1 659.53 344.1 659.64 344.1 659.75 344.1 659.86 344.1 659.97 344.1 660.08 344.1 660.19 344.1 660.31 344.1 660.42 344.1 660.53 344.1 660.64 344.1 660.75 344.1 660.86 344.1 660.97 344.1 661.08 344.1 661.19 344.1 661.3 344.1 661.41 344.1 661.52 344.1 661.63 344.1 661.74 344.1 661.85 344.1 661.96 344.1 662.07 344.1 662.18 344.1 662.3 344.1 662.41 344.1 662.52 344.1 662.63 344.1 662.74 344.1 662.85 344.1 662.96 344.1 663.07 344.1 663.18 344.1" fill="none" stroke="#28288a" stroke-width="1.05" stroke-linejoin="round"/>
<rect x="486.5" y="208.3" width="176.9" height="135.4" fill="none" stroke="#808080" stroke-width="0.9"/>
<path d="M486.5 230.5h2M663.4 230.5h-2M486.5 258.9h2M663.4 258.9h-2M486.5 287.3h2M663.4 287.3h-2M486.5 315.7h2M663.4 315.7h-2M486.5 344.1h2M663.4 344.1h-2M505.9 343.7v-2M505.9 208.3v2M540.31 343.7v-2M540.31 208.3v2M574.73 343.7v-2M574.73 208.3v2M609.15 343.7v-2M609.15 208.3v2M643.56 343.7v-2M643.56 208.3v2" stroke="#444" stroke-width="0.7" fill="none"/>
<text x="484.7" y="233.4" font-size="8.8" text-anchor="end" fill="#1a1a1a" stroke="#1a1a1a" stroke-width="0.15">10</text>
<text x="484.7" y="261.8" font-size="8.8" text-anchor="end" fill="#1a1a1a" stroke="#1a1a1a" stroke-width="0.15">0</text>
<text x="484.7" y="290.2" font-size="8.8" text-anchor="end" fill="#1a1a1a" stroke="#1a1a1a" stroke-width="0.15">-10</text>
<text x="484.7" y="318.6" font-size="8.8" text-anchor="end" fill="#1a1a1a" stroke="#1a1a1a" stroke-width="0.15">-20</text>
<text x="484.7" y="347" font-size="8.8" text-anchor="end" fill="#1a1a1a" stroke="#1a1a1a" stroke-width="0.15">-30</text>
<text x="504.7" y="353.3" font-size="8.8" text-anchor="middle" fill="#1a1a1a" stroke="#1a1a1a" stroke-width="0.15">-10</text>
<text x="538.81" y="353.3" font-size="8.8" text-anchor="middle" fill="#1a1a1a" stroke="#1a1a1a" stroke-width="0.15">-5</text>
<text x="574.23" y="353.3" font-size="8.8" text-anchor="middle" fill="#1a1a1a" stroke="#1a1a1a" stroke-width="0.15">0</text>
<text x="608.65" y="353.3" font-size="8.8" text-anchor="middle" fill="#1a1a1a" stroke="#1a1a1a" stroke-width="0.15">5</text>
<text x="643.06" y="353.3" font-size="8.8" text-anchor="middle" fill="#1a1a1a" stroke="#1a1a1a" stroke-width="0.15">10</text>
<text x="573.73" y="362.9" font-size="8.7" text-anchor="middle" fill="#1a1a1a" stroke="#1a1a1a" stroke-width="0.15">Azimuth samples</text>
<text transform="translate(467.6 276.2) rotate(-90)" font-size="8.85" text-anchor="middle" fill="#1a1a1a" stroke="#1a1a1a" stroke-width="0.15">Magnitude (dB)</text>
<text x="114.3" y="187" font-family='"Liberation Serif", "Times New Roman", serif' font-weight="bold" font-size="14" text-anchor="middle" fill="#111">(a)</text>
<text x="342.5" y="187.3" font-family='"Liberation Serif", "Times New Roman", serif' font-weight="bold" font-size="14" text-anchor="middle" fill="#111">(b)</text>
<text x="570.7" y="187.1" font-family='"Liberation Serif", "Times New Roman", serif' font-weight="bold" font-size="14" text-anchor="middle" fill="#111">(c)</text>
<text x="114.5" y="382.7" font-family='"Liberation Serif", "Times New Roman", serif' font-weight="bold" font-size="14" text-anchor="middle" fill="#111">(d)</text>
<text x="342.6" y="382.6" font-family='"Liberation Serif", "Times New Roman", serif' font-weight="bold" font-size="14" text-anchor="middle" fill="#111">(e)</text>
<text x="570.8" y="382.6" font-family='"Liberation Serif", "Times New Roman", serif' font-weight="bold" font-size="14" text-anchor="middle" fill="#111">(f)</text>
</svg>
</body></html>
